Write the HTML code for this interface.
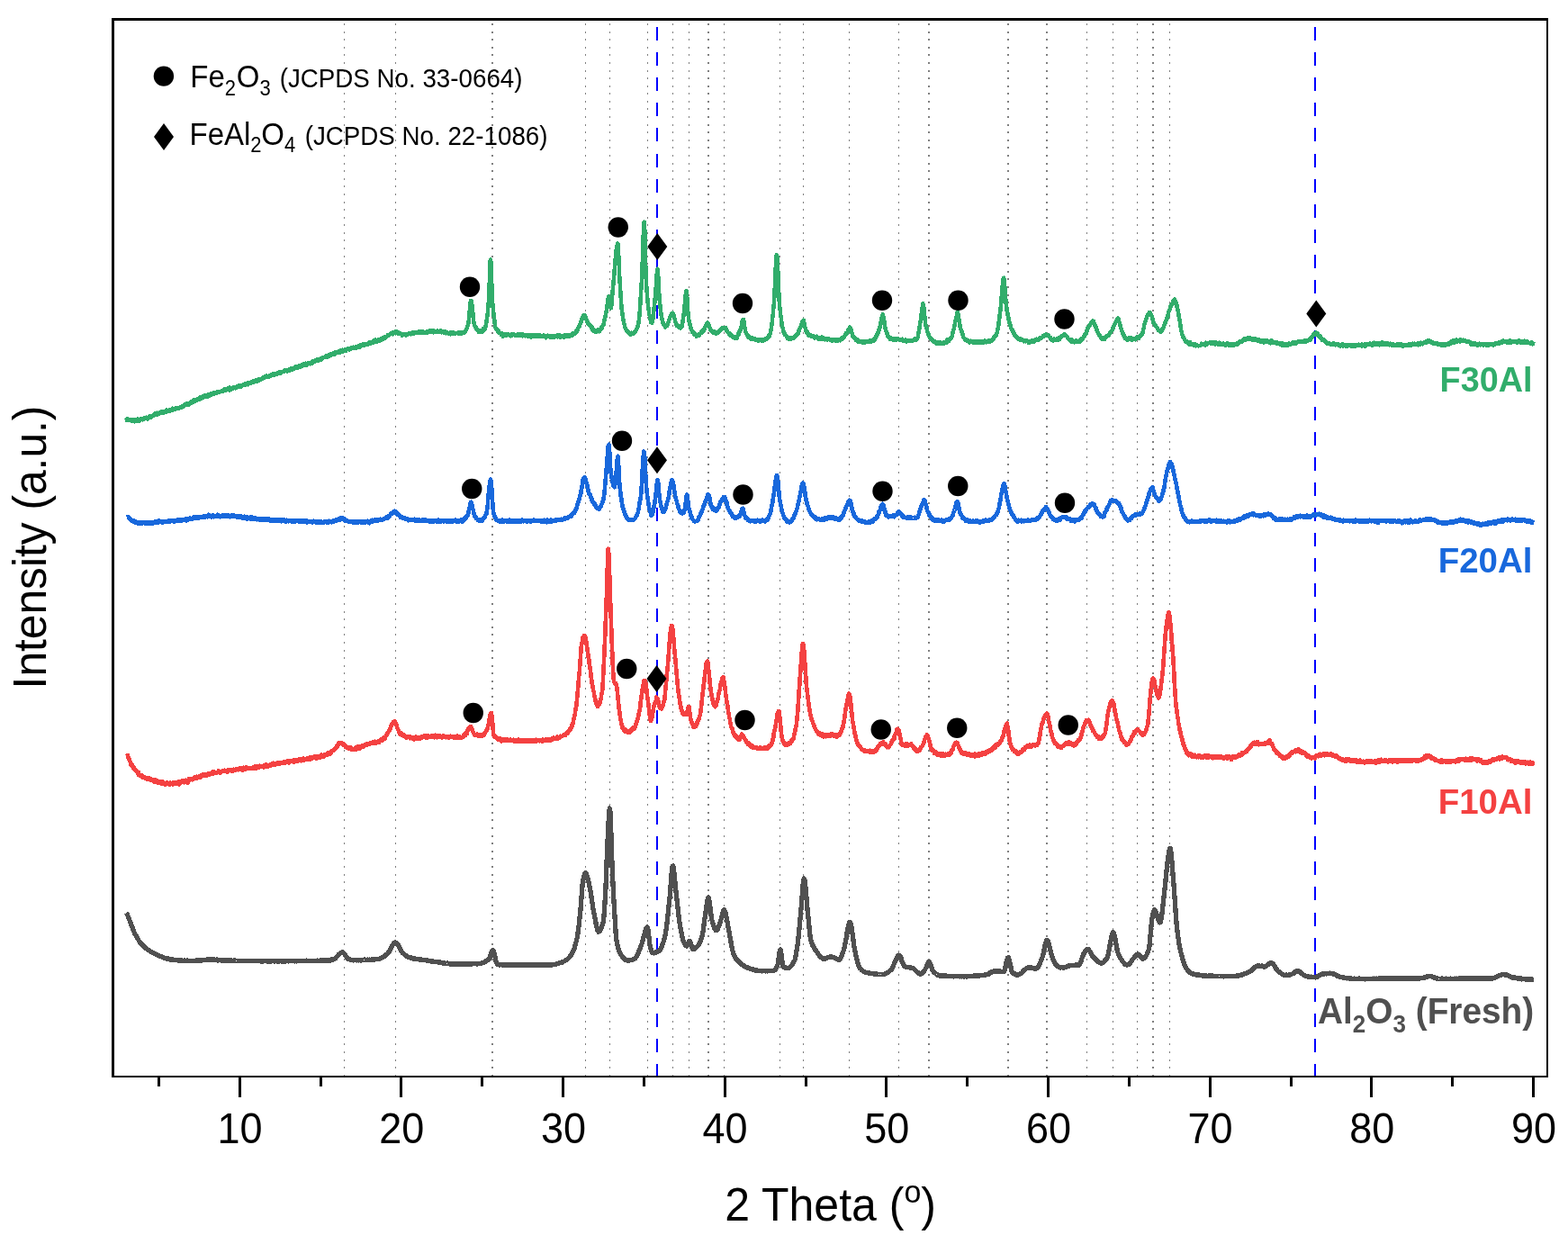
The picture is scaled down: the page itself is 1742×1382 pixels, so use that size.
<!DOCTYPE html>
<html lang="en"><head><meta charset="utf-8"><title>XRD patterns</title>
<style>html,body{margin:0;padding:0;background:#fff;}body{width:1742px;height:1382px;overflow:hidden;}svg{display:block;}text{font-family:"Liberation Sans",Arial,Helvetica,sans-serif;}</style>
</head><body>
<svg width="1742" height="1382" viewBox="0 0 1742 1382">
<rect x="0" y="0" width="1742" height="1382" fill="#ffffff"/>
<g stroke="#808080" fill="none" shape-rendering="crispEdges">
<line x1="382.5" y1="26.0" x2="382.5" y2="1195.0" stroke-width="1" stroke-dasharray="2 6.587"/>
<line x1="439.5" y1="26.0" x2="439.5" y2="1195.0" stroke-width="1" stroke-dasharray="2 6.587"/>
<line x1="547.0" y1="26.0" x2="547.0" y2="1195.0" stroke-width="2" stroke-dasharray="2 6.587"/>
<line x1="650.5" y1="26.0" x2="650.5" y2="1195.0" stroke-width="1" stroke-dasharray="2 6.587"/>
<line x1="677.5" y1="26.0" x2="677.5" y2="1195.0" stroke-width="1" stroke-dasharray="2 6.587"/>
<line x1="719.5" y1="26.0" x2="719.5" y2="1195.0" stroke-width="1" stroke-dasharray="2 6.587"/>
<line x1="747.5" y1="26.0" x2="747.5" y2="1195.0" stroke-width="1" stroke-dasharray="2 6.587"/>
<line x1="765.5" y1="26.0" x2="765.5" y2="1195.0" stroke-width="1" stroke-dasharray="2 6.587"/>
<line x1="787.0" y1="26.0" x2="787.0" y2="1195.0" stroke-width="2" stroke-dasharray="2 6.587"/>
<line x1="804.5" y1="26.0" x2="804.5" y2="1195.0" stroke-width="1" stroke-dasharray="2 6.587"/>
<line x1="866.5" y1="26.0" x2="866.5" y2="1195.0" stroke-width="1" stroke-dasharray="2 6.587"/>
<line x1="892.5" y1="26.0" x2="892.5" y2="1195.0" stroke-width="1" stroke-dasharray="2 6.587"/>
<line x1="943.5" y1="26.0" x2="943.5" y2="1195.0" stroke-width="1" stroke-dasharray="2 6.587"/>
<line x1="998.5" y1="26.0" x2="998.5" y2="1195.0" stroke-width="1" stroke-dasharray="2 6.587"/>
<line x1="1032.0" y1="26.0" x2="1032.0" y2="1195.0" stroke-width="2" stroke-dasharray="2 6.587"/>
<line x1="1120.0" y1="26.0" x2="1120.0" y2="1195.0" stroke-width="2" stroke-dasharray="2 6.587"/>
<line x1="1163.0" y1="26.0" x2="1163.0" y2="1195.0" stroke-width="2" stroke-dasharray="2 6.587"/>
<line x1="1207.5" y1="26.0" x2="1207.5" y2="1195.0" stroke-width="1" stroke-dasharray="2 6.587"/>
<line x1="1236.5" y1="26.0" x2="1236.5" y2="1195.0" stroke-width="1" stroke-dasharray="2 6.587"/>
<line x1="1263.5" y1="26.0" x2="1263.5" y2="1195.0" stroke-width="1" stroke-dasharray="2 6.587"/>
<line x1="1281.0" y1="26.0" x2="1281.0" y2="1195.0" stroke-width="2" stroke-dasharray="2 6.587"/>
<line x1="1299.5" y1="26.0" x2="1299.5" y2="1195.0" stroke-width="1" stroke-dasharray="2 6.587"/>
</g>
<g stroke="#0000ff" stroke-width="2" fill="none" shape-rendering="crispEdges" stroke-dasharray="15 13.1">
<line x1="730.0" y1="30.0" x2="730.0" y2="1195.0"/>
<line x1="1461.0" y1="30.0" x2="1461.0" y2="1195.0"/>
</g>
<polyline fill="none" stroke="#505050" stroke-width="5.3" stroke-linejoin="round" stroke-linecap="butt" shape-rendering="crispEdges" points="140.5,1014.0 140.9,1014.7 141.3,1015.7 141.7,1016.6 142.1,1017.9 142.5,1018.4 142.9,1020.0 143.3,1020.6 143.7,1021.8 144.1,1022.7 144.5,1024.0 144.9,1024.4 145.3,1025.7 145.7,1026.7 146.1,1028.0 146.5,1028.7 146.9,1029.9 147.3,1030.9 147.7,1032.1 148.1,1033.2 148.5,1033.9 148.9,1035.2 149.3,1036.1 149.7,1037.0 150.1,1037.8 150.5,1038.4 150.9,1039.3 151.3,1039.9 151.7,1040.7 152.1,1041.6 152.5,1042.1 152.9,1042.8 153.3,1043.4 153.7,1044.0 154.1,1044.7 154.5,1045.3 154.9,1045.7 155.3,1046.4 155.7,1047.1 156.1,1047.5 156.5,1047.8 156.9,1048.2 157.3,1048.7 157.7,1049.5 158.1,1049.7 158.5,1050.0 158.9,1050.6 159.3,1051.3 159.7,1051.4 160.1,1051.8 160.5,1052.1 160.9,1052.4 161.3,1052.6 161.7,1053.1 162.1,1053.4 162.5,1053.8 162.9,1054.2 163.3,1054.5 163.7,1054.7 164.1,1055.1 164.5,1055.1 164.9,1055.7 165.3,1055.8 165.7,1056.0 166.1,1056.3 166.5,1056.5 166.9,1056.9 167.3,1057.2 167.7,1057.6 168.1,1057.3 168.5,1057.5 168.9,1057.9 169.3,1058.2 169.7,1058.5 170.1,1058.7 170.5,1058.5 170.9,1059.0 171.3,1059.4 171.7,1059.5 172.1,1059.8 172.5,1059.8 172.9,1060.0 173.3,1060.3 173.7,1060.5 174.1,1060.6 174.5,1060.8 174.9,1060.9 175.3,1061.2 175.7,1061.3 176.1,1061.7 176.5,1061.8 176.9,1061.9 177.3,1062.0 177.7,1062.1 178.1,1062.4 178.5,1062.6 178.9,1062.7 179.3,1062.9 179.7,1063.0 180.1,1063.3 180.5,1063.3 180.9,1063.7 181.3,1063.7 181.7,1063.9 182.1,1063.8 182.5,1064.2 182.9,1064.4 183.3,1064.3 183.7,1064.5 184.1,1064.7 184.5,1064.6 184.9,1064.9 185.3,1065.1 185.7,1065.0 186.1,1065.3 186.5,1065.1 186.9,1065.4 187.3,1065.2 187.7,1065.7 188.1,1065.7 188.5,1065.7 188.9,1065.6 189.3,1066.0 189.7,1066.2 190.1,1065.7 190.5,1066.2 190.9,1066.3 191.3,1066.2 191.7,1066.0 192.1,1066.4 192.5,1066.3 192.9,1066.2 193.3,1066.2 193.7,1066.5 194.1,1066.6 194.5,1066.4 194.9,1066.6 195.3,1066.4 195.7,1066.8 196.1,1066.7 196.5,1066.7 196.9,1066.8 197.3,1066.9 197.7,1066.9 198.1,1066.9 198.5,1066.9 198.9,1066.9 199.3,1067.0 199.7,1067.0 200.1,1067.1 200.5,1067.0 200.9,1066.7 201.3,1067.2 201.7,1067.4 202.1,1067.2 202.5,1067.1 202.9,1067.2 203.3,1067.2 203.7,1067.2 204.1,1067.1 204.5,1067.2 204.9,1067.1 205.3,1067.3 205.7,1067.3 206.1,1067.4 206.5,1067.3 206.9,1067.5 207.3,1067.4 207.7,1067.7 208.1,1067.1 208.5,1067.3 208.9,1067.6 209.3,1067.8 209.7,1067.4 210.1,1067.5 210.5,1067.4 210.9,1067.7 211.3,1067.5 211.7,1067.6 212.1,1067.5 212.5,1067.3 212.9,1067.5 213.3,1067.6 213.7,1067.7 214.1,1067.5 214.5,1067.4 214.9,1067.5 215.3,1067.5 215.7,1067.4 216.1,1067.4 216.5,1067.5 216.9,1067.4 217.3,1067.6 217.7,1067.4 218.1,1067.3 218.5,1066.9 218.9,1067.2 219.3,1067.2 219.7,1067.2 220.1,1067.2 220.5,1066.9 220.9,1067.1 221.3,1066.8 221.7,1067.1 222.1,1066.6 222.5,1066.5 222.9,1066.5 223.3,1066.5 223.7,1066.4 224.1,1066.9 224.5,1066.5 224.9,1066.3 225.3,1066.6 225.7,1066.3 226.1,1066.2 226.5,1066.5 226.9,1066.4 227.3,1066.2 227.7,1066.4 228.1,1066.2 228.5,1066.4 228.9,1066.2 229.3,1066.3 229.7,1066.1 230.1,1065.9 230.5,1066.4 230.9,1065.9 231.3,1066.0 231.7,1065.9 232.1,1066.0 232.5,1066.0 232.9,1066.0 233.3,1066.1 233.7,1066.3 234.1,1066.0 234.5,1065.8 234.9,1065.9 235.3,1066.0 235.7,1065.8 236.1,1066.2 236.5,1066.0 236.9,1066.1 237.3,1066.2 237.7,1066.0 238.1,1066.1 238.5,1066.3 238.9,1066.4 239.3,1066.2 239.7,1066.6 240.1,1066.2 240.5,1066.3 240.9,1066.4 241.3,1066.0 241.7,1066.8 242.1,1066.6 242.5,1066.4 242.9,1066.9 243.3,1066.7 243.7,1066.7 244.1,1066.6 244.5,1066.7 244.9,1066.5 245.3,1066.9 245.7,1066.7 246.1,1066.8 246.5,1067.0 246.9,1066.9 247.3,1066.9 247.7,1066.9 248.1,1066.8 248.5,1067.1 248.9,1067.2 249.3,1067.1 249.7,1067.1 250.1,1066.9 250.5,1066.9 250.9,1066.8 251.3,1067.2 251.7,1067.0 252.1,1067.3 252.5,1066.9 252.9,1067.0 253.3,1067.1 253.7,1067.2 254.1,1067.1 254.5,1067.1 254.9,1067.1 255.3,1067.2 255.7,1067.0 256.1,1067.2 256.5,1067.1 256.9,1067.2 257.3,1067.3 257.7,1067.1 258.1,1067.2 258.5,1067.2 258.9,1067.3 259.3,1067.3 259.7,1067.1 260.1,1067.3 260.5,1067.6 260.9,1067.0 261.3,1067.2 261.7,1067.2 262.1,1067.3 262.5,1067.5 262.9,1067.3 263.3,1067.2 263.7,1067.4 264.1,1067.2 264.5,1067.5 264.9,1067.4 265.3,1067.6 265.7,1067.3 266.1,1067.8 266.5,1067.5 266.9,1067.5 267.3,1067.4 267.7,1067.3 268.1,1067.3 268.5,1067.4 268.9,1067.3 269.3,1067.5 269.7,1067.3 270.1,1067.5 270.5,1067.6 270.9,1067.4 271.3,1067.7 271.7,1067.4 272.1,1067.7 272.5,1067.6 272.9,1067.7 273.3,1067.4 273.7,1067.5 274.1,1067.7 274.5,1067.4 274.9,1067.2 275.3,1067.3 275.7,1067.2 276.1,1067.2 276.5,1067.5 276.9,1067.8 277.3,1067.5 277.7,1067.6 278.1,1067.6 278.5,1067.6 278.9,1067.6 279.3,1067.6 279.7,1067.7 280.1,1067.4 280.5,1067.8 280.9,1067.8 281.3,1067.6 281.7,1067.8 282.1,1067.5 282.5,1067.6 282.9,1067.7 283.3,1067.6 283.7,1067.6 284.1,1067.6 284.5,1067.6 284.9,1067.8 285.3,1067.4 285.7,1067.7 286.1,1067.6 286.5,1067.8 286.9,1067.8 287.3,1067.3 287.7,1067.8 288.1,1067.7 288.5,1067.7 288.9,1067.6 289.3,1067.8 289.7,1067.6 290.1,1068.0 290.5,1067.8 290.9,1068.0 291.3,1067.6 291.7,1067.5 292.1,1067.8 292.5,1067.9 292.9,1067.7 293.3,1067.5 293.7,1067.7 294.1,1067.8 294.5,1067.7 294.9,1067.7 295.3,1067.7 295.7,1067.6 296.1,1067.7 296.5,1067.5 296.9,1068.0 297.3,1067.7 297.7,1067.8 298.1,1067.6 298.5,1067.9 298.9,1067.5 299.3,1067.9 299.7,1067.7 300.1,1068.1 300.5,1067.6 300.9,1067.8 301.3,1067.8 301.7,1067.9 302.1,1067.7 302.5,1067.8 302.9,1067.4 303.3,1067.6 303.7,1067.8 304.1,1067.9 304.5,1067.7 304.9,1068.1 305.3,1068.0 305.7,1067.7 306.1,1067.4 306.5,1067.5 306.9,1067.6 307.3,1067.9 307.7,1067.8 308.1,1067.4 308.5,1067.7 308.9,1068.0 309.3,1067.7 309.7,1067.6 310.1,1068.0 310.5,1067.7 310.9,1067.7 311.3,1067.8 311.7,1067.7 312.1,1067.7 312.5,1067.9 312.9,1067.9 313.3,1067.9 313.7,1067.7 314.1,1067.9 314.5,1067.7 314.9,1067.8 315.3,1067.9 315.7,1067.8 316.1,1068.0 316.5,1067.8 316.9,1067.5 317.3,1067.5 317.7,1067.9 318.1,1067.7 318.5,1067.8 318.9,1067.6 319.3,1067.8 319.7,1067.6 320.1,1067.9 320.5,1067.6 320.9,1067.9 321.3,1067.8 321.7,1067.6 322.1,1067.8 322.5,1067.5 322.9,1067.6 323.3,1067.8 323.7,1067.6 324.1,1067.6 324.5,1067.6 324.9,1067.5 325.3,1067.8 325.7,1067.7 326.1,1067.6 326.5,1067.6 326.9,1067.7 327.3,1067.9 327.7,1067.8 328.1,1067.6 328.5,1067.7 328.9,1067.6 329.3,1067.6 329.7,1067.9 330.1,1067.5 330.5,1067.5 330.9,1067.3 331.3,1067.4 331.7,1067.7 332.1,1067.5 332.5,1067.7 332.9,1067.4 333.3,1067.5 333.7,1067.7 334.1,1067.8 334.5,1067.7 334.9,1067.7 335.3,1067.8 335.7,1067.7 336.1,1067.4 336.5,1067.5 336.9,1067.6 337.3,1067.5 337.7,1067.6 338.1,1067.3 338.5,1067.4 338.9,1067.6 339.3,1067.2 339.7,1067.3 340.1,1067.5 340.5,1067.2 340.9,1067.5 341.3,1067.3 341.7,1067.4 342.1,1067.4 342.5,1067.5 342.9,1067.4 343.3,1067.4 343.7,1067.3 344.1,1067.5 344.5,1067.7 344.9,1067.4 345.3,1067.4 345.7,1067.2 346.1,1067.5 346.5,1067.3 346.9,1067.2 347.3,1067.4 347.7,1067.4 348.1,1067.5 348.5,1067.6 348.9,1067.3 349.3,1067.3 349.7,1067.6 350.1,1067.5 350.5,1067.4 350.9,1067.5 351.3,1067.2 351.7,1067.4 352.1,1067.5 352.5,1067.5 352.9,1067.1 353.3,1067.2 353.7,1067.3 354.1,1067.2 354.5,1067.2 354.9,1067.3 355.3,1067.1 355.7,1066.9 356.1,1067.2 356.5,1067.1 356.9,1067.0 357.3,1066.9 357.7,1067.3 358.1,1066.8 358.5,1066.9 358.9,1067.1 359.3,1067.3 359.7,1067.3 360.1,1066.9 360.5,1067.0 360.9,1066.8 361.3,1067.2 361.7,1066.8 362.1,1067.0 362.5,1067.2 362.9,1067.0 363.3,1067.2 363.7,1066.8 364.1,1067.0 364.5,1067.0 364.9,1066.8 365.3,1067.0 365.7,1066.8 366.1,1066.4 366.5,1067.2 366.9,1066.6 367.3,1066.4 367.7,1066.1 368.1,1066.3 368.5,1066.1 368.9,1066.2 369.3,1066.0 369.7,1066.1 370.1,1065.8 370.5,1065.7 370.9,1065.6 371.3,1065.4 371.7,1065.2 372.1,1065.1 372.5,1064.8 372.9,1064.2 373.3,1063.7 373.7,1063.5 374.1,1063.2 374.5,1062.6 374.9,1062.4 375.3,1061.5 375.7,1061.2 376.1,1060.3 376.5,1060.2 376.9,1059.8 377.3,1059.5 377.7,1059.3 378.1,1058.8 378.5,1058.7 378.9,1058.4 379.3,1058.3 379.7,1058.0 380.1,1058.2 380.5,1057.9 380.9,1058.3 381.3,1058.4 381.7,1058.8 382.1,1059.1 382.5,1059.7 382.9,1060.3 383.3,1060.8 383.7,1061.1 384.1,1062.1 384.5,1062.5 384.9,1063.1 385.3,1063.6 385.7,1063.9 386.1,1064.2 386.5,1064.7 386.9,1065.4 387.3,1065.3 387.7,1065.7 388.1,1065.6 388.5,1065.9 388.9,1065.7 389.3,1066.3 389.7,1066.3 390.1,1066.5 390.5,1066.5 390.9,1066.7 391.3,1066.6 391.7,1066.8 392.1,1066.5 392.5,1066.6 392.9,1066.9 393.3,1066.7 393.7,1066.7 394.1,1066.7 394.5,1066.8 394.9,1066.7 395.3,1066.8 395.7,1066.6 396.1,1066.7 396.5,1066.9 396.9,1066.9 397.3,1066.6 397.7,1066.8 398.1,1066.5 398.5,1066.8 398.9,1066.4 399.3,1066.5 399.7,1066.6 400.1,1066.6 400.5,1066.9 400.9,1066.8 401.3,1066.9 401.7,1066.8 402.1,1066.6 402.5,1066.6 402.9,1066.7 403.3,1066.6 403.7,1066.5 404.1,1066.3 404.5,1066.5 404.9,1066.1 405.3,1066.4 405.7,1066.3 406.1,1066.6 406.5,1066.4 406.9,1066.4 407.3,1066.6 407.7,1066.2 408.1,1066.4 408.5,1066.1 408.9,1066.3 409.3,1066.4 409.7,1066.4 410.1,1066.1 410.5,1066.3 410.9,1066.3 411.3,1066.2 411.7,1066.2 412.1,1066.2 412.5,1066.2 412.9,1065.9 413.3,1065.9 413.7,1066.4 414.1,1066.3 414.5,1065.8 414.9,1066.0 415.3,1066.0 415.7,1066.0 416.1,1065.9 416.5,1065.7 416.9,1065.8 417.3,1065.7 417.7,1065.7 418.1,1065.6 418.5,1065.6 418.9,1065.8 419.3,1065.8 419.7,1065.4 420.1,1065.4 420.5,1065.3 420.9,1065.5 421.3,1065.3 421.7,1065.4 422.1,1065.0 422.5,1064.9 422.9,1064.5 423.3,1064.7 423.7,1064.3 424.1,1063.9 424.5,1063.8 424.9,1063.3 425.3,1063.4 425.7,1063.2 426.1,1063.0 426.5,1062.9 426.9,1062.3 427.3,1062.2 427.7,1061.8 428.1,1061.5 428.5,1060.9 428.9,1061.0 429.3,1060.5 429.7,1060.2 430.1,1059.7 430.5,1059.6 430.9,1059.1 431.3,1058.5 431.7,1057.9 432.1,1057.5 432.5,1056.8 432.9,1056.0 433.3,1055.6 433.7,1054.3 434.1,1053.5 434.5,1052.7 434.9,1052.1 435.3,1051.2 435.7,1050.2 436.1,1049.8 436.5,1049.3 436.9,1048.9 437.3,1048.0 437.7,1047.7 438.1,1047.4 438.5,1047.1 438.9,1047.1 439.3,1047.0 439.7,1047.1 440.1,1047.2 440.5,1047.8 440.9,1048.0 441.3,1048.7 441.7,1049.0 442.1,1049.7 442.5,1050.2 442.9,1050.9 443.3,1051.7 443.7,1052.6 444.1,1053.3 444.5,1054.4 444.9,1054.7 445.3,1055.5 445.7,1056.6 446.1,1057.1 446.5,1057.3 446.9,1058.2 447.3,1058.6 447.7,1058.6 448.1,1059.2 448.5,1059.6 448.9,1060.1 449.3,1060.5 449.7,1060.7 450.1,1061.1 450.5,1061.3 450.9,1061.4 451.3,1061.7 451.7,1062.2 452.1,1062.1 452.5,1062.7 452.9,1062.7 453.3,1063.0 453.7,1063.3 454.1,1063.6 454.5,1063.3 454.9,1063.6 455.3,1063.8 455.7,1063.9 456.1,1064.2 456.5,1063.8 456.9,1064.3 457.3,1064.4 457.7,1064.5 458.1,1064.7 458.5,1064.4 458.9,1064.9 459.3,1064.7 459.7,1065.0 460.1,1064.9 460.5,1065.1 460.9,1065.2 461.3,1064.9 461.7,1065.2 462.1,1065.3 462.5,1065.3 462.9,1065.3 463.3,1065.8 463.7,1065.6 464.1,1065.8 464.5,1065.6 464.9,1065.6 465.3,1065.8 465.7,1065.7 466.1,1066.2 466.5,1066.0 466.9,1066.1 467.3,1066.0 467.7,1066.0 468.1,1066.1 468.5,1066.2 468.9,1066.3 469.3,1066.2 469.7,1066.2 470.1,1066.2 470.5,1066.4 470.9,1066.5 471.3,1066.6 471.7,1066.6 472.1,1066.5 472.5,1066.7 472.9,1066.8 473.3,1066.8 473.7,1066.8 474.1,1066.8 474.5,1067.1 474.9,1066.9 475.3,1067.1 475.7,1067.2 476.1,1067.3 476.5,1067.5 476.9,1067.4 477.3,1067.4 477.7,1067.2 478.1,1067.6 478.5,1067.9 478.9,1067.5 479.3,1067.5 479.7,1067.7 480.1,1068.0 480.5,1068.0 480.9,1067.9 481.3,1068.0 481.7,1068.3 482.1,1068.3 482.5,1068.6 482.9,1068.5 483.3,1068.4 483.7,1068.6 484.1,1068.5 484.5,1068.5 484.9,1068.7 485.3,1068.8 485.7,1068.6 486.1,1068.8 486.5,1068.9 486.9,1069.1 487.3,1069.1 487.7,1069.2 488.1,1069.2 488.5,1069.5 488.9,1069.1 489.3,1069.7 489.7,1069.7 490.1,1069.6 490.5,1069.7 490.9,1069.8 491.3,1069.6 491.7,1069.8 492.1,1070.0 492.5,1070.0 492.9,1070.2 493.3,1070.1 493.7,1070.1 494.1,1070.1 494.5,1070.2 494.9,1070.2 495.3,1070.6 495.7,1070.4 496.1,1070.3 496.5,1070.5 496.9,1070.5 497.3,1070.1 497.7,1070.7 498.1,1070.4 498.5,1070.8 498.9,1070.6 499.3,1070.5 499.7,1070.9 500.1,1070.6 500.5,1070.8 500.9,1070.9 501.3,1071.0 501.7,1071.0 502.1,1070.9 502.5,1070.8 502.9,1071.3 503.3,1070.9 503.7,1071.3 504.1,1070.9 504.5,1071.2 504.9,1071.2 505.3,1070.8 505.7,1071.1 506.1,1071.1 506.5,1071.1 506.9,1071.0 507.3,1071.0 507.7,1070.9 508.1,1070.8 508.5,1071.1 508.9,1070.9 509.3,1071.2 509.7,1071.1 510.1,1070.9 510.5,1071.0 510.9,1070.9 511.3,1070.9 511.7,1071.1 512.1,1070.9 512.5,1071.2 512.9,1071.1 513.3,1070.8 513.7,1071.0 514.1,1070.9 514.5,1070.7 514.9,1071.1 515.3,1071.1 515.7,1071.1 516.1,1070.9 516.5,1071.1 516.9,1070.9 517.3,1071.1 517.7,1071.2 518.1,1071.0 518.5,1070.7 518.9,1070.9 519.3,1071.0 519.7,1071.1 520.1,1070.7 520.5,1070.9 520.9,1070.9 521.3,1071.0 521.7,1071.0 522.1,1070.7 522.5,1070.8 522.9,1071.0 523.3,1070.9 523.7,1070.9 524.1,1071.0 524.5,1070.9 524.9,1070.9 525.3,1070.8 525.7,1070.6 526.1,1070.6 526.5,1070.8 526.9,1070.8 527.3,1070.7 527.7,1070.8 528.1,1070.7 528.5,1070.8 528.9,1070.8 529.3,1070.6 529.7,1070.4 530.1,1071.0 530.5,1070.8 530.9,1070.3 531.3,1070.6 531.7,1070.7 532.1,1070.5 532.5,1070.6 532.9,1070.3 533.3,1070.4 533.7,1070.3 534.1,1070.2 534.5,1070.1 534.9,1070.0 535.3,1070.0 535.7,1069.6 536.1,1069.5 536.5,1069.5 536.9,1069.3 537.3,1069.2 537.7,1069.1 538.1,1069.0 538.5,1068.6 538.9,1068.0 539.3,1068.2 539.7,1068.0 540.1,1067.7 540.5,1067.5 540.9,1066.9 541.3,1067.1 541.7,1066.7 542.1,1066.3 542.5,1066.1 542.9,1065.7 543.3,1065.3 543.7,1064.4 544.1,1063.5 544.5,1062.2 544.9,1060.8 545.3,1059.6 545.7,1058.9 546.1,1058.0 546.5,1056.9 546.9,1056.4 547.3,1055.8 547.7,1055.8 548.1,1056.4 548.5,1057.5 548.9,1058.7 549.3,1060.3 549.7,1061.9 550.1,1063.9 550.5,1065.7 550.9,1067.2 551.3,1068.9 551.7,1069.7 552.1,1070.6 552.5,1071.1 552.9,1071.1 553.3,1071.4 553.7,1071.2 554.1,1071.6 554.5,1071.5 554.9,1071.9 555.3,1071.5 555.7,1071.6 556.1,1071.8 556.5,1071.5 556.9,1071.9 557.3,1071.9 557.7,1071.9 558.1,1071.7 558.5,1071.7 558.9,1072.1 559.3,1072.2 559.7,1072.2 560.1,1071.9 560.5,1071.8 560.9,1072.0 561.3,1071.7 561.7,1071.9 562.1,1072.1 562.5,1072.2 562.9,1072.0 563.3,1072.2 563.7,1072.1 564.1,1072.0 564.5,1072.0 564.9,1072.0 565.3,1072.0 565.7,1072.0 566.1,1071.9 566.5,1072.0 566.9,1072.0 567.3,1071.8 567.7,1072.0 568.1,1071.9 568.5,1071.7 568.9,1072.1 569.3,1072.2 569.7,1072.4 570.1,1072.2 570.5,1071.9 570.9,1072.2 571.3,1072.2 571.7,1071.7 572.1,1072.1 572.5,1072.1 572.9,1072.0 573.3,1072.0 573.7,1072.0 574.1,1072.2 574.5,1071.9 574.9,1072.0 575.3,1072.0 575.7,1072.0 576.1,1071.7 576.5,1072.2 576.9,1072.0 577.3,1072.1 577.7,1072.0 578.1,1072.0 578.5,1071.9 578.9,1072.0 579.3,1072.0 579.7,1072.2 580.1,1072.1 580.5,1072.0 580.9,1072.3 581.3,1071.8 581.7,1071.8 582.1,1072.1 582.5,1072.0 582.9,1071.7 583.3,1072.0 583.7,1071.9 584.1,1072.2 584.5,1071.9 584.9,1072.2 585.3,1072.1 585.7,1072.0 586.1,1072.0 586.5,1072.1 586.9,1071.7 587.3,1072.0 587.7,1071.9 588.1,1072.3 588.5,1071.9 588.9,1072.2 589.3,1071.6 589.7,1072.1 590.1,1072.0 590.5,1072.0 590.9,1072.0 591.3,1072.0 591.7,1072.1 592.1,1072.0 592.5,1071.7 592.9,1072.0 593.3,1072.3 593.7,1072.0 594.1,1072.0 594.5,1071.9 594.9,1072.0 595.3,1072.0 595.7,1072.0 596.1,1072.1 596.5,1071.9 596.9,1072.0 597.3,1072.1 597.7,1072.0 598.1,1071.8 598.5,1072.1 598.9,1071.9 599.3,1071.9 599.7,1071.9 600.1,1072.0 600.5,1071.9 600.9,1071.9 601.3,1072.1 601.7,1072.3 602.1,1071.9 602.5,1072.1 602.9,1071.9 603.3,1072.0 603.7,1072.2 604.1,1072.0 604.5,1071.9 604.9,1071.9 605.3,1071.9 605.7,1072.0 606.1,1072.1 606.5,1071.8 606.9,1071.8 607.3,1071.9 607.7,1071.7 608.1,1072.2 608.5,1072.0 608.9,1072.3 609.3,1071.8 609.7,1072.2 610.1,1071.9 610.5,1071.9 610.9,1071.8 611.3,1071.8 611.7,1071.7 612.1,1072.0 612.5,1071.7 612.9,1071.8 613.3,1071.8 613.7,1071.9 614.1,1071.7 614.5,1071.7 614.9,1071.7 615.3,1071.5 615.7,1071.5 616.1,1071.2 616.5,1071.2 616.9,1071.5 617.3,1071.1 617.7,1070.9 618.1,1071.1 618.5,1070.8 618.9,1070.6 619.3,1070.4 619.7,1070.6 620.1,1070.2 620.5,1070.2 620.9,1070.2 621.3,1070.0 621.7,1069.9 622.1,1069.7 622.5,1069.8 622.9,1069.8 623.3,1069.3 623.7,1069.3 624.1,1069.4 624.5,1069.1 624.9,1068.7 625.3,1068.6 625.7,1068.4 626.1,1068.2 626.5,1068.0 626.9,1067.9 627.3,1067.6 627.7,1067.5 628.1,1067.2 628.5,1066.8 628.9,1066.7 629.3,1066.3 629.7,1066.0 630.1,1065.8 630.5,1065.3 630.9,1064.8 631.3,1064.6 631.7,1064.1 632.1,1064.1 632.5,1063.3 632.9,1062.9 633.3,1062.4 633.7,1061.8 634.1,1061.4 634.5,1060.7 634.9,1060.0 635.3,1059.5 635.7,1059.0 636.1,1057.9 636.5,1057.4 636.9,1056.3 637.3,1055.5 637.7,1054.3 638.1,1053.5 638.5,1052.1 638.9,1050.5 639.3,1049.6 639.7,1047.8 640.1,1046.2 640.5,1044.5 640.9,1043.0 641.3,1041.3 641.7,1038.7 642.1,1035.9 642.5,1032.9 642.9,1030.0 643.3,1026.6 643.7,1022.6 644.1,1018.9 644.5,1014.9 644.9,1011.0 645.3,1006.8 645.7,1001.5 646.1,995.8 646.5,990.1 646.9,985.2 647.3,981.3 647.7,979.0 648.1,977.0 648.5,974.9 648.9,973.3 649.3,971.9 649.7,970.9 650.1,970.1 650.5,969.8 650.9,970.4 651.3,970.9 651.7,971.8 652.1,973.1 652.5,974.2 652.9,975.7 653.3,977.5 653.7,978.9 654.1,980.8 654.5,982.9 654.9,984.6 655.3,986.2 655.7,988.5 656.1,990.8 656.5,993.2 656.9,995.7 657.3,998.2 657.7,1001.0 658.1,1003.8 658.5,1006.3 658.9,1009.0 659.3,1011.3 659.7,1013.5 660.1,1015.2 660.5,1017.7 660.9,1019.9 661.3,1021.7 661.7,1023.7 662.1,1026.1 662.5,1027.9 662.9,1029.7 663.3,1031.6 663.7,1032.6 664.1,1034.0 664.5,1034.5 664.9,1035.2 665.3,1035.0 665.7,1034.7 666.1,1034.5 666.5,1034.1 666.9,1033.5 667.3,1032.8 667.7,1032.0 668.1,1030.9 668.5,1030.0 668.9,1028.5 669.3,1027.6 669.7,1026.2 670.1,1024.8 670.5,1021.9 670.9,1018.1 671.3,1013.2 671.7,1007.3 672.1,1000.7 672.5,993.9 672.9,986.8 673.3,979.0 673.7,968.6 674.1,957.5 674.5,946.5 674.9,937.1 675.3,929.1 675.7,921.0 676.1,913.1 676.5,906.2 676.9,900.9 677.3,897.9 677.7,898.7 678.1,904.0 678.5,914.0 678.9,926.6 679.3,939.9 679.7,952.4 680.1,962.4 680.5,971.2 680.9,979.6 681.3,987.4 681.7,995.8 682.1,1002.9 682.5,1009.9 682.9,1016.6 683.3,1023.6 683.7,1030.0 684.1,1036.1 684.5,1041.0 684.9,1044.3 685.3,1046.6 685.7,1048.8 686.1,1050.4 686.5,1052.3 686.9,1053.7 687.3,1055.1 687.7,1056.4 688.1,1057.6 688.5,1058.4 688.9,1059.2 689.3,1060.0 689.7,1060.3 690.1,1061.4 690.5,1061.5 690.9,1062.3 691.3,1062.6 691.7,1063.2 692.1,1063.6 692.5,1064.1 692.9,1064.3 693.3,1064.5 693.7,1065.3 694.1,1065.5 694.5,1065.8 694.9,1066.0 695.3,1066.7 695.7,1066.5 696.1,1066.8 696.5,1066.7 696.9,1067.2 697.3,1066.9 697.7,1066.6 698.1,1067.4 698.5,1066.8 698.9,1067.1 699.3,1067.0 699.7,1066.9 700.1,1066.7 700.5,1066.7 700.9,1066.7 701.3,1066.4 701.7,1066.3 702.1,1066.3 702.5,1066.1 702.9,1065.8 703.3,1066.0 703.7,1065.6 704.1,1065.4 704.5,1065.1 704.9,1064.9 705.3,1065.0 705.7,1064.6 706.1,1063.8 706.5,1063.5 706.9,1063.1 707.3,1062.6 707.7,1061.9 708.1,1060.9 708.5,1060.1 708.9,1058.9 709.3,1058.1 709.7,1056.9 710.1,1056.0 710.5,1055.1 710.9,1054.3 711.3,1053.1 711.7,1052.0 712.1,1050.9 712.5,1049.8 712.9,1049.0 713.3,1047.7 713.7,1046.4 714.1,1044.8 714.5,1043.4 714.9,1041.6 715.3,1040.3 715.7,1038.9 716.1,1037.3 716.5,1036.0 716.9,1034.4 717.3,1033.2 717.7,1032.1 718.1,1031.0 718.5,1030.8 718.9,1030.3 719.3,1030.0 719.7,1030.9 720.1,1033.4 720.5,1036.6 720.9,1040.2 721.3,1044.1 721.7,1047.6 722.1,1050.6 722.5,1052.7 722.9,1054.0 723.3,1054.7 723.7,1056.1 724.1,1056.9 724.5,1057.6 724.9,1058.5 725.3,1058.6 725.7,1058.3 726.1,1058.8 726.5,1058.9 726.9,1058.9 727.3,1058.5 727.7,1058.7 728.1,1057.9 728.5,1058.0 728.9,1058.1 729.3,1057.9 729.7,1057.9 730.1,1057.6 730.5,1057.2 730.9,1057.3 731.3,1056.9 731.7,1056.8 732.1,1056.2 732.5,1056.0 732.9,1055.6 733.3,1055.3 733.7,1054.6 734.1,1053.9 734.5,1053.0 734.9,1052.4 735.3,1051.6 735.7,1050.5 736.1,1048.8 736.5,1047.8 736.9,1047.0 737.3,1045.4 737.7,1044.0 738.1,1042.7 738.5,1041.0 738.9,1039.3 739.3,1037.4 739.7,1035.4 740.1,1032.2 740.5,1029.6 740.9,1026.1 741.3,1022.7 741.7,1019.4 742.1,1015.3 742.5,1011.8 742.9,1007.8 743.3,1003.9 743.7,1000.4 744.1,996.7 744.5,991.7 744.9,986.6 745.3,981.1 745.7,975.8 746.1,970.9 746.5,966.9 746.9,963.6 747.3,962.2 747.7,961.9 748.1,963.5 748.5,965.9 748.9,968.9 749.3,973.0 749.7,977.1 750.1,981.3 750.5,985.3 750.9,989.2 751.3,992.7 751.7,996.1 752.1,999.9 752.5,1004.0 752.9,1007.4 753.3,1011.1 753.7,1014.9 754.1,1018.6 754.5,1021.7 754.9,1024.5 755.3,1026.8 755.7,1029.4 756.1,1031.7 756.5,1033.9 756.9,1035.7 757.3,1038.0 757.7,1039.7 758.1,1041.5 758.5,1043.1 758.9,1044.7 759.3,1046.0 759.7,1046.9 760.1,1047.5 760.5,1048.1 760.9,1048.9 761.3,1049.5 761.7,1050.3 762.1,1050.5 762.5,1050.8 762.9,1051.0 763.3,1051.0 763.7,1050.5 764.1,1049.4 764.5,1048.2 764.9,1047.4 765.3,1046.3 765.7,1045.6 766.1,1045.7 766.5,1045.9 766.9,1046.4 767.3,1047.8 767.7,1049.0 768.1,1050.1 768.5,1051.3 768.9,1052.9 769.3,1053.9 769.7,1054.4 770.1,1054.3 770.5,1054.4 770.9,1054.4 771.3,1053.9 771.7,1054.0 772.1,1053.7 772.5,1053.6 772.9,1052.7 773.3,1052.7 773.7,1052.6 774.1,1051.8 774.5,1051.5 774.9,1051.2 775.3,1050.5 775.7,1050.3 776.1,1049.6 776.5,1048.7 776.9,1048.2 777.3,1047.2 777.7,1046.7 778.1,1045.3 778.5,1044.3 778.9,1043.3 779.3,1042.1 779.7,1041.2 780.1,1039.6 780.5,1037.9 780.9,1035.7 781.3,1032.8 781.7,1029.9 782.1,1026.8 782.5,1024.0 782.9,1021.0 783.3,1017.9 783.7,1015.2 784.1,1012.7 784.5,1009.8 784.9,1007.2 785.3,1004.2 785.7,1001.8 786.1,999.5 786.5,997.9 786.9,997.1 787.3,997.7 787.7,999.2 788.1,1001.3 788.5,1004.2 788.9,1007.3 789.3,1010.7 789.7,1014.1 790.1,1017.4 790.5,1020.4 790.9,1022.1 791.3,1023.3 791.7,1025.1 792.1,1026.1 792.5,1027.7 792.9,1028.8 793.3,1030.0 793.7,1031.5 794.1,1031.8 794.5,1032.6 794.9,1033.3 795.3,1033.6 795.7,1033.7 796.1,1033.5 796.5,1033.4 796.9,1032.9 797.3,1031.9 797.7,1030.9 798.1,1030.4 798.5,1028.8 798.9,1028.1 799.3,1026.9 799.7,1025.6 800.1,1024.9 800.5,1023.4 800.9,1022.0 801.3,1020.3 801.7,1019.0 802.1,1017.2 802.5,1015.8 802.9,1014.0 803.3,1013.0 803.7,1012.1 804.1,1011.2 804.5,1010.8 804.9,1011.2 805.3,1012.1 805.7,1013.1 806.1,1014.3 806.5,1015.8 806.9,1018.1 807.3,1020.3 807.7,1022.5 808.1,1024.7 808.5,1026.9 808.9,1029.1 809.3,1031.4 809.7,1033.3 810.1,1035.8 810.5,1037.5 810.9,1040.0 811.3,1042.0 811.7,1044.1 812.1,1047.0 812.5,1048.9 812.9,1051.2 813.3,1053.7 813.7,1055.6 814.1,1056.9 814.5,1058.6 814.9,1059.6 815.3,1060.7 815.7,1061.7 816.1,1062.1 816.5,1063.2 816.9,1063.5 817.3,1064.6 817.7,1064.7 818.1,1065.3 818.5,1066.0 818.9,1066.2 819.3,1067.1 819.7,1067.2 820.1,1067.8 820.5,1068.0 820.9,1068.6 821.3,1068.9 821.7,1069.2 822.1,1069.7 822.5,1069.8 822.9,1070.6 823.3,1070.7 823.7,1070.6 824.1,1071.7 824.5,1071.8 824.9,1072.2 825.3,1072.3 825.7,1072.3 826.1,1072.8 826.5,1073.0 826.9,1073.4 827.3,1073.6 827.7,1074.0 828.1,1073.9 828.5,1074.4 828.9,1074.5 829.3,1074.8 829.7,1074.6 830.1,1075.0 830.5,1075.4 830.9,1075.1 831.3,1075.6 831.7,1075.8 832.1,1075.7 832.5,1076.0 832.9,1076.1 833.3,1076.3 833.7,1076.2 834.1,1076.3 834.5,1076.6 834.9,1076.5 835.3,1076.7 835.7,1076.7 836.1,1076.6 836.5,1077.1 836.9,1077.4 837.3,1077.2 837.7,1077.4 838.1,1077.4 838.5,1077.5 838.9,1077.7 839.3,1077.9 839.7,1078.2 840.1,1078.1 840.5,1077.9 840.9,1077.9 841.3,1078.4 841.7,1078.3 842.1,1078.2 842.5,1078.2 842.9,1078.3 843.3,1078.7 843.7,1078.5 844.1,1078.4 844.5,1078.7 844.9,1078.7 845.3,1078.6 845.7,1078.8 846.1,1078.6 846.5,1078.9 846.9,1078.5 847.3,1078.6 847.7,1078.5 848.1,1078.7 848.5,1078.6 848.9,1078.7 849.3,1078.7 849.7,1078.8 850.1,1078.7 850.5,1078.8 850.9,1078.9 851.3,1078.7 851.7,1078.5 852.1,1078.8 852.5,1078.9 852.9,1078.7 853.3,1078.7 853.7,1078.5 854.1,1078.6 854.5,1078.6 854.9,1078.6 855.3,1078.4 855.7,1078.7 856.1,1078.5 856.5,1078.5 856.9,1078.4 857.3,1078.5 857.7,1078.4 858.1,1078.2 858.5,1078.3 858.9,1078.5 859.3,1078.4 859.7,1078.2 860.1,1078.2 860.5,1077.6 860.9,1077.7 861.3,1077.1 861.7,1076.3 862.1,1075.9 862.5,1075.3 862.9,1074.3 863.3,1073.8 863.7,1072.8 864.1,1071.1 864.5,1069.2 864.9,1066.4 865.3,1063.3 865.7,1060.4 866.1,1057.8 866.5,1055.8 866.9,1055.0 867.3,1055.6 867.7,1057.7 868.1,1060.7 868.5,1064.0 868.9,1067.7 869.3,1070.7 869.7,1073.2 870.1,1073.6 870.5,1073.9 870.9,1074.2 871.3,1074.6 871.7,1074.7 872.1,1074.9 872.5,1075.1 872.9,1075.2 873.3,1075.1 873.7,1075.3 874.1,1075.5 874.5,1075.5 874.9,1075.7 875.3,1075.4 875.7,1075.6 876.1,1075.5 876.5,1075.1 876.9,1074.9 877.3,1074.7 877.7,1074.4 878.1,1074.0 878.5,1073.8 878.9,1073.2 879.3,1072.8 879.7,1072.2 880.1,1071.4 880.5,1071.0 880.9,1070.3 881.3,1069.6 881.7,1068.8 882.1,1068.2 882.5,1067.4 882.9,1066.8 883.3,1065.4 883.7,1063.5 884.1,1061.7 884.5,1059.6 884.9,1057.0 885.3,1054.8 885.7,1052.1 886.1,1049.3 886.5,1046.0 886.9,1042.7 887.3,1039.1 887.7,1034.9 888.1,1030.7 888.5,1026.2 888.9,1021.9 889.3,1017.4 889.7,1012.9 890.1,1008.9 890.5,1004.1 890.9,998.6 891.3,993.5 891.7,987.9 892.1,983.0 892.5,979.3 892.9,976.7 893.3,976.1 893.7,976.6 894.1,978.7 894.5,981.9 894.9,985.8 895.3,989.9 895.7,994.7 896.1,999.4 896.5,1004.4 896.9,1008.9 897.3,1013.1 897.7,1016.9 898.1,1020.4 898.5,1024.8 898.9,1028.8 899.3,1032.8 899.7,1036.8 900.1,1040.0 900.5,1042.8 900.9,1044.4 901.3,1045.9 901.7,1047.1 902.1,1048.2 902.5,1049.4 902.9,1050.4 903.3,1050.9 903.7,1051.8 904.1,1052.4 904.5,1053.5 904.9,1053.9 905.3,1054.5 905.7,1055.1 906.1,1055.5 906.5,1056.2 906.9,1056.8 907.3,1057.4 907.7,1057.7 908.1,1058.3 908.5,1058.8 908.9,1059.6 909.3,1060.1 909.7,1060.5 910.1,1061.1 910.5,1061.5 910.9,1062.4 911.3,1062.5 911.7,1062.9 912.1,1063.4 912.5,1064.0 912.9,1064.1 913.3,1064.6 913.7,1064.6 914.1,1064.6 914.5,1065.1 914.9,1064.9 915.3,1064.8 915.7,1064.9 916.1,1065.0 916.5,1065.1 916.9,1064.5 917.3,1064.2 917.7,1064.5 918.1,1064.3 918.5,1064.0 918.9,1064.0 919.3,1063.9 919.7,1063.9 920.1,1063.5 920.5,1063.5 920.9,1063.2 921.3,1063.1 921.7,1063.1 922.1,1062.8 922.5,1062.8 922.9,1063.2 923.3,1062.8 923.7,1063.1 924.1,1063.2 924.5,1063.3 924.9,1063.2 925.3,1063.3 925.7,1063.6 926.1,1063.7 926.5,1064.0 926.9,1064.2 927.3,1064.3 927.7,1064.4 928.1,1064.8 928.5,1064.8 928.9,1065.0 929.3,1065.2 929.7,1065.5 930.1,1065.9 930.5,1065.9 930.9,1065.6 931.3,1065.7 931.7,1066.0 932.1,1066.1 932.5,1066.0 932.9,1066.2 933.3,1065.7 933.7,1065.3 934.1,1064.3 934.5,1063.4 934.9,1062.4 935.3,1061.5 935.7,1060.2 936.1,1059.1 936.5,1057.9 936.9,1056.9 937.3,1055.5 937.7,1054.2 938.1,1052.8 938.5,1051.1 938.9,1049.1 939.3,1046.7 939.7,1044.6 940.1,1042.3 940.5,1039.7 940.9,1037.2 941.3,1034.7 941.7,1032.4 942.1,1030.1 942.5,1028.7 942.9,1027.0 943.3,1025.8 943.7,1025.0 944.1,1024.4 944.5,1024.8 944.9,1025.4 945.3,1026.9 945.7,1028.6 946.1,1030.9 946.5,1033.3 946.9,1036.4 947.3,1038.9 947.7,1042.2 948.1,1045.3 948.5,1048.2 948.9,1051.1 949.3,1053.5 949.7,1056.1 950.1,1057.7 950.5,1059.7 950.9,1061.4 951.3,1063.1 951.7,1064.7 952.1,1066.5 952.5,1068.2 952.9,1069.6 953.3,1071.1 953.7,1072.1 954.1,1073.6 954.5,1074.2 954.9,1074.7 955.3,1075.6 955.7,1076.1 956.1,1076.3 956.5,1076.7 956.9,1077.3 957.3,1077.4 957.7,1078.0 958.1,1078.0 958.5,1078.5 958.9,1078.8 959.3,1079.3 959.7,1079.1 960.1,1079.6 960.5,1079.8 960.9,1080.0 961.3,1080.0 961.7,1080.1 962.1,1080.3 962.5,1080.5 962.9,1080.8 963.3,1080.7 963.7,1080.8 964.1,1080.9 964.5,1080.7 964.9,1081.1 965.3,1081.2 965.7,1081.3 966.1,1081.2 966.5,1081.1 966.9,1081.2 967.3,1081.5 967.7,1081.6 968.1,1081.7 968.5,1081.8 968.9,1081.8 969.3,1081.7 969.7,1081.8 970.1,1081.8 970.5,1082.0 970.9,1082.0 971.3,1082.0 971.7,1081.8 972.1,1082.2 972.5,1081.9 972.9,1082.3 973.3,1082.3 973.7,1082.0 974.1,1082.3 974.5,1082.1 974.9,1082.3 975.3,1082.4 975.7,1082.4 976.1,1082.2 976.5,1082.5 976.9,1082.5 977.3,1082.4 977.7,1082.3 978.1,1082.4 978.5,1082.5 978.9,1082.5 979.3,1082.8 979.7,1082.5 980.1,1082.5 980.5,1082.6 980.9,1082.3 981.3,1082.5 981.7,1082.6 982.1,1082.1 982.5,1082.2 982.9,1082.1 983.3,1081.6 983.7,1081.9 984.1,1081.4 984.5,1081.3 984.9,1081.2 985.3,1080.9 985.7,1080.8 986.1,1080.5 986.5,1080.3 986.9,1079.9 987.3,1079.9 987.7,1079.1 988.1,1079.1 988.5,1078.7 988.9,1078.3 989.3,1078.0 989.7,1077.7 990.1,1077.5 990.5,1076.8 990.9,1076.3 991.3,1075.6 991.7,1074.6 992.1,1074.0 992.5,1073.2 992.9,1071.7 993.3,1071.0 993.7,1069.8 994.1,1069.0 994.5,1068.0 994.9,1067.5 995.3,1066.4 995.7,1065.7 996.1,1064.9 996.5,1063.8 996.9,1062.8 997.3,1062.5 997.7,1061.9 998.1,1061.2 998.5,1061.0 998.9,1061.2 999.3,1061.4 999.7,1061.9 1000.1,1062.5 1000.5,1063.2 1000.9,1064.1 1001.3,1065.1 1001.7,1066.6 1002.1,1068.0 1002.5,1069.0 1002.9,1070.0 1003.3,1070.9 1003.7,1071.9 1004.1,1072.8 1004.5,1073.3 1004.9,1073.8 1005.3,1073.8 1005.7,1074.1 1006.1,1074.1 1006.5,1074.2 1006.9,1074.5 1007.3,1074.3 1007.7,1074.4 1008.1,1074.3 1008.5,1074.6 1008.9,1074.8 1009.3,1074.8 1009.7,1074.8 1010.1,1074.9 1010.5,1074.9 1010.9,1075.0 1011.3,1075.0 1011.7,1074.9 1012.1,1075.2 1012.5,1075.3 1012.9,1075.1 1013.3,1075.4 1013.7,1075.6 1014.1,1075.6 1014.5,1075.6 1014.9,1076.1 1015.3,1076.6 1015.7,1076.6 1016.1,1077.0 1016.5,1077.3 1016.9,1077.8 1017.3,1078.3 1017.7,1078.9 1018.1,1079.0 1018.5,1079.4 1018.9,1079.7 1019.3,1080.1 1019.7,1080.4 1020.1,1080.8 1020.5,1081.2 1020.9,1081.5 1021.3,1081.9 1021.7,1081.7 1022.1,1081.8 1022.5,1081.9 1022.9,1082.0 1023.3,1081.8 1023.7,1081.7 1024.1,1081.2 1024.5,1081.1 1024.9,1080.8 1025.3,1080.2 1025.7,1079.6 1026.1,1079.3 1026.5,1078.6 1026.9,1078.6 1027.3,1077.8 1027.7,1077.3 1028.1,1076.3 1028.5,1075.4 1028.9,1074.8 1029.3,1073.7 1029.7,1072.4 1030.1,1071.5 1030.5,1070.5 1030.9,1069.8 1031.3,1069.3 1031.7,1068.6 1032.1,1068.8 1032.5,1068.8 1032.9,1069.4 1033.3,1070.1 1033.7,1070.8 1034.1,1072.4 1034.5,1073.4 1034.9,1074.3 1035.3,1075.4 1035.7,1076.3 1036.1,1077.9 1036.5,1078.4 1036.9,1079.2 1037.3,1080.0 1037.7,1080.2 1038.1,1080.4 1038.5,1080.8 1038.9,1081.1 1039.3,1081.5 1039.7,1081.8 1040.1,1082.1 1040.5,1082.5 1040.9,1082.5 1041.3,1082.9 1041.7,1083.3 1042.1,1083.0 1042.5,1083.5 1042.9,1083.4 1043.3,1083.4 1043.7,1084.0 1044.1,1084.0 1044.5,1084.0 1044.9,1083.9 1045.3,1084.2 1045.7,1083.8 1046.1,1084.1 1046.5,1084.2 1046.9,1084.3 1047.3,1083.9 1047.7,1083.7 1048.1,1084.2 1048.5,1084.3 1048.9,1084.3 1049.3,1084.1 1049.7,1084.3 1050.1,1084.1 1050.5,1084.4 1050.9,1084.5 1051.3,1084.2 1051.7,1084.1 1052.1,1084.4 1052.5,1084.4 1052.9,1084.4 1053.3,1084.6 1053.7,1084.5 1054.1,1084.8 1054.5,1084.5 1054.9,1084.3 1055.3,1084.7 1055.7,1084.5 1056.1,1084.5 1056.5,1084.6 1056.9,1084.6 1057.3,1084.3 1057.7,1084.5 1058.1,1084.8 1058.5,1084.6 1058.9,1084.7 1059.3,1084.8 1059.7,1084.9 1060.1,1084.6 1060.5,1084.6 1060.9,1084.5 1061.3,1084.6 1061.7,1084.5 1062.1,1084.7 1062.5,1084.7 1062.9,1084.8 1063.3,1084.5 1063.7,1084.6 1064.1,1084.8 1064.5,1084.8 1064.9,1084.4 1065.3,1084.6 1065.7,1084.7 1066.1,1084.4 1066.5,1084.8 1066.9,1084.9 1067.3,1084.5 1067.7,1084.5 1068.1,1084.9 1068.5,1084.9 1068.9,1084.6 1069.3,1084.6 1069.7,1084.8 1070.1,1084.7 1070.5,1084.7 1070.9,1085.0 1071.3,1084.8 1071.7,1084.5 1072.1,1084.8 1072.5,1084.5 1072.9,1084.8 1073.3,1084.9 1073.7,1084.8 1074.1,1084.8 1074.5,1085.0 1074.9,1084.8 1075.3,1084.6 1075.7,1084.5 1076.1,1084.7 1076.5,1084.5 1076.9,1084.4 1077.3,1084.5 1077.7,1084.3 1078.1,1084.4 1078.5,1084.6 1078.9,1084.4 1079.3,1084.4 1079.7,1084.5 1080.1,1084.2 1080.5,1084.5 1080.9,1084.4 1081.3,1084.4 1081.7,1084.4 1082.1,1084.0 1082.5,1084.6 1082.9,1084.2 1083.3,1084.0 1083.7,1084.2 1084.1,1084.0 1084.5,1084.1 1084.9,1084.2 1085.3,1083.9 1085.7,1084.2 1086.1,1084.0 1086.5,1084.0 1086.9,1084.0 1087.3,1084.0 1087.7,1084.0 1088.1,1083.9 1088.5,1083.8 1088.9,1083.6 1089.3,1083.7 1089.7,1083.6 1090.1,1083.4 1090.5,1083.5 1090.9,1083.4 1091.3,1083.6 1091.7,1083.4 1092.1,1083.4 1092.5,1083.4 1092.9,1083.2 1093.3,1083.2 1093.7,1083.3 1094.1,1082.9 1094.5,1082.9 1094.9,1083.0 1095.3,1083.1 1095.7,1082.9 1096.1,1082.6 1096.5,1082.5 1096.9,1082.7 1097.3,1082.3 1097.7,1082.0 1098.1,1081.8 1098.5,1082.2 1098.9,1081.6 1099.3,1080.9 1099.7,1080.8 1100.1,1080.8 1100.5,1080.4 1100.9,1080.3 1101.3,1080.2 1101.7,1079.7 1102.1,1079.6 1102.5,1079.3 1102.9,1079.3 1103.3,1079.3 1103.7,1079.1 1104.1,1078.7 1104.5,1078.9 1104.9,1078.7 1105.3,1079.0 1105.7,1078.8 1106.1,1078.9 1106.5,1078.8 1106.9,1078.8 1107.3,1078.9 1107.7,1078.9 1108.1,1079.2 1108.5,1078.8 1108.9,1079.1 1109.3,1079.0 1109.7,1079.2 1110.1,1078.9 1110.5,1079.4 1110.9,1079.2 1111.3,1079.1 1111.7,1079.4 1112.1,1079.3 1112.5,1079.4 1112.9,1079.6 1113.3,1079.3 1113.7,1079.4 1114.1,1079.5 1114.5,1079.6 1114.9,1079.4 1115.3,1079.2 1115.7,1078.8 1116.1,1077.7 1116.5,1076.3 1116.9,1074.4 1117.3,1072.2 1117.7,1070.8 1118.1,1069.0 1118.5,1066.9 1118.9,1065.7 1119.3,1064.6 1119.7,1064.0 1120.1,1063.7 1120.5,1064.2 1120.9,1065.2 1121.3,1066.2 1121.7,1068.3 1122.1,1069.9 1122.5,1072.1 1122.9,1073.9 1123.3,1075.7 1123.7,1077.8 1124.1,1079.4 1124.5,1080.0 1124.9,1080.7 1125.3,1081.2 1125.7,1081.3 1126.1,1081.7 1126.5,1081.7 1126.9,1082.0 1127.3,1082.2 1127.7,1082.0 1128.1,1082.5 1128.5,1082.9 1128.9,1082.8 1129.3,1082.7 1129.7,1083.1 1130.1,1083.3 1130.5,1083.2 1130.9,1082.9 1131.3,1082.9 1131.7,1082.9 1132.1,1082.6 1132.5,1082.6 1132.9,1082.3 1133.3,1082.0 1133.7,1081.9 1134.1,1081.5 1134.5,1081.2 1134.9,1081.2 1135.3,1080.5 1135.7,1080.3 1136.1,1079.7 1136.5,1079.4 1136.9,1078.6 1137.3,1078.3 1137.7,1078.0 1138.1,1077.6 1138.5,1077.2 1138.9,1076.9 1139.3,1076.5 1139.7,1076.3 1140.1,1075.9 1140.5,1075.8 1140.9,1075.4 1141.3,1075.2 1141.7,1074.9 1142.1,1074.9 1142.5,1075.0 1142.9,1075.2 1143.3,1074.8 1143.7,1075.2 1144.1,1075.1 1144.5,1075.0 1144.9,1075.0 1145.3,1075.3 1145.7,1075.0 1146.1,1075.3 1146.5,1075.4 1146.9,1075.5 1147.3,1075.7 1147.7,1075.6 1148.1,1075.7 1148.5,1075.6 1148.9,1075.9 1149.3,1076.0 1149.7,1075.9 1150.1,1076.0 1150.5,1076.0 1150.9,1075.9 1151.3,1076.0 1151.7,1075.8 1152.1,1075.2 1152.5,1074.9 1152.9,1074.7 1153.3,1073.7 1153.7,1073.6 1154.1,1072.5 1154.5,1071.9 1154.9,1071.1 1155.3,1070.1 1155.7,1069.4 1156.1,1068.1 1156.5,1067.5 1156.9,1066.4 1157.3,1065.4 1157.7,1064.6 1158.1,1063.3 1158.5,1061.6 1158.9,1060.3 1159.3,1058.4 1159.7,1056.4 1160.1,1054.4 1160.5,1052.7 1160.9,1050.9 1161.3,1049.1 1161.7,1047.3 1162.1,1046.2 1162.5,1045.4 1162.9,1044.5 1163.3,1044.3 1163.7,1044.8 1164.1,1045.4 1164.5,1046.4 1164.9,1047.7 1165.3,1048.6 1165.7,1050.6 1166.1,1052.2 1166.5,1054.0 1166.9,1055.8 1167.3,1057.6 1167.7,1059.2 1168.1,1060.5 1168.5,1061.8 1168.9,1062.9 1169.3,1063.9 1169.7,1065.1 1170.1,1065.6 1170.5,1066.7 1170.9,1068.1 1171.3,1068.8 1171.7,1069.7 1172.1,1070.5 1172.5,1070.7 1172.9,1071.8 1173.3,1071.9 1173.7,1072.3 1174.1,1072.9 1174.5,1072.8 1174.9,1073.3 1175.3,1073.7 1175.7,1073.6 1176.1,1073.8 1176.5,1074.2 1176.9,1074.4 1177.3,1074.5 1177.7,1074.4 1178.1,1075.0 1178.5,1074.9 1178.9,1074.6 1179.3,1074.8 1179.7,1074.8 1180.1,1074.9 1180.5,1075.0 1180.9,1074.8 1181.3,1075.1 1181.7,1075.0 1182.1,1074.8 1182.5,1074.5 1182.9,1074.5 1183.3,1074.5 1183.7,1074.5 1184.1,1074.1 1184.5,1074.1 1184.9,1073.8 1185.3,1073.7 1185.7,1073.8 1186.1,1073.7 1186.5,1073.3 1186.9,1073.2 1187.3,1073.0 1187.7,1072.7 1188.1,1072.9 1188.5,1072.8 1188.9,1072.8 1189.3,1072.6 1189.7,1072.6 1190.1,1072.5 1190.5,1072.6 1190.9,1072.5 1191.3,1072.6 1191.7,1072.5 1192.1,1072.4 1192.5,1072.2 1192.9,1072.4 1193.3,1072.4 1193.7,1072.6 1194.1,1072.4 1194.5,1072.1 1194.9,1072.1 1195.3,1072.4 1195.7,1072.2 1196.1,1072.0 1196.5,1072.3 1196.9,1072.2 1197.3,1072.1 1197.7,1072.2 1198.1,1072.1 1198.5,1072.3 1198.9,1071.8 1199.3,1071.8 1199.7,1071.2 1200.1,1070.4 1200.5,1069.2 1200.9,1068.0 1201.3,1067.0 1201.7,1065.6 1202.1,1064.1 1202.5,1063.1 1202.9,1062.1 1203.3,1061.0 1203.7,1060.0 1204.1,1059.6 1204.5,1058.5 1204.9,1058.2 1205.3,1057.6 1205.7,1056.8 1206.1,1056.2 1206.5,1055.7 1206.9,1055.2 1207.3,1054.7 1207.7,1054.6 1208.1,1054.4 1208.5,1054.8 1208.9,1054.5 1209.3,1055.2 1209.7,1055.3 1210.1,1055.7 1210.5,1056.3 1210.9,1056.9 1211.3,1057.4 1211.7,1058.6 1212.1,1059.2 1212.5,1059.8 1212.9,1060.5 1213.3,1061.3 1213.7,1061.9 1214.1,1062.9 1214.5,1062.9 1214.9,1063.5 1215.3,1063.9 1215.7,1064.5 1216.1,1064.9 1216.5,1065.2 1216.9,1065.6 1217.3,1066.1 1217.7,1066.3 1218.1,1066.9 1218.5,1067.0 1218.9,1067.6 1219.3,1067.8 1219.7,1068.4 1220.1,1068.3 1220.5,1068.7 1220.9,1068.9 1221.3,1069.4 1221.7,1069.3 1222.1,1069.8 1222.5,1069.9 1222.9,1070.0 1223.3,1069.9 1223.7,1070.1 1224.1,1070.2 1224.5,1069.8 1224.9,1069.8 1225.3,1069.5 1225.7,1069.1 1226.1,1068.8 1226.5,1068.6 1226.9,1068.1 1227.3,1067.3 1227.7,1067.2 1228.1,1066.6 1228.5,1066.2 1228.9,1065.4 1229.3,1065.2 1229.7,1064.1 1230.1,1063.7 1230.5,1062.5 1230.9,1061.4 1231.3,1059.5 1231.7,1058.0 1232.1,1055.8 1232.5,1053.8 1232.9,1051.3 1233.3,1048.7 1233.7,1046.5 1234.1,1044.4 1234.5,1042.6 1234.9,1040.9 1235.3,1038.9 1235.7,1037.6 1236.1,1036.8 1236.5,1035.9 1236.9,1036.0 1237.3,1036.6 1237.7,1037.5 1238.1,1038.9 1238.5,1040.4 1238.9,1042.6 1239.3,1044.8 1239.7,1046.9 1240.1,1049.4 1240.5,1052.0 1240.9,1053.9 1241.3,1055.9 1241.7,1057.4 1242.1,1058.9 1242.5,1060.0 1242.9,1060.7 1243.3,1061.4 1243.7,1062.1 1244.1,1063.0 1244.5,1063.9 1244.9,1064.6 1245.3,1065.2 1245.7,1065.9 1246.1,1066.3 1246.5,1066.9 1246.9,1067.6 1247.3,1068.1 1247.7,1068.7 1248.1,1069.1 1248.5,1069.8 1248.9,1069.9 1249.3,1070.6 1249.7,1071.1 1250.1,1070.9 1250.5,1071.3 1250.9,1071.5 1251.3,1071.6 1251.7,1071.9 1252.1,1072.0 1252.5,1071.9 1252.9,1071.9 1253.3,1071.8 1253.7,1071.6 1254.1,1071.1 1254.5,1071.3 1254.9,1070.5 1255.3,1070.1 1255.7,1069.4 1256.1,1069.0 1256.5,1068.3 1256.9,1068.1 1257.3,1067.0 1257.7,1066.6 1258.1,1066.2 1258.5,1065.3 1258.9,1065.1 1259.3,1064.7 1259.7,1064.1 1260.1,1063.7 1260.5,1063.2 1260.9,1062.7 1261.3,1062.4 1261.7,1061.7 1262.1,1061.4 1262.5,1060.9 1262.9,1060.5 1263.3,1060.1 1263.7,1060.2 1264.1,1059.9 1264.5,1060.2 1264.9,1060.2 1265.3,1060.4 1265.7,1060.6 1266.1,1061.1 1266.5,1061.8 1266.9,1062.2 1267.3,1062.7 1267.7,1063.3 1268.1,1063.8 1268.5,1064.1 1268.9,1065.0 1269.3,1065.3 1269.7,1065.0 1270.1,1064.8 1270.5,1064.8 1270.9,1064.8 1271.3,1064.4 1271.7,1064.1 1272.1,1063.4 1272.5,1063.3 1272.9,1062.8 1273.3,1061.8 1273.7,1061.2 1274.1,1060.4 1274.5,1059.2 1274.9,1058.5 1275.3,1057.5 1275.7,1056.3 1276.1,1055.3 1276.5,1054.0 1276.9,1051.4 1277.3,1047.8 1277.7,1043.4 1278.1,1038.7 1278.5,1034.0 1278.9,1029.3 1279.3,1025.4 1279.7,1022.0 1280.1,1019.4 1280.5,1017.2 1280.9,1015.5 1281.3,1013.6 1281.7,1012.4 1282.1,1011.5 1282.5,1010.8 1282.9,1011.3 1283.3,1011.8 1283.7,1012.4 1284.1,1013.4 1284.5,1014.3 1284.9,1015.5 1285.3,1017.1 1285.7,1018.3 1286.1,1019.6 1286.5,1020.9 1286.9,1022.2 1287.3,1023.1 1287.7,1023.9 1288.1,1024.5 1288.5,1024.9 1288.9,1024.9 1289.3,1024.3 1289.7,1022.8 1290.1,1020.8 1290.5,1018.6 1290.9,1015.4 1291.3,1012.4 1291.7,1008.4 1292.1,1005.0 1292.5,1001.1 1292.9,997.7 1293.3,993.7 1293.7,990.7 1294.1,986.9 1294.5,983.3 1294.9,979.1 1295.3,975.1 1295.7,970.9 1296.1,966.7 1296.5,962.7 1296.9,959.6 1297.3,956.4 1297.7,953.6 1298.1,951.0 1298.5,948.2 1298.9,945.9 1299.3,944.0 1299.7,942.8 1300.1,942.5 1300.5,943.6 1300.9,946.1 1301.3,949.4 1301.7,953.7 1302.1,958.7 1302.5,964.0 1302.9,969.2 1303.3,974.6 1303.7,979.4 1304.1,984.1 1304.5,989.6 1304.9,995.1 1305.3,1001.0 1305.7,1007.4 1306.1,1012.9 1306.5,1018.6 1306.9,1023.9 1307.3,1028.2 1307.7,1031.6 1308.1,1035.1 1308.5,1038.1 1308.9,1041.1 1309.3,1044.1 1309.7,1046.8 1310.1,1049.1 1310.5,1051.3 1310.9,1053.3 1311.3,1055.2 1311.7,1057.1 1312.1,1058.9 1312.5,1060.4 1312.9,1062.0 1313.3,1063.6 1313.7,1065.1 1314.1,1066.3 1314.5,1067.7 1314.9,1068.9 1315.3,1070.1 1315.7,1071.6 1316.1,1072.4 1316.5,1073.1 1316.9,1074.0 1317.3,1074.7 1317.7,1075.3 1318.1,1075.7 1318.5,1076.6 1318.9,1076.8 1319.3,1077.6 1319.7,1078.0 1320.1,1078.3 1320.5,1078.8 1320.9,1079.0 1321.3,1079.7 1321.7,1080.2 1322.1,1080.3 1322.5,1080.8 1322.9,1080.6 1323.3,1081.2 1323.7,1081.3 1324.1,1081.8 1324.5,1081.9 1324.9,1082.0 1325.3,1082.0 1325.7,1082.1 1326.1,1082.4 1326.5,1082.2 1326.9,1082.6 1327.3,1082.6 1327.7,1082.8 1328.1,1082.6 1328.5,1082.9 1328.9,1083.0 1329.3,1083.0 1329.7,1083.2 1330.1,1083.0 1330.5,1083.1 1330.9,1083.4 1331.3,1083.6 1331.7,1083.1 1332.1,1083.5 1332.5,1083.2 1332.9,1083.5 1333.3,1083.4 1333.7,1083.6 1334.1,1083.6 1334.5,1083.7 1334.9,1083.8 1335.3,1083.7 1335.7,1083.9 1336.1,1083.7 1336.5,1083.9 1336.9,1084.0 1337.3,1083.9 1337.7,1083.9 1338.1,1083.6 1338.5,1083.8 1338.9,1083.9 1339.3,1084.0 1339.7,1083.8 1340.1,1083.8 1340.5,1084.0 1340.9,1084.1 1341.3,1084.2 1341.7,1084.3 1342.1,1084.1 1342.5,1084.0 1342.9,1084.2 1343.3,1084.0 1343.7,1084.1 1344.1,1084.4 1344.5,1084.4 1344.9,1084.1 1345.3,1084.3 1345.7,1084.1 1346.1,1084.1 1346.5,1083.9 1346.9,1084.3 1347.3,1084.3 1347.7,1084.4 1348.1,1084.4 1348.5,1084.2 1348.9,1084.4 1349.3,1084.5 1349.7,1084.6 1350.1,1084.4 1350.5,1084.3 1350.9,1084.4 1351.3,1084.3 1351.7,1084.2 1352.1,1084.6 1352.5,1084.4 1352.9,1084.4 1353.3,1084.6 1353.7,1084.5 1354.1,1084.2 1354.5,1084.5 1354.9,1084.3 1355.3,1084.2 1355.7,1084.4 1356.1,1084.3 1356.5,1084.3 1356.9,1084.6 1357.3,1084.4 1357.7,1084.4 1358.1,1084.4 1358.5,1084.4 1358.9,1084.5 1359.3,1084.4 1359.7,1084.9 1360.1,1084.3 1360.5,1084.5 1360.9,1084.4 1361.3,1084.4 1361.7,1084.4 1362.1,1084.5 1362.5,1084.6 1362.9,1084.7 1363.3,1084.6 1363.7,1084.4 1364.1,1084.8 1364.5,1084.7 1364.9,1084.7 1365.3,1084.4 1365.7,1084.6 1366.1,1084.6 1366.5,1084.6 1366.9,1084.6 1367.3,1084.6 1367.7,1084.5 1368.1,1084.7 1368.5,1084.7 1368.9,1084.6 1369.3,1084.5 1369.7,1084.6 1370.1,1084.7 1370.5,1084.5 1370.9,1084.6 1371.3,1084.4 1371.7,1084.5 1372.1,1084.2 1372.5,1084.2 1372.9,1084.6 1373.3,1084.3 1373.7,1084.4 1374.1,1083.8 1374.5,1084.1 1374.9,1084.0 1375.3,1083.9 1375.7,1083.9 1376.1,1083.7 1376.5,1083.9 1376.9,1083.7 1377.3,1083.3 1377.7,1083.5 1378.1,1083.3 1378.5,1083.4 1378.9,1083.2 1379.3,1082.8 1379.7,1082.7 1380.1,1082.9 1380.5,1082.4 1380.9,1082.5 1381.3,1082.2 1381.7,1082.2 1382.1,1082.1 1382.5,1081.9 1382.9,1081.6 1383.3,1081.6 1383.7,1081.6 1384.1,1081.3 1384.5,1081.2 1384.9,1081.3 1385.3,1081.1 1385.7,1080.9 1386.1,1080.6 1386.5,1080.4 1386.9,1080.2 1387.3,1080.0 1387.7,1079.9 1388.1,1079.5 1388.5,1079.6 1388.9,1079.2 1389.3,1079.1 1389.7,1078.8 1390.1,1078.5 1390.5,1077.8 1390.9,1077.5 1391.3,1077.1 1391.7,1076.5 1392.1,1076.3 1392.5,1075.9 1392.9,1075.8 1393.3,1074.9 1393.7,1075.0 1394.1,1074.5 1394.5,1074.2 1394.9,1073.9 1395.3,1073.8 1395.7,1073.5 1396.1,1073.7 1396.5,1073.2 1396.9,1073.0 1397.3,1072.9 1397.7,1073.0 1398.1,1073.3 1398.5,1073.1 1398.9,1073.3 1399.3,1072.9 1399.7,1073.1 1400.1,1073.2 1400.5,1073.2 1400.9,1073.4 1401.3,1073.5 1401.7,1073.4 1402.1,1073.1 1402.5,1073.4 1402.9,1073.4 1403.3,1073.7 1403.7,1074.0 1404.1,1073.8 1404.5,1074.0 1404.9,1073.8 1405.3,1073.9 1405.7,1073.7 1406.1,1073.6 1406.5,1073.1 1406.9,1072.9 1407.3,1072.9 1407.7,1072.5 1408.1,1071.8 1408.5,1071.8 1408.9,1071.4 1409.3,1070.9 1409.7,1070.6 1410.1,1070.2 1410.5,1070.0 1410.9,1069.8 1411.3,1069.6 1411.7,1069.5 1412.1,1069.4 1412.5,1069.7 1412.9,1069.7 1413.3,1070.1 1413.7,1070.4 1414.1,1070.6 1414.5,1071.2 1414.9,1071.8 1415.3,1072.5 1415.7,1072.8 1416.1,1073.5 1416.5,1074.1 1416.9,1074.5 1417.3,1075.3 1417.7,1076.1 1418.1,1076.7 1418.5,1077.0 1418.9,1077.7 1419.3,1078.1 1419.7,1078.5 1420.1,1079.0 1420.5,1079.0 1420.9,1079.5 1421.3,1079.6 1421.7,1080.3 1422.1,1080.2 1422.5,1080.8 1422.9,1081.1 1423.3,1081.5 1423.7,1082.0 1424.1,1082.0 1424.5,1082.2 1424.9,1082.3 1425.3,1082.8 1425.7,1083.1 1426.1,1083.3 1426.5,1083.1 1426.9,1083.2 1427.3,1083.6 1427.7,1083.6 1428.1,1083.2 1428.5,1083.4 1428.9,1083.1 1429.3,1083.4 1429.7,1083.4 1430.1,1083.4 1430.5,1083.4 1430.9,1083.3 1431.3,1083.2 1431.7,1082.9 1432.1,1083.1 1432.5,1083.1 1432.9,1082.7 1433.3,1082.6 1433.7,1082.9 1434.1,1082.8 1434.5,1082.4 1434.9,1082.2 1435.3,1082.1 1435.7,1081.9 1436.1,1081.8 1436.5,1081.7 1436.9,1081.0 1437.3,1080.8 1437.7,1081.1 1438.1,1080.4 1438.5,1080.4 1438.9,1079.7 1439.3,1079.8 1439.7,1079.3 1440.1,1079.1 1440.5,1078.9 1440.9,1079.0 1441.3,1078.7 1441.7,1078.6 1442.1,1078.9 1442.5,1079.0 1442.9,1079.0 1443.3,1079.1 1443.7,1079.4 1444.1,1079.8 1444.5,1079.8 1444.9,1080.1 1445.3,1080.8 1445.7,1081.1 1446.1,1081.1 1446.5,1081.8 1446.9,1082.1 1447.3,1082.4 1447.7,1082.5 1448.1,1082.8 1448.5,1083.2 1448.9,1083.5 1449.3,1083.9 1449.7,1083.6 1450.1,1084.1 1450.5,1084.1 1450.9,1084.3 1451.3,1084.6 1451.7,1084.3 1452.1,1084.5 1452.5,1084.3 1452.9,1084.6 1453.3,1085.0 1453.7,1085.2 1454.1,1085.0 1454.5,1085.0 1454.9,1085.2 1455.3,1085.2 1455.7,1085.6 1456.1,1085.2 1456.5,1085.1 1456.9,1085.3 1457.3,1085.3 1457.7,1085.6 1458.1,1085.6 1458.5,1085.4 1458.9,1085.7 1459.3,1085.7 1459.7,1085.8 1460.1,1085.6 1460.5,1085.7 1460.9,1085.7 1461.3,1085.9 1461.7,1085.5 1462.1,1085.4 1462.5,1085.4 1462.9,1085.2 1463.3,1085.2 1463.7,1084.8 1464.1,1084.7 1464.5,1084.4 1464.9,1084.0 1465.3,1083.9 1465.7,1083.7 1466.1,1083.3 1466.5,1083.6 1466.9,1083.0 1467.3,1082.9 1467.7,1082.8 1468.1,1082.7 1468.5,1082.0 1468.9,1082.0 1469.3,1081.8 1469.7,1081.9 1470.1,1081.9 1470.5,1081.6 1470.9,1082.0 1471.3,1081.9 1471.7,1081.6 1472.1,1081.8 1472.5,1081.7 1472.9,1081.7 1473.3,1081.3 1473.7,1081.9 1474.1,1081.8 1474.5,1081.3 1474.9,1081.3 1475.3,1081.2 1475.7,1081.4 1476.1,1081.3 1476.5,1081.4 1476.9,1081.2 1477.3,1081.1 1477.7,1081.1 1478.1,1081.2 1478.5,1081.3 1478.9,1081.3 1479.3,1081.5 1479.7,1081.5 1480.1,1081.7 1480.5,1081.7 1480.9,1082.0 1481.3,1082.2 1481.7,1082.0 1482.1,1082.1 1482.5,1082.5 1482.9,1082.7 1483.3,1082.9 1483.7,1083.0 1484.1,1083.1 1484.5,1083.4 1484.9,1083.9 1485.3,1083.8 1485.7,1084.2 1486.1,1084.2 1486.5,1084.3 1486.9,1084.5 1487.3,1084.5 1487.7,1084.9 1488.1,1085.3 1488.5,1085.3 1488.9,1085.2 1489.3,1085.5 1489.7,1085.6 1490.1,1085.7 1490.5,1085.6 1490.9,1085.8 1491.3,1085.9 1491.7,1086.1 1492.1,1085.8 1492.5,1086.0 1492.9,1085.8 1493.3,1086.0 1493.7,1086.3 1494.1,1086.6 1494.5,1086.3 1494.9,1086.4 1495.3,1086.3 1495.7,1086.3 1496.1,1086.5 1496.5,1086.8 1496.9,1086.4 1497.3,1086.7 1497.7,1086.7 1498.1,1086.7 1498.5,1087.0 1498.9,1086.9 1499.3,1086.9 1499.7,1087.0 1500.1,1086.9 1500.5,1086.9 1500.9,1087.1 1501.3,1087.1 1501.7,1087.4 1502.1,1087.3 1502.5,1087.2 1502.9,1087.3 1503.3,1087.5 1503.7,1087.5 1504.1,1087.7 1504.5,1087.3 1504.9,1087.7 1505.3,1087.4 1505.7,1087.5 1506.1,1087.4 1506.5,1087.3 1506.9,1087.8 1507.3,1087.8 1507.7,1087.5 1508.1,1087.6 1508.5,1087.5 1508.9,1087.7 1509.3,1087.2 1509.7,1087.7 1510.1,1087.2 1510.5,1087.7 1510.9,1087.8 1511.3,1087.3 1511.7,1087.4 1512.1,1087.5 1512.5,1087.6 1512.9,1087.2 1513.3,1087.5 1513.7,1087.6 1514.1,1087.6 1514.5,1087.6 1514.9,1087.4 1515.3,1087.4 1515.7,1087.4 1516.1,1087.8 1516.5,1087.3 1516.9,1087.5 1517.3,1087.4 1517.7,1087.4 1518.1,1087.5 1518.5,1087.3 1518.9,1087.4 1519.3,1087.4 1519.7,1087.5 1520.1,1087.4 1520.5,1087.4 1520.9,1087.4 1521.3,1087.7 1521.7,1087.7 1522.1,1087.2 1522.5,1087.3 1522.9,1087.2 1523.3,1087.3 1523.7,1087.4 1524.1,1087.3 1524.5,1087.4 1524.9,1087.3 1525.3,1087.3 1525.7,1087.1 1526.1,1087.4 1526.5,1087.2 1526.9,1087.3 1527.3,1087.4 1527.7,1087.1 1528.1,1087.5 1528.5,1087.3 1528.9,1087.3 1529.3,1087.1 1529.7,1087.1 1530.1,1087.3 1530.5,1087.2 1530.9,1087.2 1531.3,1087.2 1531.7,1087.1 1532.1,1087.2 1532.5,1087.3 1532.9,1087.1 1533.3,1087.1 1533.7,1087.2 1534.1,1087.1 1534.5,1087.2 1534.9,1087.2 1535.3,1086.9 1535.7,1087.4 1536.1,1087.2 1536.5,1087.2 1536.9,1087.0 1537.3,1087.1 1537.7,1087.1 1538.1,1087.0 1538.5,1087.1 1538.9,1086.9 1539.3,1087.5 1539.7,1087.2 1540.1,1087.2 1540.5,1087.2 1540.9,1087.0 1541.3,1087.1 1541.7,1086.7 1542.1,1086.9 1542.5,1087.2 1542.9,1087.1 1543.3,1086.8 1543.7,1086.9 1544.1,1087.2 1544.5,1086.8 1544.9,1087.1 1545.3,1086.8 1545.7,1087.2 1546.1,1087.1 1546.5,1087.2 1546.9,1087.0 1547.3,1087.1 1547.7,1087.1 1548.1,1086.8 1548.5,1087.0 1548.9,1086.9 1549.3,1086.8 1549.7,1086.9 1550.1,1087.2 1550.5,1087.1 1550.9,1087.0 1551.3,1086.7 1551.7,1087.1 1552.1,1087.2 1552.5,1087.1 1552.9,1087.0 1553.3,1086.8 1553.7,1087.0 1554.1,1086.9 1554.5,1086.9 1554.9,1087.0 1555.3,1086.9 1555.7,1087.0 1556.1,1087.1 1556.5,1086.8 1556.9,1087.0 1557.3,1087.1 1557.7,1087.0 1558.1,1086.7 1558.5,1086.9 1558.9,1087.3 1559.3,1087.1 1559.7,1086.8 1560.1,1086.9 1560.5,1086.9 1560.9,1087.0 1561.3,1087.0 1561.7,1087.1 1562.1,1087.0 1562.5,1086.9 1562.9,1087.1 1563.3,1086.9 1563.7,1087.1 1564.1,1087.3 1564.5,1087.0 1564.9,1086.7 1565.3,1087.1 1565.7,1087.1 1566.1,1086.8 1566.5,1087.1 1566.9,1087.0 1567.3,1086.8 1567.7,1087.0 1568.1,1087.0 1568.5,1086.7 1568.9,1087.0 1569.3,1086.8 1569.7,1087.1 1570.1,1086.8 1570.5,1087.1 1570.9,1087.0 1571.3,1086.8 1571.7,1087.1 1572.1,1087.2 1572.5,1086.8 1572.9,1086.9 1573.3,1086.8 1573.7,1086.9 1574.1,1087.2 1574.5,1087.0 1574.9,1087.2 1575.3,1087.0 1575.7,1087.2 1576.1,1086.9 1576.5,1086.9 1576.9,1086.7 1577.3,1087.1 1577.7,1086.9 1578.1,1086.8 1578.5,1086.7 1578.9,1086.9 1579.3,1086.8 1579.7,1086.5 1580.1,1086.7 1580.5,1086.4 1580.9,1086.3 1581.3,1086.4 1581.7,1086.0 1582.1,1085.9 1582.5,1085.7 1582.9,1086.0 1583.3,1085.8 1583.7,1085.5 1584.1,1085.2 1584.5,1085.0 1584.9,1085.1 1585.3,1084.9 1585.7,1084.6 1586.1,1084.9 1586.5,1084.6 1586.9,1084.7 1587.3,1084.5 1587.7,1084.5 1588.1,1084.3 1588.5,1084.4 1588.9,1084.4 1589.3,1084.6 1589.7,1084.7 1590.1,1084.7 1590.5,1084.7 1590.9,1085.1 1591.3,1085.0 1591.7,1085.2 1592.1,1085.4 1592.5,1085.3 1592.9,1085.5 1593.3,1085.9 1593.7,1086.2 1594.1,1086.2 1594.5,1086.1 1594.9,1086.6 1595.3,1086.3 1595.7,1086.6 1596.1,1087.0 1596.5,1086.9 1596.9,1087.3 1597.3,1086.9 1597.7,1087.2 1598.1,1087.4 1598.5,1087.5 1598.9,1087.5 1599.3,1087.5 1599.7,1087.4 1600.1,1087.6 1600.5,1087.4 1600.9,1087.3 1601.3,1087.5 1601.7,1087.1 1602.1,1087.6 1602.5,1087.6 1602.9,1087.5 1603.3,1087.4 1603.7,1087.2 1604.1,1087.2 1604.5,1087.6 1604.9,1087.5 1605.3,1087.5 1605.7,1087.4 1606.1,1087.5 1606.5,1087.2 1606.9,1087.5 1607.3,1087.5 1607.7,1087.6 1608.1,1087.4 1608.5,1087.3 1608.9,1087.5 1609.3,1087.2 1609.7,1087.5 1610.1,1087.4 1610.5,1087.3 1610.9,1087.4 1611.3,1087.6 1611.7,1087.2 1612.1,1087.6 1612.5,1087.3 1612.9,1087.5 1613.3,1087.3 1613.7,1087.4 1614.1,1087.6 1614.5,1087.3 1614.9,1087.2 1615.3,1087.3 1615.7,1087.4 1616.1,1087.2 1616.5,1087.1 1616.9,1087.2 1617.3,1087.3 1617.7,1087.2 1618.1,1087.3 1618.5,1087.1 1618.9,1087.4 1619.3,1087.2 1619.7,1087.2 1620.1,1087.2 1620.5,1087.2 1620.9,1087.1 1621.3,1087.1 1621.7,1087.2 1622.1,1087.1 1622.5,1087.1 1622.9,1086.9 1623.3,1087.1 1623.7,1086.9 1624.1,1086.9 1624.5,1087.0 1624.9,1087.3 1625.3,1087.2 1625.7,1087.1 1626.1,1087.1 1626.5,1087.2 1626.9,1086.7 1627.3,1086.8 1627.7,1087.0 1628.1,1086.9 1628.5,1086.8 1628.9,1086.9 1629.3,1087.1 1629.7,1087.1 1630.1,1087.0 1630.5,1087.0 1630.9,1087.1 1631.3,1086.6 1631.7,1087.1 1632.1,1086.7 1632.5,1087.0 1632.9,1087.1 1633.3,1087.1 1633.7,1086.9 1634.1,1087.1 1634.5,1087.1 1634.9,1087.1 1635.3,1086.8 1635.7,1086.9 1636.1,1087.0 1636.5,1087.0 1636.9,1087.1 1637.3,1087.1 1637.7,1087.0 1638.1,1087.1 1638.5,1087.0 1638.9,1086.9 1639.3,1087.1 1639.7,1086.9 1640.1,1087.2 1640.5,1087.2 1640.9,1086.9 1641.3,1087.0 1641.7,1086.8 1642.1,1087.0 1642.5,1087.2 1642.9,1087.0 1643.3,1087.1 1643.7,1087.2 1644.1,1087.0 1644.5,1087.2 1644.9,1087.0 1645.3,1087.0 1645.7,1086.8 1646.1,1086.9 1646.5,1086.9 1646.9,1087.1 1647.3,1086.8 1647.7,1087.0 1648.1,1086.8 1648.5,1086.9 1648.9,1086.9 1649.3,1087.2 1649.7,1086.9 1650.1,1087.0 1650.5,1087.1 1650.9,1086.9 1651.3,1087.1 1651.7,1087.0 1652.1,1086.9 1652.5,1086.9 1652.9,1087.1 1653.3,1086.9 1653.7,1087.1 1654.1,1087.0 1654.5,1086.9 1654.9,1087.0 1655.3,1087.3 1655.7,1087.0 1656.1,1086.9 1656.5,1087.0 1656.9,1086.9 1657.3,1086.8 1657.7,1087.0 1658.1,1086.8 1658.5,1087.0 1658.9,1086.9 1659.3,1086.8 1659.7,1086.6 1660.1,1086.3 1660.5,1086.3 1660.9,1086.0 1661.3,1086.1 1661.7,1085.6 1662.1,1085.8 1662.5,1085.4 1662.9,1085.1 1663.3,1084.9 1663.7,1084.9 1664.1,1084.7 1664.5,1084.6 1664.9,1084.2 1665.3,1084.0 1665.7,1083.9 1666.1,1083.5 1666.5,1083.5 1666.9,1083.2 1667.3,1083.4 1667.7,1083.1 1668.1,1082.9 1668.5,1082.7 1668.9,1082.9 1669.3,1082.5 1669.7,1082.6 1670.1,1082.6 1670.5,1082.4 1670.9,1082.7 1671.3,1082.6 1671.7,1082.8 1672.1,1082.6 1672.5,1083.1 1672.9,1082.9 1673.3,1083.0 1673.7,1082.9 1674.1,1083.2 1674.5,1083.1 1674.9,1083.5 1675.3,1083.6 1675.7,1084.0 1676.1,1084.0 1676.5,1084.2 1676.9,1084.3 1677.3,1084.5 1677.7,1084.7 1678.1,1085.2 1678.5,1085.0 1678.9,1085.1 1679.3,1085.4 1679.7,1085.8 1680.1,1085.5 1680.5,1086.1 1680.9,1085.9 1681.3,1086.0 1681.7,1086.0 1682.1,1086.3 1682.5,1086.2 1682.9,1086.4 1683.3,1086.4 1683.7,1086.1 1684.1,1086.5 1684.5,1086.7 1684.9,1086.5 1685.3,1086.5 1685.7,1086.8 1686.1,1087.1 1686.5,1087.1 1686.9,1087.2 1687.3,1086.9 1687.7,1087.1 1688.1,1087.0 1688.5,1087.3 1688.9,1087.2 1689.3,1087.0 1689.7,1087.4 1690.1,1087.0 1690.5,1087.8 1690.9,1087.9 1691.3,1087.4 1691.7,1087.5 1692.1,1087.6 1692.5,1087.7 1692.9,1087.7 1693.3,1087.4 1693.7,1087.6 1694.1,1087.9 1694.5,1087.9 1694.9,1087.7 1695.3,1087.7 1695.7,1088.0 1696.1,1087.9 1696.5,1088.1 1696.9,1088.2 1697.3,1088.1 1697.7,1088.1 1698.1,1088.1 1698.5,1088.2 1698.9,1088.0 1699.3,1087.9 1699.7,1088.2 1700.1,1088.2 1700.5,1088.2 1700.9,1088.2 1701.3,1087.9 1701.7,1088.7 1702.1,1088.6 1702.5,1088.2 1702.9,1088.4 1703.3,1088.3 1703.7,1088.3"/>
<polyline fill="none" stroke="#f44141" stroke-width="4.6" stroke-linejoin="round" stroke-linecap="butt" shape-rendering="crispEdges" points="141.2,837.2 141.7,838.7 142.1,838.7 142.5,842.2 142.9,841.2 143.3,842.9 143.7,844.8 144.1,844.7 144.5,845.7 144.9,846.6 145.3,848.3 145.7,850.1 146.1,849.4 146.5,849.4 146.9,851.1 147.3,851.0 147.7,851.9 148.1,853.2 148.5,852.6 148.9,853.6 149.3,853.5 149.7,854.5 150.1,855.2 150.5,854.9 150.9,855.8 151.3,856.4 151.7,856.6 152.1,856.7 152.5,857.0 152.9,858.3 153.3,858.7 153.7,860.6 154.1,858.2 154.5,860.2 154.9,860.7 155.3,861.7 155.7,861.5 156.1,861.0 156.5,861.8 156.9,862.4 157.3,862.2 157.7,863.1 158.1,861.6 158.5,864.1 158.9,864.1 159.3,863.2 159.7,864.0 160.1,863.8 160.5,863.4 160.9,864.1 161.3,864.9 161.7,864.2 162.1,864.3 162.5,864.6 162.9,865.1 163.3,865.7 163.7,864.7 164.1,865.5 164.5,865.5 164.9,864.3 165.3,865.3 165.7,865.6 166.1,865.8 166.5,866.1 166.9,864.8 167.3,866.2 167.7,865.9 168.1,865.5 168.5,866.9 168.9,867.1 169.3,866.4 169.7,867.4 170.1,866.8 170.5,867.2 170.9,866.6 171.3,868.4 171.7,865.9 172.1,867.6 172.5,868.2 172.9,866.7 173.3,867.9 173.7,868.1 174.1,868.8 174.5,869.2 174.9,868.3 175.3,867.8 175.7,869.6 176.1,869.6 176.5,868.6 176.9,869.3 177.3,869.4 177.7,869.6 178.1,869.4 178.5,870.3 178.9,868.4 179.3,870.2 179.7,869.9 180.1,869.6 180.5,870.5 180.9,868.4 181.3,870.6 181.7,870.2 182.1,869.3 182.5,870.3 182.9,869.8 183.3,871.7 183.7,871.2 184.1,870.4 184.5,869.7 184.9,869.8 185.3,870.0 185.7,869.9 186.1,869.7 186.5,869.9 186.9,870.1 187.3,870.0 187.7,869.9 188.1,869.8 188.5,872.0 188.9,869.5 189.3,869.8 189.7,870.7 190.1,870.3 190.5,870.7 190.9,871.0 191.3,871.3 191.7,871.0 192.1,869.9 192.5,871.2 192.9,869.4 193.3,870.4 193.7,870.2 194.1,869.8 194.5,870.8 194.9,870.2 195.3,870.9 195.7,869.3 196.1,870.7 196.5,870.4 196.9,870.1 197.3,869.1 197.7,869.7 198.1,868.8 198.5,868.4 198.9,871.6 199.3,870.1 199.7,870.5 200.1,869.0 200.5,869.6 200.9,869.5 201.3,869.4 201.7,868.9 202.1,868.6 202.5,867.4 202.9,868.9 203.3,868.7 203.7,869.0 204.1,868.1 204.5,869.2 204.9,867.8 205.3,867.2 205.7,868.4 206.1,867.4 206.5,866.8 206.9,867.6 207.3,867.9 207.7,867.4 208.1,867.5 208.5,869.6 208.9,867.4 209.3,867.7 209.7,865.4 210.1,866.8 210.5,866.9 210.9,866.0 211.3,865.6 211.7,866.2 212.1,865.7 212.5,865.4 212.9,866.3 213.3,866.3 213.7,865.5 214.1,864.9 214.5,865.4 214.9,865.4 215.3,865.1 215.7,863.7 216.1,864.3 216.5,864.6 216.9,864.6 217.3,864.7 217.7,864.4 218.1,863.1 218.5,863.3 218.9,862.8 219.3,864.6 219.7,863.5 220.1,863.6 220.5,863.8 220.9,862.8 221.3,862.2 221.7,862.5 222.1,862.6 222.5,863.5 222.9,863.0 223.3,861.6 223.7,862.6 224.1,862.6 224.5,861.3 224.9,861.8 225.3,860.6 225.7,861.9 226.1,861.3 226.5,860.6 226.9,860.9 227.3,861.4 227.7,860.8 228.1,861.2 228.5,861.2 228.9,860.3 229.3,860.5 229.7,861.9 230.1,860.5 230.5,859.8 230.9,860.3 231.3,859.3 231.7,860.8 232.1,860.2 232.5,860.5 232.9,860.3 233.3,859.9 233.7,860.2 234.1,859.6 234.5,859.0 234.9,858.7 235.3,858.9 235.7,857.6 236.1,860.2 236.5,857.9 236.9,858.8 237.3,858.0 237.7,857.5 238.1,858.6 238.5,858.4 238.9,858.4 239.3,858.8 239.7,858.0 240.1,858.5 240.5,858.5 240.9,857.9 241.3,857.9 241.7,858.3 242.1,858.0 242.5,858.0 242.9,856.3 243.3,857.8 243.7,857.9 244.1,857.5 244.5,857.7 244.9,858.7 245.3,857.5 245.7,857.8 246.1,856.8 246.5,856.7 246.9,856.9 247.3,856.5 247.7,857.0 248.1,856.4 248.5,856.8 248.9,856.0 249.3,855.8 249.7,856.3 250.1,856.0 250.5,856.2 250.9,856.2 251.3,856.3 251.7,857.1 252.1,857.3 252.5,856.8 252.9,856.1 253.3,857.2 253.7,855.3 254.1,854.9 254.5,856.3 254.9,856.0 255.3,855.9 255.7,856.0 256.1,854.9 256.5,855.1 256.9,856.5 257.3,856.4 257.7,855.2 258.1,856.8 258.5,854.9 258.9,855.1 259.3,855.6 259.7,854.7 260.1,855.0 260.5,855.2 260.9,855.0 261.3,855.7 261.7,855.5 262.1,854.4 262.5,854.6 262.9,855.1 263.3,854.9 263.7,854.4 264.1,855.1 264.5,855.2 264.9,854.3 265.3,855.1 265.7,853.6 266.1,853.5 266.5,854.8 266.9,853.9 267.3,853.7 267.7,854.2 268.1,853.8 268.5,854.4 268.9,853.3 269.3,853.9 269.7,856.0 270.1,854.1 270.5,852.8 270.9,854.3 271.3,854.2 271.7,854.7 272.1,853.9 272.5,853.3 272.9,854.5 273.3,854.1 273.7,852.5 274.1,854.0 274.5,853.3 274.9,854.1 275.3,853.1 275.7,853.8 276.1,853.4 276.5,853.6 276.9,853.2 277.3,852.9 277.7,853.1 278.1,853.4 278.5,853.2 278.9,853.9 279.3,853.1 279.7,853.2 280.1,854.1 280.5,852.8 280.9,853.0 281.3,852.2 281.7,852.6 282.1,853.5 282.5,852.6 282.9,853.3 283.3,851.7 283.7,851.4 284.1,852.4 284.5,851.3 284.9,853.8 285.3,852.8 285.7,851.2 286.1,851.9 286.5,851.5 286.9,852.1 287.3,851.8 287.7,852.3 288.1,852.6 288.5,851.5 288.9,850.8 289.3,851.8 289.7,851.3 290.1,852.1 290.5,851.2 290.9,851.7 291.3,851.4 291.7,851.0 292.1,850.8 292.5,851.4 292.9,852.5 293.3,851.4 293.7,850.7 294.1,851.1 294.5,850.7 294.9,849.8 295.3,850.7 295.7,851.4 296.1,850.2 296.5,849.6 296.9,850.5 297.3,851.3 297.7,850.7 298.1,850.6 298.5,851.4 298.9,850.9 299.3,850.2 299.7,849.6 300.1,849.7 300.5,849.5 300.9,850.0 301.3,848.9 301.7,850.3 302.1,849.4 302.5,849.0 302.9,849.7 303.3,847.8 303.7,848.5 304.1,848.5 304.5,849.4 304.9,848.5 305.3,849.6 305.7,848.4 306.1,848.9 306.5,848.1 306.9,849.2 307.3,848.2 307.7,848.6 308.1,847.9 308.5,847.5 308.9,848.0 309.3,848.7 309.7,847.3 310.1,847.0 310.5,847.6 310.9,848.3 311.3,847.0 311.7,847.3 312.1,847.7 312.5,847.3 312.9,847.6 313.3,848.1 313.7,847.3 314.1,847.2 314.5,847.7 314.9,847.1 315.3,846.5 315.7,846.4 316.1,846.3 316.5,848.1 316.9,846.8 317.3,847.1 317.7,847.2 318.1,846.1 318.5,847.0 318.9,846.2 319.3,845.2 319.7,846.3 320.1,845.7 320.5,846.1 320.9,846.5 321.3,847.6 321.7,845.8 322.1,846.0 322.5,846.3 322.9,846.1 323.3,845.8 323.7,845.2 324.1,845.2 324.5,845.7 324.9,845.0 325.3,845.2 325.7,844.8 326.1,846.2 326.5,844.6 326.9,846.6 327.3,845.0 327.7,844.7 328.1,844.5 328.5,845.7 328.9,845.8 329.3,844.6 329.7,845.2 330.1,844.9 330.5,844.8 330.9,844.9 331.3,845.3 331.7,843.5 332.1,843.3 332.5,844.7 332.9,844.5 333.3,844.9 333.7,843.3 334.1,843.7 334.5,845.2 334.9,843.4 335.3,844.4 335.7,843.6 336.1,843.8 336.5,843.1 336.9,844.6 337.3,842.6 337.7,843.0 338.1,843.1 338.5,844.3 338.9,843.7 339.3,843.9 339.7,843.4 340.1,843.5 340.5,843.5 340.9,844.1 341.3,843.3 341.7,842.1 342.1,843.7 342.5,843.0 342.9,842.2 343.3,842.7 343.7,842.1 344.1,843.9 344.5,842.4 344.9,841.3 345.3,842.6 345.7,841.9 346.1,843.1 346.5,842.3 346.9,841.1 347.3,841.8 347.7,841.4 348.1,841.5 348.5,841.5 348.9,840.6 349.3,841.9 349.7,841.1 350.1,841.1 350.5,842.0 350.9,842.6 351.3,841.0 351.7,842.4 352.1,839.9 352.5,841.5 352.9,840.7 353.3,840.9 353.7,840.3 354.1,840.4 354.5,840.5 354.9,840.4 355.3,840.8 355.7,841.9 356.1,839.9 356.5,840.1 356.9,839.0 357.3,838.5 357.7,840.8 358.1,839.0 358.5,839.2 358.9,839.6 359.3,840.0 359.7,839.6 360.1,840.4 360.5,839.0 360.9,837.9 361.3,838.9 361.7,838.8 362.1,838.1 362.5,838.2 362.9,837.9 363.3,839.2 363.7,837.6 364.1,837.0 364.5,837.9 364.9,836.4 365.3,837.7 365.7,837.5 366.1,836.5 366.5,836.4 366.9,836.1 367.3,837.2 367.7,836.1 368.1,834.8 368.5,834.4 368.9,834.8 369.3,834.4 369.7,833.6 370.1,833.9 370.5,833.2 370.9,833.6 371.3,832.8 371.7,832.0 372.1,831.8 372.5,830.8 372.9,831.4 373.3,830.6 373.7,829.6 374.1,829.3 374.5,828.3 374.9,829.6 375.3,827.2 375.7,827.2 376.1,826.6 376.5,825.4 376.9,825.5 377.3,825.0 377.7,825.2 378.1,825.2 378.5,825.5 378.9,825.7 379.3,825.2 379.7,825.4 380.1,825.7 380.5,826.0 380.9,825.8 381.3,827.7 381.7,827.7 382.1,828.1 382.5,827.5 382.9,828.0 383.3,827.7 383.7,829.4 384.1,830.0 384.5,830.2 384.9,829.9 385.3,829.5 385.7,830.3 386.1,830.5 386.5,831.1 386.9,831.3 387.3,830.8 387.7,831.0 388.1,831.6 388.5,831.6 388.9,831.3 389.3,830.2 389.7,831.2 390.1,832.3 390.5,831.9 390.9,832.5 391.3,831.7 391.7,832.0 392.1,832.5 392.5,832.4 392.9,832.2 393.3,832.6 393.7,832.8 394.1,832.8 394.5,830.8 394.9,831.5 395.3,831.5 395.7,831.4 396.1,830.5 396.5,832.2 396.9,830.6 397.3,831.2 397.7,829.5 398.1,830.5 398.5,830.5 398.9,830.0 399.3,830.8 399.7,831.7 400.1,829.5 400.5,829.3 400.9,830.8 401.3,829.9 401.7,829.2 402.1,828.4 402.5,829.5 402.9,829.0 403.3,829.6 403.7,827.9 404.1,828.2 404.5,827.9 404.9,827.8 405.3,828.5 405.7,828.2 406.1,827.1 406.5,827.3 406.9,827.1 407.3,827.6 407.7,826.8 408.1,826.1 408.5,826.5 408.9,826.6 409.3,827.1 409.7,827.2 410.1,827.1 410.5,826.4 410.9,825.8 411.3,826.4 411.7,825.8 412.1,825.5 412.5,825.9 412.9,825.9 413.3,826.1 413.7,825.0 414.1,824.4 414.5,825.7 414.9,824.7 415.3,825.8 415.7,824.4 416.1,824.6 416.5,823.8 416.9,826.1 417.3,824.4 417.7,824.6 418.1,824.2 418.5,824.3 418.9,824.8 419.3,824.3 419.7,824.1 420.1,824.7 420.5,823.0 420.9,824.4 421.3,824.6 421.7,822.6 422.1,823.5 422.5,822.4 422.9,821.7 423.3,822.3 423.7,823.0 424.1,822.9 424.5,822.0 424.9,821.5 425.3,821.6 425.7,821.1 426.1,820.8 426.5,819.3 426.9,820.2 427.3,819.8 427.7,820.7 428.1,819.2 428.5,818.1 428.9,817.6 429.3,817.1 429.7,815.8 430.1,814.3 430.5,814.5 430.9,814.2 431.3,813.8 431.7,812.6 432.1,811.8 432.5,811.4 432.9,810.7 433.3,810.1 433.7,808.7 434.1,808.2 434.5,806.4 434.9,806.6 435.3,805.2 435.7,803.6 436.1,803.6 436.5,803.2 436.9,802.0 437.3,802.7 437.7,801.8 438.1,802.3 438.5,801.5 438.9,802.8 439.3,803.6 439.7,803.7 440.1,804.8 440.5,805.6 440.9,807.3 441.3,808.2 441.7,809.6 442.1,810.4 442.5,810.6 442.9,811.5 443.3,812.8 443.7,813.9 444.1,815.4 444.5,815.0 444.9,814.4 445.3,813.9 445.7,815.8 446.1,815.8 446.5,815.4 446.9,817.0 447.3,816.7 447.7,816.7 448.1,816.0 448.5,818.0 448.9,817.6 449.3,817.6 449.7,817.3 450.1,817.8 450.5,818.9 450.9,818.5 451.3,819.6 451.7,819.1 452.1,818.7 452.5,819.2 452.9,818.8 453.3,817.9 453.7,818.5 454.1,819.2 454.5,818.5 454.9,818.8 455.3,818.5 455.7,820.4 456.1,818.6 456.5,818.8 456.9,819.0 457.3,820.2 457.7,820.3 458.1,819.4 458.5,820.1 458.9,819.2 459.3,819.8 459.7,821.5 460.1,820.5 460.5,819.9 460.9,819.1 461.3,819.8 461.7,819.2 462.1,818.6 462.5,820.4 462.9,820.4 463.3,820.1 463.7,820.6 464.1,818.9 464.5,820.7 464.9,819.1 465.3,820.0 465.7,820.0 466.1,820.3 466.5,820.8 466.9,819.7 467.3,819.1 467.7,818.6 468.1,819.3 468.5,818.5 468.9,818.1 469.3,818.8 469.7,819.2 470.1,818.5 470.5,817.9 470.9,818.6 471.3,817.7 471.7,817.4 472.1,819.2 472.5,818.4 472.9,819.4 473.3,817.2 473.7,818.7 474.1,817.9 474.5,819.7 474.9,817.9 475.3,817.7 475.7,818.3 476.1,818.1 476.5,817.7 476.9,818.6 477.3,818.4 477.7,818.6 478.1,818.3 478.5,817.6 478.9,817.6 479.3,818.4 479.7,817.5 480.1,819.1 480.5,818.1 480.9,817.6 481.3,818.7 481.7,818.1 482.1,818.8 482.5,818.2 482.9,819.2 483.3,817.9 483.7,816.8 484.1,817.2 484.5,817.2 484.9,818.5 485.3,819.3 485.7,818.1 486.1,817.4 486.5,818.7 486.9,818.5 487.3,818.0 487.7,818.5 488.1,818.3 488.5,817.6 488.9,818.7 489.3,818.0 489.7,817.8 490.1,818.2 490.5,819.4 490.9,819.6 491.3,819.3 491.7,818.1 492.1,817.8 492.5,818.7 492.9,818.4 493.3,818.6 493.7,817.8 494.1,818.0 494.5,817.9 494.9,819.0 495.3,819.2 495.7,818.2 496.1,819.0 496.5,819.0 496.9,818.2 497.3,818.7 497.7,819.2 498.1,818.1 498.5,819.5 498.9,818.6 499.3,818.8 499.7,818.6 500.1,817.8 500.5,819.0 500.9,818.8 501.3,818.5 501.7,818.7 502.1,819.1 502.5,818.8 502.9,818.5 503.3,818.9 503.7,819.4 504.1,819.0 504.5,818.5 504.9,819.5 505.3,818.8 505.7,819.4 506.1,819.0 506.5,818.5 506.9,818.3 507.3,818.5 507.7,819.0 508.1,817.7 508.5,819.4 508.9,819.9 509.3,819.0 509.7,818.5 510.1,818.2 510.5,819.4 510.9,819.5 511.3,819.3 511.7,819.7 512.1,818.8 512.5,819.1 512.9,819.4 513.3,819.0 513.7,819.2 514.1,818.9 514.5,818.1 514.9,817.3 515.3,817.1 515.7,817.8 516.1,815.9 516.5,816.2 516.9,815.1 517.3,816.7 517.7,814.4 518.1,814.7 518.5,813.1 518.9,815.0 519.3,811.5 519.7,811.8 520.1,810.1 520.5,810.7 520.9,808.8 521.3,808.8 521.7,807.7 522.1,808.1 522.5,808.3 522.9,809.4 523.3,807.3 523.7,809.6 524.1,810.0 524.5,810.5 524.9,811.6 525.3,813.0 525.7,813.6 526.1,814.4 526.5,814.7 526.9,815.5 527.3,816.4 527.7,815.7 528.1,816.0 528.5,816.5 528.9,816.7 529.3,816.8 529.7,816.5 530.1,815.4 530.5,817.2 530.9,817.4 531.3,817.6 531.7,817.1 532.1,817.4 532.5,816.7 532.9,816.2 533.3,816.9 533.7,816.8 534.1,817.6 534.5,817.5 534.9,816.7 535.3,816.7 535.7,816.9 536.1,816.8 536.5,817.4 536.9,815.9 537.3,816.7 537.7,814.6 538.1,814.6 538.5,815.5 538.9,814.2 539.3,813.4 539.7,813.1 540.1,811.9 540.5,811.4 540.9,810.8 541.3,810.1 541.7,809.2 542.1,807.1 542.5,805.9 542.9,803.1 543.3,801.7 543.7,799.0 544.1,797.2 544.5,795.3 544.9,793.1 545.3,792.2 545.7,791.9 546.1,793.0 546.5,796.0 546.9,799.5 547.3,804.0 547.7,809.5 548.1,813.6 548.5,817.0 548.9,818.3 549.3,819.1 549.7,817.3 550.1,818.3 550.5,818.8 550.9,819.6 551.3,819.8 551.7,819.7 552.1,820.4 552.5,819.8 552.9,820.1 553.3,820.7 553.7,820.0 554.1,821.8 554.5,820.5 554.9,820.4 555.3,821.4 555.7,820.1 556.1,821.1 556.5,821.4 556.9,822.4 557.3,823.5 557.7,821.8 558.1,821.0 558.5,822.0 558.9,822.3 559.3,821.4 559.7,822.2 560.1,823.0 560.5,822.3 560.9,821.6 561.3,821.7 561.7,821.1 562.1,821.9 562.5,821.8 562.9,823.1 563.3,821.3 563.7,821.3 564.1,822.4 564.5,822.7 564.9,822.0 565.3,822.5 565.7,822.8 566.1,822.9 566.5,822.7 566.9,822.8 567.3,821.5 567.7,823.0 568.1,822.6 568.5,822.0 568.9,822.3 569.3,822.4 569.7,822.3 570.1,822.5 570.5,822.4 570.9,821.8 571.3,824.0 571.7,822.9 572.1,824.1 572.5,822.6 572.9,823.7 573.3,822.7 573.7,823.8 574.1,823.4 574.5,823.3 574.9,822.7 575.3,823.0 575.7,823.7 576.1,821.6 576.5,822.5 576.9,822.1 577.3,822.3 577.7,823.3 578.1,823.4 578.5,822.8 578.9,823.6 579.3,822.5 579.7,822.6 580.1,823.0 580.5,823.2 580.9,822.9 581.3,822.3 581.7,823.3 582.1,824.0 582.5,822.8 582.9,823.0 583.3,822.3 583.7,823.0 584.1,822.4 584.5,823.1 584.9,824.0 585.3,823.3 585.7,822.5 586.1,823.5 586.5,821.9 586.9,823.7 587.3,823.2 587.7,822.3 588.1,822.8 588.5,822.4 588.9,824.2 589.3,823.3 589.7,822.3 590.1,822.5 590.5,823.0 590.9,822.6 591.3,823.1 591.7,823.2 592.1,822.0 592.5,823.3 592.9,823.9 593.3,823.1 593.7,823.2 594.1,822.5 594.5,822.5 594.9,823.0 595.3,822.3 595.7,821.8 596.1,823.3 596.5,822.4 596.9,822.9 597.3,822.8 597.7,823.0 598.1,823.1 598.5,823.0 598.9,822.5 599.3,823.2 599.7,822.4 600.1,822.8 600.5,822.2 600.9,822.6 601.3,822.0 601.7,823.4 602.1,822.7 602.5,822.0 602.9,821.4 603.3,822.0 603.7,823.2 604.1,822.0 604.5,823.0 604.9,822.2 605.3,822.1 605.7,821.6 606.1,822.4 606.5,822.9 606.9,822.7 607.3,822.5 607.7,821.5 608.1,822.2 608.5,821.4 608.9,821.5 609.3,822.3 609.7,821.3 610.1,822.3 610.5,821.7 610.9,822.8 611.3,821.8 611.7,822.1 612.1,822.4 612.5,822.0 612.9,822.0 613.3,820.5 613.7,822.0 614.1,820.4 614.5,820.9 614.9,819.7 615.3,820.9 615.7,820.6 616.1,820.7 616.5,820.2 616.9,820.5 617.3,820.1 617.7,820.3 618.1,820.8 618.5,818.8 618.9,820.0 619.3,819.8 619.7,818.8 620.1,819.3 620.5,820.3 620.9,819.5 621.3,818.8 621.7,819.4 622.1,819.0 622.5,817.8 622.9,818.2 623.3,818.2 623.7,818.1 624.1,818.1 624.5,817.7 624.9,817.5 625.3,817.0 625.7,816.9 626.1,816.6 626.5,817.0 626.9,816.4 627.3,815.8 627.7,816.4 628.1,817.2 628.5,815.3 628.9,815.8 629.3,814.4 629.7,814.5 630.1,814.6 630.5,814.3 630.9,814.5 631.3,812.5 631.7,812.4 632.1,812.7 632.5,812.2 632.9,810.3 633.3,810.3 633.7,810.3 634.1,809.8 634.5,807.9 634.9,808.0 635.3,805.6 635.7,806.7 636.1,806.0 636.5,802.9 636.9,801.9 637.3,799.5 637.7,798.2 638.1,796.8 638.5,794.7 638.9,792.3 639.3,788.8 639.7,786.7 640.1,785.8 640.5,781.8 640.9,777.9 641.3,774.4 641.7,769.5 642.1,765.4 642.5,760.0 642.9,755.2 643.3,749.9 643.7,747.2 644.1,741.8 644.5,736.2 644.9,730.6 645.3,724.5 645.7,719.1 646.1,716.5 646.5,714.5 646.9,712.5 647.3,710.3 647.7,708.1 648.1,708.3 648.5,707.1 648.9,706.2 649.3,705.9 649.7,706.3 650.1,707.0 650.5,707.9 650.9,710.7 651.3,712.8 651.7,715.8 652.1,718.1 652.5,721.4 652.9,723.3 653.3,727.1 653.7,730.7 654.1,731.8 654.5,735.0 654.9,738.0 655.3,740.7 655.7,743.7 656.1,745.7 656.5,749.3 656.9,753.8 657.3,755.9 657.7,758.7 658.1,762.3 658.5,762.4 658.9,766.1 659.3,767.9 659.7,768.4 660.1,771.2 660.5,773.9 660.9,775.2 661.3,777.0 661.7,779.5 662.1,780.5 662.5,781.9 662.9,782.7 663.3,783.5 663.7,783.9 664.1,785.1 664.5,783.7 664.9,782.6 665.3,782.6 665.7,781.8 666.1,782.7 666.5,778.6 666.9,778.6 667.3,776.9 667.7,776.1 668.1,772.8 668.5,770.7 668.9,769.6 669.3,766.1 669.7,760.0 670.1,752.9 670.5,744.3 670.9,736.5 671.3,727.6 671.7,718.6 672.1,710.4 672.5,698.9 672.9,688.0 673.3,678.0 673.7,667.5 674.1,655.9 674.5,641.6 674.9,627.8 675.3,615.9 675.7,609.7 676.1,612.6 676.5,618.7 676.9,630.1 677.3,642.2 677.7,655.3 678.1,667.3 678.5,676.1 678.9,689.5 679.3,700.4 679.7,711.9 680.1,720.9 680.5,731.1 680.9,740.9 681.3,748.6 681.7,754.4 682.1,757.3 682.5,758.2 682.9,759.1 683.3,758.7 683.7,759.3 684.1,759.8 684.5,759.6 684.9,761.8 685.3,763.3 685.7,767.2 686.1,771.1 686.5,775.1 686.9,778.6 687.3,782.6 687.7,786.9 688.1,789.3 688.5,792.8 688.9,794.9 689.3,798.6 689.7,800.5 690.1,802.7 690.5,805.2 690.9,806.1 691.3,806.8 691.7,809.0 692.1,809.2 692.5,809.1 692.9,809.9 693.3,811.2 693.7,810.6 694.1,809.9 694.5,813.2 694.9,811.2 695.3,812.1 695.7,811.3 696.1,811.5 696.5,813.3 696.9,812.4 697.3,813.6 697.7,813.1 698.1,813.1 698.5,813.5 698.9,813.4 699.3,813.7 699.7,811.8 700.1,812.0 700.5,812.6 700.9,812.4 701.3,811.2 701.7,810.5 702.1,810.9 702.5,808.6 702.9,809.0 703.3,810.3 703.7,808.3 704.1,809.9 704.5,808.3 704.9,807.9 705.3,808.8 705.7,807.1 706.1,805.5 706.5,804.5 706.9,803.4 707.3,801.4 707.7,801.7 708.1,800.2 708.5,798.4 708.9,797.8 709.3,795.3 709.7,792.9 710.1,791.6 710.5,790.0 710.9,787.3 711.3,785.0 711.7,780.1 712.1,777.2 712.5,774.3 712.9,771.2 713.3,768.8 713.7,765.5 714.1,763.7 714.5,763.0 714.9,759.8 715.3,757.9 715.7,756.0 716.1,756.2 716.5,757.2 716.9,756.7 717.3,758.3 717.7,761.3 718.1,763.9 718.5,767.1 718.9,772.2 719.3,774.7 719.7,776.6 720.1,780.3 720.5,784.0 720.9,786.8 721.3,791.2 721.7,793.6 722.1,797.7 722.5,799.6 722.9,801.2 723.3,800.8 723.7,799.5 724.1,798.6 724.5,796.7 724.9,794.5 725.3,790.7 725.7,788.8 726.1,786.6 726.5,784.4 726.9,782.7 727.3,781.8 727.7,781.4 728.1,780.4 728.5,779.0 728.9,777.6 729.3,774.5 729.7,775.7 730.1,776.3 730.5,775.8 730.9,778.2 731.3,778.5 731.7,780.8 732.1,782.2 732.5,784.4 732.9,784.9 733.3,786.7 733.7,786.9 734.1,786.7 734.5,786.1 734.9,787.3 735.3,785.3 735.7,785.6 736.1,784.2 736.5,783.5 736.9,782.0 737.3,780.7 737.7,778.6 738.1,778.9 738.5,775.0 738.9,771.4 739.3,765.4 739.7,762.0 740.1,757.4 740.5,753.5 740.9,748.6 741.3,745.3 741.7,740.8 742.1,736.6 742.5,731.7 742.9,725.2 743.3,720.0 743.7,714.6 744.1,710.7 744.5,705.6 744.9,701.5 745.3,697.8 745.7,696.5 746.1,695.1 746.5,695.2 746.9,696.3 747.3,698.2 747.7,703.4 748.1,706.9 748.5,711.8 748.9,716.1 749.3,722.3 749.7,725.7 750.1,730.1 750.5,734.1 750.9,738.6 751.3,744.5 751.7,748.6 752.1,753.0 752.5,758.1 752.9,762.2 753.3,766.2 753.7,768.9 754.1,772.0 754.5,773.4 754.9,776.4 755.3,779.8 755.7,782.2 756.1,782.7 756.5,786.0 756.9,787.6 757.3,789.9 757.7,789.8 758.1,791.7 758.5,792.7 758.9,791.6 759.3,792.3 759.7,793.5 760.1,793.0 760.5,793.8 760.9,793.5 761.3,792.7 761.7,793.7 762.1,793.9 762.5,793.3 762.9,793.9 763.3,791.2 763.7,790.2 764.1,788.2 764.5,786.4 764.9,785.1 765.3,785.0 765.7,787.2 766.1,790.4 766.5,793.2 766.9,796.5 767.3,798.8 767.7,800.1 768.1,801.6 768.5,803.1 768.9,802.7 769.3,804.7 769.7,804.3 770.1,807.4 770.5,805.9 770.9,806.6 771.3,807.5 771.7,807.1 772.1,807.3 772.5,807.3 772.9,805.8 773.3,806.7 773.7,804.5 774.1,804.0 774.5,803.9 774.9,801.0 775.3,801.1 775.7,800.3 776.1,799.9 776.5,797.8 776.9,797.5 777.3,795.1 777.7,795.0 778.1,792.9 778.5,789.4 778.9,786.4 779.3,782.9 779.7,779.0 780.1,775.0 780.5,772.5 780.9,768.4 781.3,765.2 781.7,760.9 782.1,758.5 782.5,755.7 782.9,751.5 783.3,747.6 783.7,744.6 784.1,742.2 784.5,739.0 784.9,735.7 785.3,735.2 785.7,735.1 786.1,734.4 786.5,737.0 786.9,740.1 787.3,744.7 787.7,748.4 788.1,752.1 788.5,755.3 788.9,760.9 789.3,763.8 789.7,767.2 790.1,770.9 790.5,771.6 790.9,774.4 791.3,776.0 791.7,778.3 792.1,779.2 792.5,780.8 792.9,783.2 793.3,783.8 793.7,784.4 794.1,784.8 794.5,785.3 794.9,784.7 795.3,784.5 795.7,783.1 796.1,780.7 796.5,779.2 796.9,778.1 797.3,777.9 797.7,775.6 798.1,772.7 798.5,770.7 798.9,769.3 799.3,767.7 799.7,766.7 800.1,763.5 800.5,760.8 800.9,759.3 801.3,756.9 801.7,756.9 802.1,754.4 802.5,753.6 802.9,753.0 803.3,751.9 803.7,754.2 804.1,755.9 804.5,757.5 804.9,760.6 805.3,763.0 805.7,766.3 806.1,770.1 806.5,772.5 806.9,776.0 807.3,778.5 807.7,780.9 808.1,782.9 808.5,785.3 808.9,788.2 809.3,791.5 809.7,793.4 810.1,796.4 810.5,798.0 810.9,799.2 811.3,803.0 811.7,804.2 812.1,806.6 812.5,807.8 812.9,809.1 813.3,810.1 813.7,809.2 814.1,812.6 814.5,813.3 814.9,814.6 815.3,815.6 815.7,816.1 816.1,817.1 816.5,816.5 816.9,818.0 817.3,818.9 817.7,819.3 818.1,818.8 818.5,818.5 818.9,819.7 819.3,820.4 819.7,820.8 820.1,821.9 820.5,821.9 820.9,820.8 821.3,821.6 821.7,820.8 822.1,820.9 822.5,819.1 822.9,819.3 823.3,817.2 823.7,816.5 824.1,815.7 824.5,816.8 824.9,816.5 825.3,817.1 825.7,817.8 826.1,817.4 826.5,819.7 826.9,819.9 827.3,820.4 827.7,821.1 828.1,821.8 828.5,822.4 828.9,824.0 829.3,824.2 829.7,824.6 830.1,824.7 830.5,825.5 830.9,827.0 831.3,826.4 831.7,825.2 832.1,825.3 832.5,827.5 832.9,826.5 833.3,827.8 833.7,828.3 834.1,828.7 834.5,829.7 834.9,828.5 835.3,829.1 835.7,828.9 836.1,828.7 836.5,829.2 836.9,830.8 837.3,830.9 837.7,829.7 838.1,830.8 838.5,830.4 838.9,831.1 839.3,830.1 839.7,830.9 840.1,830.9 840.5,830.3 840.9,830.5 841.3,830.6 841.7,830.9 842.1,832.0 842.5,832.0 842.9,832.0 843.3,831.4 843.7,831.7 844.1,830.5 844.5,831.1 844.9,831.8 845.3,831.4 845.7,830.8 846.1,831.5 846.5,831.3 846.9,831.3 847.3,830.9 847.7,831.7 848.1,831.2 848.5,830.8 848.9,831.3 849.3,831.6 849.7,832.1 850.1,832.0 850.5,830.2 850.9,831.8 851.3,831.4 851.7,831.2 852.1,831.6 852.5,831.6 852.9,830.7 853.3,829.9 853.7,829.3 854.1,829.5 854.5,829.2 854.9,828.1 855.3,829.2 855.7,828.6 856.1,827.6 856.5,827.8 856.9,826.6 857.3,825.2 857.7,825.3 858.1,825.0 858.5,822.1 858.9,819.7 859.3,819.1 859.7,815.2 860.1,813.3 860.5,811.9 860.9,809.3 861.3,808.6 861.7,805.5 862.1,803.6 862.5,801.4 862.9,798.3 863.3,796.2 863.7,792.6 864.1,793.3 864.5,790.8 864.9,789.9 865.3,790.0 865.7,792.3 866.1,794.7 866.5,799.1 866.9,802.8 867.3,806.8 867.7,811.6 868.1,815.3 868.5,818.9 868.9,820.4 869.3,821.3 869.7,823.0 870.1,823.5 870.5,824.8 870.9,825.5 871.3,826.7 871.7,826.5 872.1,827.3 872.5,827.5 872.9,826.8 873.3,827.5 873.7,827.3 874.1,827.8 874.5,826.4 874.9,826.0 875.3,825.7 875.7,826.6 876.1,825.9 876.5,825.4 876.9,825.8 877.3,825.9 877.7,826.2 878.1,825.4 878.5,823.8 878.9,824.7 879.3,822.9 879.7,823.2 880.1,822.9 880.5,820.9 880.9,821.1 881.3,820.1 881.7,820.2 882.1,817.1 882.5,816.4 882.9,814.1 883.3,812.4 883.7,809.7 884.1,808.8 884.5,806.6 884.9,804.2 885.3,799.6 885.7,795.7 886.1,792.1 886.5,787.4 886.9,781.2 887.3,774.3 887.7,767.8 888.1,763.2 888.5,757.3 888.9,750.8 889.3,745.6 889.7,739.6 890.1,734.8 890.5,728.1 890.9,723.2 891.3,717.9 891.7,716.0 892.1,715.0 892.5,716.3 892.9,719.3 893.3,723.2 893.7,727.8 894.1,735.1 894.5,740.1 894.9,746.5 895.3,751.9 895.7,758.8 896.1,763.2 896.5,766.3 896.9,769.4 897.3,773.3 897.7,776.2 898.1,778.7 898.5,782.5 898.9,785.5 899.3,787.8 899.7,790.5 900.1,792.3 900.5,795.1 900.9,796.5 901.3,797.3 901.7,799.6 902.1,800.5 902.5,801.2 902.9,802.4 903.3,803.8 903.7,803.9 904.1,805.7 904.5,806.8 904.9,807.1 905.3,808.4 905.7,809.1 906.1,809.5 906.5,811.0 906.9,811.8 907.3,812.4 907.7,813.4 908.1,813.0 908.5,813.2 908.9,813.9 909.3,815.1 909.7,815.6 910.1,814.7 910.5,815.6 910.9,815.6 911.3,816.4 911.7,814.8 912.1,816.3 912.5,815.6 912.9,815.0 913.3,817.4 913.7,816.7 914.1,818.2 914.5,818.0 914.9,818.3 915.3,818.0 915.7,817.2 916.1,817.7 916.5,816.4 916.9,816.6 917.3,817.5 917.7,818.3 918.1,817.2 918.5,816.3 918.9,816.8 919.3,817.1 919.7,817.3 920.1,816.7 920.5,817.6 920.9,817.1 921.3,816.6 921.7,816.1 922.1,817.8 922.5,816.0 922.9,816.1 923.3,815.7 923.7,816.5 924.1,815.4 924.5,816.9 924.9,815.7 925.3,817.2 925.7,816.0 926.1,816.2 926.5,816.7 926.9,817.4 927.3,817.3 927.7,816.9 928.1,817.6 928.5,818.1 928.9,816.7 929.3,818.7 929.7,818.0 930.1,816.3 930.5,818.0 930.9,817.6 931.3,817.2 931.7,816.8 932.1,816.3 932.5,816.5 932.9,815.5 933.3,815.0 933.7,813.7 934.1,813.8 934.5,812.0 934.9,811.5 935.3,810.1 935.7,809.0 936.1,808.6 936.5,807.4 936.9,805.2 937.3,803.2 937.7,800.4 938.1,798.3 938.5,795.3 938.9,792.7 939.3,789.6 939.7,786.9 940.1,785.3 940.5,782.5 940.9,780.6 941.3,778.4 941.7,776.5 942.1,773.7 942.5,772.1 942.9,771.5 943.3,770.6 943.7,771.5 944.1,772.9 944.5,775.3 944.9,778.2 945.3,782.4 945.7,786.6 946.1,790.5 946.5,794.1 946.9,798.0 947.3,801.9 947.7,803.4 948.1,805.3 948.5,809.0 948.9,809.9 949.3,813.3 949.7,814.8 950.1,815.6 950.5,818.2 950.9,819.9 951.3,821.4 951.7,822.8 952.1,824.5 952.5,825.2 952.9,826.6 953.3,826.4 953.7,827.2 954.1,828.3 954.5,828.5 954.9,828.9 955.3,830.0 955.7,829.7 956.1,830.2 956.5,831.1 956.9,832.1 957.3,832.7 957.7,832.0 958.1,832.6 958.5,833.4 958.9,833.6 959.3,833.1 959.7,834.3 960.1,833.7 960.5,833.9 960.9,833.6 961.3,834.8 961.7,834.8 962.1,834.1 962.5,835.1 962.9,835.0 963.3,834.9 963.7,834.5 964.1,835.1 964.5,834.2 964.9,834.4 965.3,834.6 965.7,835.1 966.1,835.6 966.5,833.7 966.9,834.8 967.3,834.5 967.7,835.2 968.1,834.1 968.5,836.1 968.9,834.7 969.3,835.9 969.7,834.3 970.1,835.3 970.5,836.0 970.9,835.8 971.3,834.4 971.7,834.3 972.1,833.8 972.5,834.6 972.9,833.0 973.3,834.5 973.7,833.2 974.1,833.0 974.5,831.1 974.9,830.6 975.3,830.1 975.7,828.7 976.1,828.2 976.5,828.7 976.9,827.9 977.3,827.6 977.7,826.5 978.1,827.1 978.5,827.1 978.9,826.1 979.3,825.2 979.7,825.8 980.1,825.6 980.5,825.2 980.9,824.5 981.3,824.1 981.7,826.7 982.1,826.2 982.5,826.1 982.9,826.4 983.3,825.9 983.7,828.5 984.1,828.3 984.5,829.0 984.9,829.2 985.3,829.6 985.7,830.2 986.1,829.2 986.5,829.6 986.9,830.2 987.3,830.3 987.7,829.5 988.1,829.1 988.5,827.8 988.9,827.3 989.3,827.3 989.7,826.5 990.1,825.6 990.5,824.9 990.9,823.2 991.3,822.4 991.7,823.0 992.1,821.9 992.5,820.6 992.9,820.4 993.3,821.4 993.7,817.9 994.1,817.5 994.5,816.2 994.9,815.0 995.3,814.0 995.7,814.1 996.1,812.0 996.5,810.3 996.9,811.7 997.3,809.7 997.7,810.5 998.1,810.8 998.5,811.5 998.9,814.2 999.3,814.4 999.7,817.1 1000.1,819.3 1000.5,820.2 1000.9,822.5 1001.3,825.3 1001.7,827.4 1002.1,827.5 1002.5,826.0 1002.9,828.2 1003.3,826.5 1003.7,826.9 1004.1,827.5 1004.5,827.6 1004.9,827.4 1005.3,827.3 1005.7,829.0 1006.1,826.6 1006.5,827.7 1006.9,828.2 1007.3,827.9 1007.7,826.5 1008.1,828.4 1008.5,828.3 1008.9,827.0 1009.3,827.1 1009.7,828.3 1010.1,827.6 1010.5,826.9 1010.9,827.8 1011.3,827.0 1011.7,826.9 1012.1,826.3 1012.5,828.1 1012.9,827.6 1013.3,827.8 1013.7,828.5 1014.1,829.7 1014.5,829.6 1014.9,830.6 1015.3,830.5 1015.7,831.7 1016.1,832.5 1016.5,832.0 1016.9,832.4 1017.3,831.8 1017.7,832.9 1018.1,834.7 1018.5,834.4 1018.9,833.1 1019.3,833.7 1019.7,834.1 1020.1,834.5 1020.5,834.4 1020.9,834.1 1021.3,834.0 1021.7,833.3 1022.1,832.4 1022.5,832.3 1022.9,829.8 1023.3,830.1 1023.7,829.9 1024.1,829.6 1024.5,828.8 1024.9,828.5 1025.3,827.8 1025.7,826.3 1026.1,825.3 1026.5,824.5 1026.9,822.7 1027.3,821.6 1027.7,820.9 1028.1,819.1 1028.5,819.0 1028.9,818.2 1029.3,818.4 1029.7,816.3 1030.1,816.6 1030.5,818.1 1030.9,817.7 1031.3,819.3 1031.7,820.1 1032.1,822.9 1032.5,823.0 1032.9,825.2 1033.3,826.8 1033.7,829.7 1034.1,830.4 1034.5,830.4 1034.9,833.3 1035.3,831.8 1035.7,833.3 1036.1,834.2 1036.5,833.7 1036.9,834.0 1037.3,834.0 1037.7,834.2 1038.1,837.1 1038.5,836.5 1038.9,837.0 1039.3,835.4 1039.7,836.4 1040.1,836.2 1040.5,837.8 1040.9,838.6 1041.3,837.3 1041.7,837.5 1042.1,839.0 1042.5,837.5 1042.9,838.8 1043.3,838.2 1043.7,839.1 1044.1,838.3 1044.5,837.7 1044.9,838.8 1045.3,837.8 1045.7,839.0 1046.1,839.9 1046.5,839.5 1046.9,837.8 1047.3,837.7 1047.7,837.0 1048.1,838.0 1048.5,837.6 1048.9,837.9 1049.3,839.7 1049.7,838.7 1050.1,838.5 1050.5,837.9 1050.9,838.4 1051.3,838.6 1051.7,838.3 1052.1,838.7 1052.5,838.6 1052.9,837.5 1053.3,837.2 1053.7,838.6 1054.1,836.8 1054.5,837.9 1054.9,837.7 1055.3,838.4 1055.7,836.6 1056.1,835.7 1056.5,837.0 1056.9,834.8 1057.3,833.1 1057.7,832.8 1058.1,832.7 1058.5,832.5 1058.9,831.1 1059.3,829.7 1059.7,828.4 1060.1,828.0 1060.5,827.6 1060.9,826.0 1061.3,826.0 1061.7,826.5 1062.1,825.0 1062.5,824.8 1062.9,824.9 1063.3,825.5 1063.7,825.5 1064.1,827.2 1064.5,827.7 1064.9,828.8 1065.3,829.1 1065.7,830.9 1066.1,832.4 1066.5,832.3 1066.9,833.2 1067.3,834.2 1067.7,834.6 1068.1,835.4 1068.5,836.8 1068.9,836.5 1069.3,836.3 1069.7,836.4 1070.1,836.2 1070.5,837.5 1070.9,836.5 1071.3,837.2 1071.7,837.4 1072.1,836.5 1072.5,837.5 1072.9,838.0 1073.3,836.5 1073.7,837.2 1074.1,838.1 1074.5,838.0 1074.9,838.5 1075.3,839.1 1075.7,838.5 1076.1,838.7 1076.5,838.8 1076.9,837.4 1077.3,838.5 1077.7,838.7 1078.1,839.5 1078.5,838.6 1078.9,839.3 1079.3,839.4 1079.7,838.3 1080.1,838.0 1080.5,839.9 1080.9,838.7 1081.3,839.8 1081.7,839.3 1082.1,839.7 1082.5,838.0 1082.9,840.6 1083.3,837.5 1083.7,838.3 1084.1,839.3 1084.5,839.8 1084.9,839.5 1085.3,839.6 1085.7,838.3 1086.1,839.1 1086.5,839.7 1086.9,837.7 1087.3,838.0 1087.7,838.7 1088.1,839.4 1088.5,838.8 1088.9,837.6 1089.3,837.8 1089.7,837.8 1090.1,837.0 1090.5,839.1 1090.9,837.4 1091.3,837.2 1091.7,836.3 1092.1,837.4 1092.5,837.1 1092.9,837.8 1093.3,837.4 1093.7,836.6 1094.1,836.9 1094.5,837.6 1094.9,835.8 1095.3,835.9 1095.7,836.5 1096.1,835.5 1096.5,836.0 1096.9,834.8 1097.3,835.8 1097.7,835.5 1098.1,834.5 1098.5,833.8 1098.9,834.6 1099.3,834.2 1099.7,833.0 1100.1,834.3 1100.5,832.9 1100.9,834.0 1101.3,833.6 1101.7,832.7 1102.1,832.7 1102.5,831.1 1102.9,831.7 1103.3,831.7 1103.7,830.3 1104.1,829.8 1104.5,831.4 1104.9,830.4 1105.3,830.7 1105.7,830.1 1106.1,827.4 1106.5,828.2 1106.9,828.5 1107.3,828.3 1107.7,828.0 1108.1,827.1 1108.5,827.2 1108.9,826.2 1109.3,827.3 1109.7,825.5 1110.1,825.3 1110.5,825.7 1110.9,824.4 1111.3,824.3 1111.7,823.1 1112.1,823.1 1112.5,822.8 1112.9,820.9 1113.3,819.9 1113.7,819.0 1114.1,818.9 1114.5,817.3 1114.9,815.9 1115.3,814.7 1115.7,812.0 1116.1,810.2 1116.5,809.1 1116.9,808.0 1117.3,807.4 1117.7,805.8 1118.1,805.4 1118.5,804.2 1118.9,803.6 1119.3,806.7 1119.7,807.6 1120.1,810.1 1120.5,813.6 1120.9,818.4 1121.3,820.1 1121.7,823.2 1122.1,825.4 1122.5,827.1 1122.9,827.0 1123.3,829.8 1123.7,829.7 1124.1,829.9 1124.5,831.8 1124.9,831.5 1125.3,833.3 1125.7,832.8 1126.1,833.4 1126.5,834.2 1126.9,834.8 1127.3,834.5 1127.7,834.9 1128.1,835.8 1128.5,834.8 1128.9,834.4 1129.3,836.4 1129.7,836.7 1130.1,837.5 1130.5,836.8 1130.9,837.7 1131.3,837.9 1131.7,837.0 1132.1,836.5 1132.5,836.2 1132.9,836.5 1133.3,835.5 1133.7,836.3 1134.1,836.3 1134.5,835.1 1134.9,835.8 1135.3,834.3 1135.7,834.5 1136.1,834.2 1136.5,832.4 1136.9,833.0 1137.3,833.4 1137.7,833.1 1138.1,832.7 1138.5,831.1 1138.9,831.2 1139.3,829.8 1139.7,830.8 1140.1,830.1 1140.5,830.3 1140.9,828.7 1141.3,830.1 1141.7,829.1 1142.1,828.0 1142.5,829.2 1142.9,830.0 1143.3,828.8 1143.7,828.7 1144.1,827.5 1144.5,828.3 1144.9,829.0 1145.3,828.5 1145.7,828.2 1146.1,827.9 1146.5,829.5 1146.9,827.9 1147.3,827.2 1147.7,828.3 1148.1,828.0 1148.5,827.9 1148.9,827.6 1149.3,827.5 1149.7,827.3 1150.1,828.6 1150.5,827.3 1150.9,827.3 1151.3,827.9 1151.7,828.1 1152.1,827.8 1152.5,827.3 1152.9,826.8 1153.3,826.3 1153.7,824.6 1154.1,823.0 1154.5,821.7 1154.9,818.8 1155.3,817.0 1155.7,813.7 1156.1,811.5 1156.5,809.5 1156.9,807.7 1157.3,805.1 1157.7,803.9 1158.1,804.4 1158.5,802.2 1158.9,800.4 1159.3,798.5 1159.7,798.0 1160.1,797.8 1160.5,797.0 1160.9,794.5 1161.3,794.4 1161.7,794.0 1162.1,793.5 1162.5,792.8 1162.9,792.5 1163.3,792.9 1163.7,793.0 1164.1,794.8 1164.5,796.8 1164.9,798.1 1165.3,801.4 1165.7,803.6 1166.1,805.0 1166.5,807.3 1166.9,809.9 1167.3,811.8 1167.7,813.3 1168.1,814.5 1168.5,815.7 1168.9,818.5 1169.3,819.6 1169.7,820.0 1170.1,821.3 1170.5,822.5 1170.9,823.8 1171.3,824.3 1171.7,825.7 1172.1,824.5 1172.5,825.8 1172.9,826.2 1173.3,826.1 1173.7,827.3 1174.1,827.6 1174.5,827.8 1174.9,828.1 1175.3,829.4 1175.7,828.8 1176.1,829.9 1176.5,829.2 1176.9,830.0 1177.3,829.1 1177.7,828.9 1178.1,830.2 1178.5,829.8 1178.9,831.1 1179.3,830.0 1179.7,829.7 1180.1,829.4 1180.5,828.7 1180.9,829.1 1181.3,828.2 1181.7,828.5 1182.1,827.5 1182.5,828.3 1182.9,827.3 1183.3,826.8 1183.7,827.0 1184.1,826.1 1184.5,825.0 1184.9,825.8 1185.3,826.2 1185.7,825.0 1186.1,825.8 1186.5,825.7 1186.9,825.4 1187.3,824.0 1187.7,826.7 1188.1,826.0 1188.5,825.3 1188.9,825.0 1189.3,825.1 1189.7,825.0 1190.1,826.1 1190.5,827.3 1190.9,826.1 1191.3,827.0 1191.7,827.8 1192.1,828.1 1192.5,827.7 1192.9,827.0 1193.3,828.6 1193.7,827.6 1194.1,827.4 1194.5,827.5 1194.9,826.2 1195.3,825.6 1195.7,825.2 1196.1,826.4 1196.5,825.3 1196.9,823.8 1197.3,823.4 1197.7,823.6 1198.1,822.2 1198.5,822.3 1198.9,822.0 1199.3,821.4 1199.7,821.2 1200.1,821.0 1200.5,819.1 1200.9,818.0 1201.3,817.5 1201.7,815.2 1202.1,813.5 1202.5,812.3 1202.9,810.3 1203.3,808.8 1203.7,808.4 1204.1,806.6 1204.5,805.8 1204.9,805.1 1205.3,804.7 1205.7,802.3 1206.1,803.2 1206.5,802.2 1206.9,800.4 1207.3,801.1 1207.7,799.9 1208.1,800.8 1208.5,800.0 1208.9,800.5 1209.3,799.8 1209.7,801.1 1210.1,801.5 1210.5,802.9 1210.9,803.0 1211.3,804.5 1211.7,806.7 1212.1,806.1 1212.5,807.8 1212.9,807.9 1213.3,809.6 1213.7,809.3 1214.1,811.7 1214.5,811.4 1214.9,811.8 1215.3,812.4 1215.7,813.1 1216.1,814.4 1216.5,814.7 1216.9,815.7 1217.3,816.1 1217.7,816.0 1218.1,816.7 1218.5,818.1 1218.9,818.9 1219.3,819.1 1219.7,819.5 1220.1,818.7 1220.5,818.3 1220.9,820.7 1221.3,820.1 1221.7,819.8 1222.1,820.4 1222.5,821.0 1222.9,820.3 1223.3,819.8 1223.7,820.0 1224.1,820.4 1224.5,820.1 1224.9,817.8 1225.3,819.1 1225.7,818.2 1226.1,818.3 1226.5,815.6 1226.9,816.1 1227.3,815.1 1227.7,814.5 1228.1,812.3 1228.5,810.4 1228.9,807.1 1229.3,804.8 1229.7,802.9 1230.1,797.7 1230.5,794.3 1230.9,794.2 1231.3,790.0 1231.7,788.3 1232.1,787.5 1232.5,784.9 1232.9,783.9 1233.3,781.8 1233.7,781.9 1234.1,780.1 1234.5,779.3 1234.9,778.8 1235.3,779.4 1235.7,778.5 1236.1,779.1 1236.5,780.4 1236.9,782.1 1237.3,781.2 1237.7,785.0 1238.1,787.0 1238.5,789.1 1238.9,791.0 1239.3,792.3 1239.7,795.3 1240.1,797.3 1240.5,799.3 1240.9,800.8 1241.3,802.3 1241.7,802.6 1242.1,805.7 1242.5,807.6 1242.9,809.3 1243.3,811.2 1243.7,812.5 1244.1,813.1 1244.5,815.2 1244.9,815.8 1245.3,818.2 1245.7,818.4 1246.1,820.7 1246.5,820.0 1246.9,821.8 1247.3,822.4 1247.7,822.4 1248.1,822.8 1248.5,823.3 1248.9,824.8 1249.3,824.2 1249.7,824.2 1250.1,824.6 1250.5,826.1 1250.9,825.5 1251.3,827.4 1251.7,827.6 1252.1,826.6 1252.5,826.1 1252.9,827.1 1253.3,825.7 1253.7,826.5 1254.1,825.8 1254.5,825.0 1254.9,823.9 1255.3,823.9 1255.7,822.9 1256.1,822.4 1256.5,821.3 1256.9,821.6 1257.3,818.8 1257.7,818.1 1258.1,818.6 1258.5,817.5 1258.9,815.8 1259.3,816.4 1259.7,815.5 1260.1,813.2 1260.5,815.5 1260.9,813.7 1261.3,813.1 1261.7,812.5 1262.1,811.4 1262.5,811.4 1262.9,812.2 1263.3,810.9 1263.7,811.3 1264.1,810.0 1264.5,811.6 1264.9,811.4 1265.3,812.0 1265.7,812.2 1266.1,812.6 1266.5,813.0 1266.9,814.4 1267.3,815.0 1267.7,814.5 1268.1,815.4 1268.5,815.0 1268.9,815.3 1269.3,815.8 1269.7,816.9 1270.1,814.5 1270.5,815.6 1270.9,816.1 1271.3,815.7 1271.7,814.7 1272.1,813.4 1272.5,813.4 1272.9,812.6 1273.3,811.7 1273.7,810.0 1274.1,808.2 1274.5,807.3 1274.9,806.2 1275.3,803.8 1275.7,800.8 1276.1,795.9 1276.5,792.9 1276.9,786.9 1277.3,780.2 1277.7,776.6 1278.1,772.5 1278.5,765.9 1278.9,765.3 1279.3,761.2 1279.7,758.7 1280.1,755.0 1280.5,754.4 1280.9,753.7 1281.3,754.4 1281.7,754.1 1282.1,755.5 1282.5,756.6 1282.9,760.5 1283.3,761.6 1283.7,763.0 1284.1,765.2 1284.5,766.6 1284.9,768.9 1285.3,771.1 1285.7,771.3 1286.1,772.5 1286.5,773.6 1286.9,774.3 1287.3,775.6 1287.7,774.1 1288.1,772.5 1288.5,771.4 1288.9,768.9 1289.3,766.1 1289.7,763.1 1290.1,760.0 1290.5,755.4 1290.9,754.1 1291.3,750.5 1291.7,746.9 1292.1,742.3 1292.5,736.5 1292.9,731.0 1293.3,724.1 1293.7,719.6 1294.1,713.9 1294.5,708.3 1294.9,703.6 1295.3,700.5 1295.7,695.5 1296.1,692.9 1296.5,691.5 1296.9,686.7 1297.3,683.9 1297.7,682.4 1298.1,680.9 1298.5,680.5 1298.9,682.8 1299.3,683.5 1299.7,687.6 1300.1,690.9 1300.5,695.1 1300.9,699.9 1301.3,704.4 1301.7,710.7 1302.1,714.6 1302.5,720.8 1302.9,724.4 1303.3,730.6 1303.7,737.2 1304.1,743.6 1304.5,751.0 1304.9,760.8 1305.3,766.6 1305.7,772.3 1306.1,779.0 1306.5,782.7 1306.9,786.6 1307.3,789.1 1307.7,792.3 1308.1,796.2 1308.5,797.6 1308.9,799.6 1309.3,803.7 1309.7,805.7 1310.1,807.7 1310.5,809.5 1310.9,812.3 1311.3,812.8 1311.7,815.0 1312.1,817.3 1312.5,818.5 1312.9,820.4 1313.3,821.1 1313.7,822.8 1314.1,825.2 1314.5,825.6 1314.9,827.9 1315.3,829.0 1315.7,828.6 1316.1,829.7 1316.5,831.5 1316.9,832.4 1317.3,833.4 1317.7,834.6 1318.1,834.3 1318.5,836.8 1318.9,836.2 1319.3,836.3 1319.7,836.7 1320.1,838.5 1320.5,839.3 1320.9,838.4 1321.3,838.5 1321.7,838.2 1322.1,837.7 1322.5,838.5 1322.9,837.4 1323.3,838.6 1323.7,840.3 1324.1,838.5 1324.5,840.7 1324.9,839.1 1325.3,838.5 1325.7,839.8 1326.1,839.7 1326.5,840.4 1326.9,840.1 1327.3,838.8 1327.7,839.8 1328.1,840.3 1328.5,839.9 1328.9,841.2 1329.3,841.3 1329.7,839.9 1330.1,840.3 1330.5,839.9 1330.9,841.1 1331.3,841.2 1331.7,839.2 1332.1,839.8 1332.5,841.1 1332.9,839.6 1333.3,840.7 1333.7,840.8 1334.1,840.2 1334.5,841.8 1334.9,841.3 1335.3,840.5 1335.7,841.3 1336.1,840.4 1336.5,841.1 1336.9,841.3 1337.3,840.7 1337.7,839.6 1338.1,839.5 1338.5,841.1 1338.9,841.0 1339.3,841.2 1339.7,840.7 1340.1,839.6 1340.5,839.9 1340.9,840.8 1341.3,841.8 1341.7,840.5 1342.1,842.2 1342.5,839.4 1342.9,839.7 1343.3,840.4 1343.7,841.3 1344.1,840.2 1344.5,840.2 1344.9,839.9 1345.3,841.0 1345.7,841.4 1346.1,841.8 1346.5,840.3 1346.9,841.0 1347.3,840.5 1347.7,842.2 1348.1,840.6 1348.5,841.7 1348.9,841.4 1349.3,839.9 1349.7,841.5 1350.1,841.8 1350.5,840.3 1350.9,841.7 1351.3,841.0 1351.7,841.8 1352.1,841.6 1352.5,840.7 1352.9,841.5 1353.3,841.2 1353.7,841.5 1354.1,840.8 1354.5,842.1 1354.9,841.4 1355.3,841.5 1355.7,840.4 1356.1,841.5 1356.5,841.3 1356.9,840.5 1357.3,841.6 1357.7,841.5 1358.1,842.0 1358.5,841.8 1358.9,842.4 1359.3,841.0 1359.7,842.7 1360.1,842.6 1360.5,842.1 1360.9,841.8 1361.3,840.9 1361.7,841.5 1362.1,840.4 1362.5,841.2 1362.9,841.5 1363.3,841.9 1363.7,842.6 1364.1,840.1 1364.5,840.2 1364.9,841.1 1365.3,841.2 1365.7,840.6 1366.1,841.5 1366.5,841.5 1366.9,842.0 1367.3,841.1 1367.7,841.6 1368.1,844.1 1368.5,841.3 1368.9,842.4 1369.3,842.0 1369.7,840.2 1370.1,840.9 1370.5,840.6 1370.9,841.9 1371.3,841.1 1371.7,841.0 1372.1,841.0 1372.5,842.0 1372.9,840.7 1373.3,840.4 1373.7,841.1 1374.1,840.2 1374.5,840.4 1374.9,840.6 1375.3,840.5 1375.7,840.1 1376.1,838.7 1376.5,837.9 1376.9,839.2 1377.3,840.1 1377.7,838.5 1378.1,838.5 1378.5,838.7 1378.9,838.0 1379.3,838.9 1379.7,838.3 1380.1,836.1 1380.5,837.3 1380.9,837.2 1381.3,836.5 1381.7,836.9 1382.1,835.8 1382.5,836.1 1382.9,835.5 1383.3,835.1 1383.7,835.9 1384.1,835.0 1384.5,834.6 1384.9,834.4 1385.3,834.6 1385.7,832.7 1386.1,833.3 1386.5,833.3 1386.9,831.8 1387.3,831.6 1387.7,831.7 1388.1,830.2 1388.5,830.2 1388.9,828.9 1389.3,829.8 1389.7,829.2 1390.1,827.7 1390.5,827.2 1390.9,827.4 1391.3,826.6 1391.7,825.9 1392.1,825.9 1392.5,826.2 1392.9,825.5 1393.3,824.9 1393.7,824.8 1394.1,826.3 1394.5,825.1 1394.9,825.6 1395.3,825.3 1395.7,825.6 1396.1,825.4 1396.5,826.6 1396.9,824.2 1397.3,826.6 1397.7,825.4 1398.1,826.4 1398.5,826.2 1398.9,827.3 1399.3,826.6 1399.7,826.5 1400.1,826.3 1400.5,826.2 1400.9,826.1 1401.3,826.6 1401.7,826.1 1402.1,826.5 1402.5,826.4 1402.9,826.4 1403.3,826.5 1403.7,826.8 1404.1,826.4 1404.5,827.0 1404.9,826.9 1405.3,825.5 1405.7,826.2 1406.1,825.5 1406.5,825.2 1406.9,825.7 1407.3,825.2 1407.7,824.9 1408.1,825.1 1408.5,825.3 1408.9,825.4 1409.3,823.9 1409.7,824.7 1410.1,823.7 1410.5,822.5 1410.9,823.6 1411.3,824.9 1411.7,826.0 1412.1,826.3 1412.5,826.9 1412.9,827.5 1413.3,826.3 1413.7,828.1 1414.1,828.6 1414.5,829.8 1414.9,831.3 1415.3,832.0 1415.7,833.0 1416.1,832.5 1416.5,832.7 1416.9,833.9 1417.3,834.1 1417.7,835.5 1418.1,834.3 1418.5,836.6 1418.9,836.8 1419.3,836.8 1419.7,836.1 1420.1,836.7 1420.5,836.6 1420.9,838.7 1421.3,838.9 1421.7,838.3 1422.1,840.1 1422.5,839.9 1422.9,840.1 1423.3,840.3 1423.7,841.3 1424.1,840.6 1424.5,840.8 1424.9,842.2 1425.3,840.6 1425.7,841.5 1426.1,841.9 1426.5,843.1 1426.9,842.5 1427.3,841.5 1427.7,842.9 1428.1,841.1 1428.5,841.6 1428.9,840.7 1429.3,841.8 1429.7,841.2 1430.1,839.8 1430.5,840.0 1430.9,840.0 1431.3,840.6 1431.7,840.2 1432.1,839.1 1432.5,839.6 1432.9,837.7 1433.3,837.3 1433.7,837.2 1434.1,836.6 1434.5,836.4 1434.9,836.1 1435.3,836.6 1435.7,835.0 1436.1,835.3 1436.5,835.3 1436.9,835.5 1437.3,835.1 1437.7,834.7 1438.1,834.5 1438.5,833.9 1438.9,833.7 1439.3,833.6 1439.7,835.3 1440.1,833.0 1440.5,833.9 1440.9,833.6 1441.3,834.0 1441.7,835.1 1442.1,833.5 1442.5,832.1 1442.9,833.3 1443.3,834.3 1443.7,833.8 1444.1,834.4 1444.5,834.0 1444.9,835.6 1445.3,834.0 1445.7,834.8 1446.1,836.5 1446.5,835.4 1446.9,835.1 1447.3,836.5 1447.7,835.0 1448.1,836.5 1448.5,835.7 1448.9,836.5 1449.3,836.9 1449.7,836.6 1450.1,836.6 1450.5,837.4 1450.9,839.3 1451.3,837.7 1451.7,839.0 1452.1,839.3 1452.5,840.5 1452.9,838.9 1453.3,839.8 1453.7,840.0 1454.1,839.3 1454.5,840.3 1454.9,841.6 1455.3,841.8 1455.7,841.6 1456.1,840.9 1456.5,842.2 1456.9,842.5 1457.3,841.7 1457.7,842.3 1458.1,841.7 1458.5,842.0 1458.9,841.4 1459.3,841.0 1459.7,841.1 1460.1,841.7 1460.5,840.7 1460.9,842.4 1461.3,840.9 1461.7,840.2 1462.1,840.2 1462.5,840.1 1462.9,839.3 1463.3,840.0 1463.7,839.7 1464.1,839.1 1464.5,840.2 1464.9,839.0 1465.3,839.1 1465.7,838.5 1466.1,839.2 1466.5,837.8 1466.9,838.1 1467.3,838.8 1467.7,838.6 1468.1,839.3 1468.5,837.9 1468.9,838.0 1469.3,838.0 1469.7,837.9 1470.1,837.9 1470.5,837.5 1470.9,838.7 1471.3,837.7 1471.7,839.3 1472.1,838.3 1472.5,837.5 1472.9,838.0 1473.3,838.1 1473.7,838.1 1474.1,837.6 1474.5,839.1 1474.9,838.2 1475.3,838.4 1475.7,837.7 1476.1,838.0 1476.5,838.8 1476.9,839.0 1477.3,838.5 1477.7,839.0 1478.1,838.9 1478.5,837.4 1478.9,838.6 1479.3,838.2 1479.7,839.3 1480.1,839.3 1480.5,837.9 1480.9,839.5 1481.3,838.9 1481.7,839.5 1482.1,840.2 1482.5,840.3 1482.9,840.1 1483.3,841.1 1483.7,840.3 1484.1,840.3 1484.5,839.1 1484.9,839.5 1485.3,840.3 1485.7,841.2 1486.1,841.4 1486.5,840.9 1486.9,841.3 1487.3,841.9 1487.7,842.0 1488.1,843.0 1488.5,843.3 1488.9,842.5 1489.3,843.0 1489.7,843.6 1490.1,842.9 1490.5,844.3 1490.9,844.7 1491.3,843.8 1491.7,843.3 1492.1,844.6 1492.5,843.8 1492.9,843.9 1493.3,844.4 1493.7,845.1 1494.1,844.4 1494.5,846.0 1494.9,843.6 1495.3,843.7 1495.7,844.0 1496.1,844.4 1496.5,845.2 1496.9,844.3 1497.3,845.1 1497.7,844.4 1498.1,843.2 1498.5,845.0 1498.9,844.6 1499.3,845.0 1499.7,845.2 1500.1,845.4 1500.5,844.8 1500.9,844.7 1501.3,844.9 1501.7,844.9 1502.1,845.5 1502.5,845.2 1502.9,845.1 1503.3,844.2 1503.7,844.5 1504.1,846.0 1504.5,845.2 1504.9,845.6 1505.3,846.1 1505.7,844.6 1506.1,845.6 1506.5,844.3 1506.9,845.7 1507.3,846.2 1507.7,847.1 1508.1,845.6 1508.5,845.1 1508.9,846.1 1509.3,845.9 1509.7,846.8 1510.1,845.9 1510.5,846.3 1510.9,844.6 1511.3,845.8 1511.7,846.7 1512.1,846.3 1512.5,846.3 1512.9,846.1 1513.3,847.1 1513.7,846.0 1514.1,846.6 1514.5,845.8 1514.9,846.9 1515.3,846.5 1515.7,846.1 1516.1,847.3 1516.5,846.8 1516.9,846.4 1517.3,846.6 1517.7,846.3 1518.1,845.8 1518.5,846.4 1518.9,847.1 1519.3,845.7 1519.7,846.0 1520.1,846.6 1520.5,845.5 1520.9,845.9 1521.3,846.1 1521.7,846.8 1522.1,845.8 1522.5,845.6 1522.9,846.0 1523.3,846.9 1523.7,845.7 1524.1,845.6 1524.5,846.3 1524.9,846.1 1525.3,846.6 1525.7,846.1 1526.1,846.3 1526.5,846.8 1526.9,845.5 1527.3,846.8 1527.7,845.5 1528.1,846.1 1528.5,847.6 1528.9,846.7 1529.3,845.5 1529.7,845.9 1530.1,845.8 1530.5,846.4 1530.9,846.8 1531.3,846.0 1531.7,844.3 1532.1,846.1 1532.5,846.4 1532.9,845.5 1533.3,846.2 1533.7,845.4 1534.1,846.2 1534.5,843.8 1534.9,844.7 1535.3,845.0 1535.7,845.5 1536.1,845.7 1536.5,845.9 1536.9,846.0 1537.3,844.8 1537.7,844.7 1538.1,845.5 1538.5,845.4 1538.9,845.7 1539.3,844.5 1539.7,845.0 1540.1,844.7 1540.5,845.9 1540.9,845.5 1541.3,845.7 1541.7,845.7 1542.1,846.3 1542.5,844.6 1542.9,844.4 1543.3,845.4 1543.7,845.3 1544.1,845.1 1544.5,844.1 1544.9,844.7 1545.3,845.8 1545.7,844.6 1546.1,846.1 1546.5,845.3 1546.9,846.4 1547.3,845.0 1547.7,845.6 1548.1,844.9 1548.5,844.0 1548.9,845.5 1549.3,845.0 1549.7,844.6 1550.1,845.3 1550.5,846.0 1550.9,845.0 1551.3,845.2 1551.7,845.2 1552.1,845.0 1552.5,847.0 1552.9,844.4 1553.3,846.3 1553.7,845.0 1554.1,845.0 1554.5,844.2 1554.9,844.9 1555.3,845.8 1555.7,845.4 1556.1,845.2 1556.5,844.7 1556.9,844.7 1557.3,845.0 1557.7,845.2 1558.1,845.3 1558.5,845.6 1558.9,844.4 1559.3,844.4 1559.7,845.3 1560.1,844.7 1560.5,845.4 1560.9,844.8 1561.3,844.6 1561.7,845.6 1562.1,844.4 1562.5,845.8 1562.9,843.8 1563.3,845.0 1563.7,845.5 1564.1,844.9 1564.5,845.9 1564.9,845.2 1565.3,844.8 1565.7,844.7 1566.1,845.6 1566.5,845.7 1566.9,844.1 1567.3,844.8 1567.7,844.1 1568.1,844.9 1568.5,844.8 1568.9,845.6 1569.3,845.4 1569.7,844.1 1570.1,844.4 1570.5,844.4 1570.9,844.5 1571.3,844.1 1571.7,844.4 1572.1,845.0 1572.5,845.4 1572.9,844.5 1573.3,845.3 1573.7,846.1 1574.1,844.2 1574.5,844.5 1574.9,844.3 1575.3,845.1 1575.7,845.9 1576.1,844.4 1576.5,845.3 1576.9,845.0 1577.3,844.8 1577.7,844.3 1578.1,845.0 1578.5,844.3 1578.9,843.9 1579.3,843.5 1579.7,843.7 1580.1,843.4 1580.5,843.5 1580.9,842.6 1581.3,842.9 1581.7,841.7 1582.1,842.5 1582.5,842.2 1582.9,841.7 1583.3,839.8 1583.7,842.3 1584.1,839.7 1584.5,839.7 1584.9,840.3 1585.3,839.2 1585.7,840.1 1586.1,840.5 1586.5,839.8 1586.9,839.1 1587.3,839.7 1587.7,840.6 1588.1,839.7 1588.5,840.5 1588.9,839.9 1589.3,840.7 1589.7,842.3 1590.1,841.0 1590.5,841.7 1590.9,841.4 1591.3,841.6 1591.7,843.1 1592.1,842.4 1592.5,843.3 1592.9,842.5 1593.3,842.8 1593.7,843.7 1594.1,843.9 1594.5,844.5 1594.9,844.5 1595.3,843.6 1595.7,845.0 1596.1,845.0 1596.5,845.0 1596.9,844.8 1597.3,845.2 1597.7,845.4 1598.1,845.1 1598.5,845.3 1598.9,845.0 1599.3,845.3 1599.7,845.0 1600.1,845.6 1600.5,846.4 1600.9,845.1 1601.3,843.9 1601.7,844.7 1602.1,846.4 1602.5,845.1 1602.9,846.5 1603.3,846.4 1603.7,846.2 1604.1,845.1 1604.5,845.1 1604.9,845.2 1605.3,845.4 1605.7,845.9 1606.1,846.6 1606.5,846.4 1606.9,846.7 1607.3,845.2 1607.7,846.8 1608.1,846.2 1608.5,846.0 1608.9,845.7 1609.3,845.7 1609.7,846.9 1610.1,846.3 1610.5,846.4 1610.9,845.6 1611.3,846.8 1611.7,846.3 1612.1,844.8 1612.5,846.0 1612.9,846.0 1613.3,845.8 1613.7,845.7 1614.1,845.6 1614.5,845.9 1614.9,845.0 1615.3,845.7 1615.7,845.9 1616.1,846.2 1616.5,845.1 1616.9,845.1 1617.3,845.5 1617.7,846.1 1618.1,845.3 1618.5,845.8 1618.9,844.0 1619.3,844.0 1619.7,845.3 1620.1,843.3 1620.5,844.7 1620.9,845.3 1621.3,844.0 1621.7,843.9 1622.1,844.2 1622.5,843.8 1622.9,843.3 1623.3,843.5 1623.7,844.1 1624.1,844.2 1624.5,844.0 1624.9,843.0 1625.3,844.1 1625.7,844.0 1626.1,843.4 1626.5,843.6 1626.9,843.1 1627.3,844.4 1627.7,844.1 1628.1,843.4 1628.5,843.7 1628.9,842.8 1629.3,843.4 1629.7,844.9 1630.1,844.0 1630.5,844.4 1630.9,844.1 1631.3,843.1 1631.7,844.5 1632.1,843.9 1632.5,844.4 1632.9,844.5 1633.3,843.6 1633.7,842.3 1634.1,844.3 1634.5,844.6 1634.9,844.4 1635.3,844.3 1635.7,843.1 1636.1,842.8 1636.5,843.8 1636.9,844.1 1637.3,843.6 1637.7,843.9 1638.1,844.1 1638.5,843.2 1638.9,844.0 1639.3,843.5 1639.7,843.9 1640.1,843.9 1640.5,843.9 1640.9,845.5 1641.3,843.4 1641.7,844.2 1642.1,844.7 1642.5,843.3 1642.9,845.1 1643.3,845.3 1643.7,845.3 1644.1,845.7 1644.5,844.8 1644.9,845.8 1645.3,844.3 1645.7,846.2 1646.1,845.7 1646.5,846.3 1646.9,847.4 1647.3,846.3 1647.7,848.0 1648.1,847.6 1648.5,846.2 1648.9,848.0 1649.3,846.8 1649.7,846.4 1650.1,847.2 1650.5,847.2 1650.9,846.4 1651.3,847.2 1651.7,846.4 1652.1,847.2 1652.5,847.4 1652.9,846.9 1653.3,846.5 1653.7,846.0 1654.1,846.3 1654.5,845.4 1654.9,847.1 1655.3,846.3 1655.7,846.5 1656.1,845.1 1656.5,845.6 1656.9,844.7 1657.3,844.9 1657.7,844.8 1658.1,844.2 1658.5,843.5 1658.9,845.0 1659.3,844.5 1659.7,844.1 1660.1,844.4 1660.5,844.0 1660.9,843.2 1661.3,843.7 1661.7,843.9 1662.1,843.7 1662.5,843.0 1662.9,843.3 1663.3,842.2 1663.7,843.1 1664.1,841.9 1664.5,842.5 1664.9,841.7 1665.3,841.1 1665.7,841.7 1666.1,843.4 1666.5,841.7 1666.9,841.4 1667.3,841.4 1667.7,842.0 1668.1,841.0 1668.5,841.5 1668.9,842.5 1669.3,840.5 1669.7,841.3 1670.1,841.9 1670.5,842.0 1670.9,841.0 1671.3,841.8 1671.7,841.0 1672.1,841.5 1672.5,841.3 1672.9,841.1 1673.3,842.2 1673.7,842.5 1674.1,841.4 1674.5,843.1 1674.9,842.2 1675.3,844.2 1675.7,844.2 1676.1,844.0 1676.5,843.9 1676.9,843.2 1677.3,844.3 1677.7,844.1 1678.1,843.4 1678.5,845.5 1678.9,845.3 1679.3,844.6 1679.7,845.4 1680.1,844.4 1680.5,845.1 1680.9,845.2 1681.3,845.0 1681.7,845.8 1682.1,845.7 1682.5,845.5 1682.9,846.1 1683.3,847.8 1683.7,847.0 1684.1,845.4 1684.5,845.7 1684.9,846.5 1685.3,846.5 1685.7,845.9 1686.1,847.0 1686.5,846.1 1686.9,845.8 1687.3,846.5 1687.7,846.5 1688.1,846.8 1688.5,847.0 1688.9,846.5 1689.3,846.3 1689.7,847.6 1690.1,847.5 1690.5,846.3 1690.9,847.2 1691.3,846.9 1691.7,847.4 1692.1,846.5 1692.5,848.0 1692.9,847.1 1693.3,846.7 1693.7,847.1 1694.1,848.1 1694.5,847.2 1694.9,846.2 1695.3,848.5 1695.7,847.7 1696.1,847.3 1696.5,847.0 1696.9,847.4 1697.3,847.4 1697.7,846.9 1698.1,848.1 1698.5,848.7 1698.9,848.4 1699.3,846.8 1699.7,847.6 1700.1,846.7 1700.5,847.1 1700.9,847.4 1701.3,847.0 1701.7,848.7 1702.1,847.6 1702.5,847.9 1702.9,847.5 1703.3,848.6 1703.7,847.8"/>
<polyline fill="none" stroke="#1868dc" stroke-width="4.6" stroke-linejoin="round" stroke-linecap="butt" shape-rendering="crispEdges" points="141.2,574.7 141.7,574.4 142.1,574.6 142.5,574.0 142.9,575.2 143.3,575.5 143.7,576.0 144.1,576.1 144.5,576.7 144.9,576.8 145.3,576.7 145.7,578.1 146.1,578.4 146.5,579.1 146.9,578.5 147.3,578.4 147.7,578.5 148.1,578.2 148.5,579.7 148.9,578.8 149.3,578.9 149.7,579.6 150.1,580.6 150.5,580.1 150.9,579.6 151.3,579.9 151.7,580.7 152.1,580.4 152.5,580.2 152.9,580.6 153.3,581.2 153.7,582.0 154.1,580.4 154.5,580.8 154.9,580.7 155.3,579.9 155.7,580.8 156.1,580.7 156.5,581.8 156.9,581.2 157.3,580.4 157.7,581.6 158.1,581.0 158.5,580.3 158.9,580.9 159.3,580.9 159.7,580.7 160.1,581.2 160.5,580.0 160.9,581.0 161.3,581.6 161.7,581.5 162.1,581.6 162.5,581.6 162.9,581.8 163.3,580.4 163.7,581.4 164.1,580.0 164.5,580.6 164.9,579.9 165.3,581.4 165.7,581.5 166.1,580.7 166.5,581.6 166.9,580.3 167.3,580.7 167.7,580.7 168.1,580.0 168.5,580.8 168.9,581.5 169.3,579.9 169.7,580.9 170.1,580.3 170.5,581.3 170.9,580.6 171.3,580.7 171.7,580.6 172.1,580.4 172.5,579.5 172.9,580.9 173.3,579.4 173.7,580.2 174.1,580.4 174.5,579.6 174.9,580.1 175.3,580.6 175.7,579.9 176.1,579.5 176.5,578.4 176.9,579.4 177.3,579.5 177.7,579.5 178.1,579.3 178.5,580.0 178.9,579.4 179.3,579.6 179.7,580.0 180.1,579.2 180.5,579.5 180.9,580.7 181.3,580.0 181.7,578.9 182.1,579.5 182.5,579.8 182.9,580.1 183.3,579.5 183.7,579.1 184.1,579.0 184.5,579.7 184.9,579.5 185.3,579.0 185.7,579.1 186.1,579.0 186.5,579.6 186.9,578.8 187.3,579.4 187.7,579.5 188.1,579.3 188.5,578.6 188.9,579.7 189.3,578.6 189.7,579.2 190.1,578.5 190.5,578.0 190.9,579.0 191.3,579.0 191.7,578.7 192.1,578.9 192.5,578.4 192.9,578.3 193.3,578.6 193.7,579.6 194.1,579.0 194.5,578.3 194.9,578.8 195.3,578.2 195.7,578.2 196.1,578.8 196.5,578.1 196.9,577.4 197.3,577.8 197.7,578.3 198.1,578.3 198.5,578.8 198.9,577.7 199.3,578.5 199.7,578.3 200.1,577.9 200.5,578.4 200.9,578.2 201.3,577.4 201.7,578.4 202.1,577.1 202.5,577.7 202.9,577.7 203.3,577.8 203.7,577.2 204.1,577.5 204.5,577.4 204.9,577.9 205.3,576.9 205.7,577.3 206.1,577.1 206.5,576.5 206.9,578.5 207.3,577.0 207.7,576.2 208.1,577.6 208.5,576.3 208.9,577.0 209.3,577.2 209.7,576.3 210.1,576.4 210.5,576.2 210.9,576.4 211.3,575.5 211.7,575.7 212.1,576.2 212.5,576.7 212.9,576.4 213.3,577.0 213.7,576.3 214.1,575.7 214.5,575.8 214.9,574.7 215.3,575.2 215.7,575.1 216.1,575.7 216.5,575.9 216.9,575.2 217.3,575.1 217.7,574.5 218.1,575.2 218.5,575.4 218.9,575.4 219.3,574.7 219.7,576.1 220.1,575.6 220.5,574.9 220.9,574.6 221.3,574.6 221.7,574.8 222.1,574.7 222.5,574.9 222.9,574.9 223.3,575.2 223.7,575.0 224.1,574.3 224.5,574.5 224.9,574.0 225.3,573.8 225.7,575.0 226.1,573.7 226.5,574.9 226.9,573.7 227.3,573.9 227.7,574.3 228.1,573.7 228.5,573.8 228.9,573.4 229.3,573.2 229.7,573.3 230.1,573.0 230.5,574.2 230.9,573.2 231.3,574.1 231.7,571.8 232.1,573.1 232.5,573.4 232.9,572.9 233.3,573.6 233.7,573.4 234.1,572.9 234.5,573.2 234.9,574.5 235.3,573.1 235.7,573.2 236.1,572.8 236.5,573.1 236.9,572.3 237.3,572.9 237.7,574.3 238.1,573.6 238.5,573.3 238.9,573.6 239.3,574.0 239.7,573.3 240.1,574.1 240.5,573.6 240.9,573.1 241.3,573.9 241.7,571.8 242.1,572.7 242.5,573.1 242.9,572.5 243.3,572.9 243.7,572.7 244.1,572.7 244.5,574.4 244.9,573.3 245.3,573.0 245.7,573.7 246.1,572.9 246.5,573.5 246.9,573.2 247.3,573.8 247.7,572.3 248.1,573.4 248.5,573.1 248.9,572.4 249.3,573.6 249.7,572.5 250.1,573.8 250.5,573.3 250.9,573.4 251.3,573.0 251.7,573.5 252.1,572.0 252.5,573.0 252.9,572.7 253.3,573.1 253.7,573.0 254.1,573.3 254.5,572.6 254.9,574.0 255.3,574.2 255.7,572.9 256.1,573.0 256.5,573.2 256.9,573.7 257.3,574.1 257.7,572.5 258.1,572.8 258.5,572.6 258.9,572.6 259.3,572.4 259.7,573.4 260.1,572.7 260.5,574.1 260.9,573.9 261.3,572.9 261.7,573.0 262.1,573.2 262.5,574.3 262.9,573.2 263.3,573.0 263.7,573.8 264.1,574.0 264.5,573.6 264.9,574.8 265.3,574.2 265.7,574.3 266.1,573.7 266.5,574.2 266.9,574.2 267.3,573.2 267.7,574.6 268.1,573.6 268.5,574.6 268.9,573.9 269.3,575.8 269.7,574.9 270.1,575.3 270.5,575.4 270.9,574.3 271.3,573.8 271.7,574.9 272.1,575.6 272.5,575.2 272.9,575.7 273.3,575.8 273.7,574.6 274.1,575.5 274.5,576.5 274.9,575.2 275.3,574.5 275.7,575.4 276.1,575.4 276.5,575.9 276.9,575.2 277.3,575.8 277.7,574.6 278.1,576.2 278.5,576.7 278.9,576.5 279.3,575.1 279.7,576.1 280.1,574.4 280.5,576.2 280.9,576.0 281.3,575.6 281.7,576.3 282.1,576.2 282.5,576.7 282.9,576.3 283.3,576.4 283.7,575.3 284.1,575.7 284.5,576.1 284.9,576.6 285.3,576.4 285.7,577.2 286.1,576.0 286.5,576.4 286.9,576.7 287.3,576.5 287.7,576.9 288.1,576.4 288.5,577.4 288.9,576.6 289.3,577.3 289.7,576.8 290.1,577.6 290.5,576.1 290.9,577.1 291.3,576.7 291.7,577.1 292.1,577.6 292.5,576.4 292.9,576.3 293.3,576.5 293.7,577.2 294.1,576.1 294.5,577.2 294.9,576.5 295.3,576.6 295.7,577.0 296.1,577.4 296.5,576.9 296.9,577.0 297.3,577.3 297.7,577.2 298.1,576.0 298.5,577.2 298.9,577.5 299.3,578.0 299.7,578.5 300.1,577.8 300.5,577.6 300.9,577.1 301.3,577.6 301.7,578.0 302.1,578.3 302.5,577.2 302.9,577.8 303.3,578.1 303.7,578.7 304.1,577.9 304.5,577.5 304.9,577.4 305.3,577.6 305.7,577.5 306.1,578.3 306.5,578.4 306.9,578.3 307.3,578.5 307.7,577.7 308.1,578.2 308.5,577.8 308.9,578.0 309.3,578.7 309.7,578.0 310.1,577.1 310.5,578.0 310.9,577.7 311.3,577.3 311.7,577.7 312.1,578.7 312.5,579.1 312.9,578.0 313.3,578.7 313.7,578.9 314.1,577.7 314.5,578.3 314.9,578.3 315.3,578.4 315.7,577.5 316.1,578.2 316.5,578.9 316.9,579.1 317.3,579.4 317.7,578.3 318.1,579.4 318.5,578.8 318.9,577.8 319.3,578.9 319.7,578.3 320.1,578.8 320.5,578.5 320.9,579.2 321.3,578.7 321.7,578.5 322.1,579.1 322.5,578.8 322.9,578.4 323.3,579.3 323.7,578.5 324.1,578.4 324.5,578.4 324.9,578.0 325.3,578.5 325.7,579.7 326.1,578.3 326.5,578.8 326.9,578.3 327.3,578.5 327.7,579.7 328.1,579.3 328.5,578.6 328.9,578.9 329.3,578.5 329.7,578.5 330.1,578.5 330.5,578.5 330.9,579.2 331.3,579.3 331.7,579.3 332.1,579.0 332.5,578.4 332.9,579.1 333.3,578.6 333.7,579.6 334.1,579.4 334.5,579.6 334.9,579.0 335.3,578.3 335.7,579.7 336.1,579.9 336.5,578.5 336.9,579.3 337.3,579.9 337.7,578.7 338.1,580.2 338.5,579.2 338.9,578.8 339.3,580.1 339.7,579.5 340.1,579.1 340.5,579.9 340.9,578.4 341.3,580.4 341.7,579.1 342.1,579.6 342.5,579.3 342.9,579.8 343.3,580.0 343.7,579.1 344.1,580.0 344.5,579.4 344.9,579.3 345.3,579.5 345.7,579.1 346.1,579.2 346.5,580.2 346.9,579.6 347.3,580.3 347.7,579.9 348.1,579.2 348.5,578.8 348.9,579.4 349.3,579.9 349.7,579.8 350.1,579.4 350.5,580.3 350.9,578.9 351.3,579.2 351.7,579.9 352.1,581.0 352.5,580.1 352.9,579.3 353.3,580.2 353.7,580.2 354.1,580.4 354.5,579.7 354.9,579.5 355.3,580.0 355.7,580.1 356.1,580.8 356.5,581.0 356.9,579.6 357.3,579.7 357.7,579.9 358.1,579.8 358.5,580.2 358.9,580.2 359.3,580.1 359.7,580.7 360.1,579.9 360.5,579.4 360.9,579.2 361.3,579.5 361.7,579.5 362.1,579.0 362.5,580.3 362.9,580.1 363.3,579.8 363.7,579.5 364.1,579.1 364.5,579.4 364.9,580.8 365.3,578.7 365.7,579.9 366.1,580.1 366.5,579.7 366.9,579.4 367.3,579.9 367.7,578.9 368.1,579.7 368.5,580.1 368.9,578.7 369.3,578.7 369.7,579.1 370.1,579.5 370.5,579.6 370.9,579.1 371.3,578.3 371.7,578.0 372.1,578.6 372.5,578.6 372.9,577.7 373.3,578.2 373.7,578.2 374.1,578.4 374.5,577.2 374.9,577.8 375.3,576.7 375.7,576.9 376.1,576.8 376.5,577.4 376.9,578.1 377.3,576.3 377.7,576.2 378.1,576.3 378.5,574.9 378.9,575.9 379.3,574.9 379.7,576.4 380.1,576.4 380.5,576.1 380.9,575.6 381.3,577.2 381.7,576.8 382.1,577.0 382.5,577.6 382.9,576.7 383.3,578.1 383.7,578.7 384.1,578.6 384.5,578.7 384.9,578.2 385.3,579.1 385.7,579.0 386.1,578.9 386.5,578.7 386.9,579.5 387.3,579.7 387.7,579.3 388.1,579.7 388.5,579.9 388.9,580.1 389.3,579.5 389.7,579.3 390.1,579.2 390.5,579.5 390.9,579.8 391.3,580.1 391.7,579.4 392.1,579.7 392.5,579.2 392.9,580.4 393.3,579.5 393.7,580.0 394.1,579.4 394.5,579.7 394.9,579.5 395.3,580.8 395.7,580.1 396.1,579.8 396.5,579.4 396.9,579.6 397.3,580.3 397.7,580.8 398.1,579.2 398.5,579.5 398.9,579.9 399.3,579.7 399.7,579.1 400.1,580.0 400.5,580.4 400.9,579.2 401.3,580.1 401.7,580.5 402.1,580.5 402.5,579.7 402.9,581.1 403.3,580.2 403.7,579.5 404.1,580.4 404.5,579.3 404.9,580.3 405.3,579.2 405.7,580.2 406.1,579.5 406.5,580.3 406.9,580.1 407.3,579.9 407.7,579.7 408.1,580.2 408.5,578.6 408.9,579.7 409.3,579.7 409.7,579.7 410.1,579.8 410.5,581.3 410.9,579.4 411.3,579.7 411.7,579.3 412.1,580.0 412.5,578.1 412.9,579.9 413.3,578.6 413.7,577.8 414.1,578.3 414.5,578.7 414.9,578.9 415.3,578.7 415.7,579.1 416.1,578.6 416.5,578.5 416.9,577.4 417.3,578.7 417.7,578.9 418.1,578.1 418.5,577.3 418.9,577.5 419.3,579.0 419.7,577.7 420.1,577.6 420.5,577.5 420.9,578.2 421.3,577.5 421.7,577.2 422.1,576.8 422.5,577.5 422.9,578.0 423.3,577.3 423.7,577.7 424.1,577.2 424.5,577.1 424.9,577.0 425.3,576.8 425.7,577.2 426.1,576.8 426.5,576.1 426.9,576.3 427.3,576.1 427.7,576.2 428.1,575.9 428.5,575.9 428.9,574.7 429.3,575.5 429.7,575.8 430.1,574.3 430.5,575.6 430.9,574.7 431.3,574.1 431.7,573.0 432.1,574.1 432.5,572.6 432.9,572.5 433.3,572.6 433.7,571.4 434.1,571.0 434.5,570.5 434.9,570.6 435.3,570.6 435.7,570.2 436.1,569.9 436.5,569.2 436.9,569.2 437.3,568.6 437.7,569.9 438.1,568.9 438.5,567.7 438.9,568.3 439.3,569.8 439.7,568.5 440.1,569.2 440.5,570.0 440.9,569.5 441.3,571.0 441.7,571.8 442.1,570.9 442.5,572.3 442.9,571.7 443.3,572.1 443.7,573.2 444.1,573.6 444.5,573.5 444.9,574.6 445.3,573.7 445.7,574.3 446.1,574.4 446.5,575.5 446.9,575.6 447.3,575.7 447.7,574.8 448.1,575.7 448.5,576.0 448.9,575.0 449.3,575.5 449.7,576.4 450.1,576.6 450.5,576.4 450.9,576.7 451.3,576.7 451.7,576.7 452.1,576.6 452.5,576.3 452.9,576.7 453.3,576.7 453.7,578.2 454.1,577.2 454.5,577.1 454.9,577.1 455.3,577.2 455.7,577.2 456.1,577.6 456.5,577.4 456.9,577.9 457.3,577.1 457.7,577.7 458.1,578.0 458.5,577.0 458.9,577.7 459.3,577.8 459.7,577.5 460.1,577.4 460.5,576.8 460.9,578.3 461.3,577.3 461.7,577.2 462.1,578.2 462.5,576.9 462.9,578.4 463.3,578.1 463.7,578.3 464.1,577.9 464.5,577.4 464.9,577.0 465.3,578.8 465.7,577.8 466.1,577.8 466.5,578.9 466.9,577.8 467.3,578.0 467.7,578.1 468.1,578.1 468.5,577.7 468.9,578.0 469.3,578.9 469.7,578.7 470.1,576.8 470.5,577.3 470.9,578.5 471.3,578.3 471.7,578.2 472.1,578.9 472.5,577.5 472.9,579.1 473.3,578.5 473.7,578.8 474.1,578.6 474.5,578.9 474.9,578.4 475.3,578.2 475.7,578.9 476.1,578.6 476.5,577.9 476.9,579.3 477.3,579.2 477.7,579.4 478.1,578.7 478.5,578.8 478.9,578.4 479.3,578.1 479.7,578.7 480.1,578.8 480.5,578.3 480.9,579.6 481.3,577.9 481.7,578.3 482.1,578.4 482.5,579.4 482.9,578.6 483.3,578.6 483.7,578.3 484.1,578.3 484.5,578.1 484.9,579.3 485.3,579.1 485.7,579.3 486.1,578.4 486.5,580.1 486.9,578.2 487.3,577.7 487.7,578.6 488.1,578.8 488.5,579.1 488.9,578.2 489.3,579.1 489.7,579.6 490.1,578.3 490.5,578.4 490.9,577.9 491.3,578.9 491.7,579.2 492.1,579.1 492.5,579.2 492.9,579.5 493.3,578.8 493.7,579.2 494.1,578.3 494.5,578.3 494.9,578.9 495.3,578.3 495.7,579.0 496.1,579.5 496.5,579.0 496.9,578.4 497.3,578.4 497.7,579.5 498.1,578.3 498.5,578.8 498.9,578.6 499.3,578.8 499.7,579.3 500.1,578.5 500.5,578.0 500.9,579.5 501.3,578.9 501.7,579.1 502.1,578.7 502.5,579.2 502.9,579.4 503.3,579.5 503.7,578.6 504.1,578.6 504.5,579.0 504.9,578.9 505.3,579.0 505.7,578.4 506.1,577.5 506.5,579.0 506.9,579.2 507.3,579.1 507.7,579.6 508.1,579.2 508.5,578.5 508.9,579.3 509.3,578.7 509.7,579.4 510.1,578.9 510.5,579.0 510.9,578.9 511.3,578.8 511.7,578.0 512.1,578.8 512.5,577.6 512.9,579.0 513.3,579.2 513.7,579.6 514.1,578.6 514.5,577.8 514.9,577.1 515.3,578.6 515.7,576.5 516.1,577.4 516.5,575.3 516.9,576.0 517.3,575.9 517.7,575.2 518.1,574.5 518.5,573.5 518.9,572.9 519.3,573.3 519.7,572.3 520.1,570.7 520.5,569.2 520.9,566.7 521.3,565.5 521.7,563.6 522.1,560.6 522.5,559.5 522.9,558.9 523.3,557.7 523.7,559.4 524.1,560.1 524.5,560.6 524.9,563.1 525.3,565.5 525.7,566.1 526.1,569.1 526.5,570.6 526.9,572.2 527.3,573.8 527.7,573.8 528.1,573.8 528.5,574.3 528.9,575.5 529.3,576.3 529.7,576.4 530.1,576.8 530.5,577.2 530.9,578.2 531.3,578.1 531.7,577.7 532.1,578.2 532.5,579.1 532.9,578.3 533.3,578.5 533.7,578.7 534.1,578.2 534.5,579.1 534.9,577.3 535.3,579.0 535.7,577.7 536.1,576.9 536.5,577.3 536.9,575.8 537.3,576.4 537.7,575.9 538.1,574.6 538.5,574.0 538.9,573.9 539.3,572.3 539.7,571.8 540.1,571.1 540.5,570.8 540.9,568.0 541.3,565.5 541.7,562.5 542.1,556.3 542.5,552.9 542.9,547.3 543.3,542.9 543.7,540.7 544.1,536.4 544.5,534.6 544.9,532.5 545.3,533.3 545.7,535.7 546.1,540.3 546.5,546.5 546.9,553.0 547.3,560.0 547.7,564.5 548.1,568.7 548.5,570.3 548.9,571.8 549.3,572.2 549.7,574.5 550.1,574.6 550.5,575.7 550.9,576.3 551.3,577.5 551.7,577.7 552.1,577.8 552.5,578.1 552.9,578.3 553.3,578.6 553.7,578.6 554.1,579.0 554.5,579.3 554.9,578.9 555.3,577.9 555.7,579.6 556.1,579.8 556.5,578.6 556.9,578.6 557.3,577.8 557.7,579.3 558.1,578.4 558.5,579.9 558.9,577.7 559.3,579.0 559.7,579.3 560.1,578.8 560.5,578.6 560.9,579.1 561.3,578.7 561.7,578.8 562.1,579.0 562.5,578.7 562.9,578.9 563.3,579.4 563.7,578.8 564.1,579.1 564.5,578.6 564.9,579.5 565.3,578.3 565.7,579.5 566.1,577.4 566.5,578.5 566.9,578.1 567.3,579.5 567.7,579.1 568.1,578.3 568.5,578.6 568.9,579.6 569.3,578.9 569.7,579.2 570.1,578.1 570.5,578.1 570.9,579.2 571.3,580.1 571.7,578.6 572.1,579.2 572.5,578.4 572.9,579.5 573.3,578.6 573.7,578.6 574.1,577.9 574.5,578.6 574.9,578.9 575.3,579.5 575.7,578.2 576.1,579.3 576.5,578.6 576.9,578.6 577.3,578.3 577.7,577.9 578.1,578.1 578.5,579.6 578.9,578.1 579.3,578.5 579.7,579.3 580.1,577.7 580.5,579.0 580.9,578.5 581.3,578.8 581.7,579.2 582.1,578.7 582.5,578.6 582.9,579.1 583.3,579.1 583.7,578.4 584.1,578.6 584.5,578.0 584.9,579.4 585.3,578.1 585.7,578.8 586.1,579.6 586.5,579.1 586.9,578.6 587.3,578.3 587.7,578.4 588.1,579.2 588.5,578.9 588.9,578.7 589.3,580.1 589.7,578.3 590.1,578.5 590.5,578.5 590.9,578.8 591.3,578.9 591.7,578.6 592.1,579.1 592.5,579.0 592.9,578.6 593.3,577.5 593.7,579.1 594.1,578.2 594.5,578.4 594.9,578.6 595.3,578.1 595.7,578.3 596.1,578.8 596.5,578.5 596.9,578.9 597.3,578.3 597.7,578.6 598.1,578.2 598.5,578.6 598.9,578.9 599.3,578.6 599.7,578.0 600.1,578.6 600.5,578.8 600.9,579.3 601.3,578.7 601.7,578.5 602.1,578.1 602.5,579.7 602.9,578.2 603.3,578.1 603.7,578.6 604.1,577.8 604.5,579.3 604.9,578.8 605.3,579.0 605.7,578.2 606.1,578.4 606.5,579.2 606.9,579.2 607.3,580.2 607.7,579.3 608.1,577.7 608.5,578.8 608.9,578.5 609.3,579.3 609.7,578.7 610.1,579.0 610.5,578.5 610.9,579.0 611.3,579.5 611.7,578.4 612.1,577.6 612.5,578.1 612.9,579.5 613.3,578.7 613.7,578.4 614.1,578.1 614.5,579.1 614.9,578.6 615.3,578.4 615.7,578.1 616.1,578.3 616.5,578.2 616.9,578.6 617.3,578.9 617.7,577.2 618.1,577.4 618.5,578.0 618.9,578.0 619.3,577.1 619.7,577.5 620.1,577.6 620.5,577.5 620.9,577.4 621.3,577.5 621.7,578.0 622.1,577.8 622.5,577.7 622.9,577.4 623.3,576.8 623.7,576.9 624.1,577.4 624.5,577.0 624.9,577.3 625.3,576.9 625.7,576.7 626.1,576.8 626.5,575.7 626.9,576.3 627.3,576.0 627.7,576.6 628.1,575.7 628.5,576.1 628.9,575.6 629.3,575.9 629.7,575.9 630.1,575.3 630.5,575.3 630.9,575.1 631.3,575.2 631.7,574.4 632.1,574.4 632.5,573.9 632.9,573.4 633.3,573.7 633.7,573.6 634.1,572.6 634.5,573.6 634.9,572.1 635.3,572.5 635.7,572.0 636.1,570.5 636.5,571.0 636.9,569.8 637.3,570.2 637.7,570.1 638.1,570.2 638.5,569.0 638.9,567.0 639.3,566.8 639.7,566.7 640.1,565.0 640.5,564.7 640.9,562.2 641.3,561.0 641.7,559.3 642.1,558.5 642.5,557.9 642.9,555.4 643.3,554.9 643.7,553.3 644.1,552.1 644.5,550.2 644.9,548.8 645.3,548.2 645.7,544.4 646.1,543.3 646.5,541.5 646.9,538.7 647.3,537.2 647.7,532.9 648.1,532.7 648.5,531.0 648.9,530.5 649.3,530.4 649.7,530.9 650.1,530.9 650.5,532.9 650.9,532.9 651.3,535.8 651.7,536.9 652.1,538.0 652.5,539.8 652.9,541.6 653.3,543.7 653.7,545.8 654.1,547.7 654.5,548.5 654.9,548.4 655.3,548.8 655.7,550.8 656.1,551.1 656.5,552.7 656.9,553.3 657.3,555.8 657.7,554.4 658.1,556.2 658.5,557.8 658.9,557.3 659.3,557.8 659.7,559.7 660.1,558.4 660.5,559.2 660.9,560.0 661.3,561.4 661.7,562.1 662.1,562.2 662.5,563.9 662.9,563.2 663.3,563.8 663.7,564.1 664.1,565.2 664.5,564.8 664.9,564.7 665.3,565.8 665.7,565.4 666.1,565.0 666.5,563.4 666.9,563.0 667.3,562.8 667.7,562.0 668.1,561.1 668.5,560.3 668.9,559.7 669.3,557.7 669.7,557.2 670.1,555.6 670.5,554.2 670.9,552.1 671.3,549.4 671.7,545.3 672.1,540.2 672.5,536.0 672.9,531.0 673.3,526.3 673.7,521.4 674.1,517.6 674.5,512.0 674.9,505.5 675.3,500.1 675.7,495.8 676.1,494.3 676.5,493.9 676.9,497.5 677.3,503.5 677.7,511.1 678.1,518.4 678.5,522.7 678.9,527.0 679.3,528.8 679.7,531.7 680.1,533.2 680.5,534.8 680.9,537.6 681.3,539.5 681.7,539.2 682.1,540.8 682.5,541.3 682.9,541.0 683.3,538.0 683.7,534.9 684.1,531.5 684.5,527.5 684.9,522.1 685.3,518.1 685.7,511.7 686.1,507.2 686.5,506.7 686.9,511.1 687.3,518.1 687.7,526.8 688.1,535.0 688.5,540.1 688.9,544.1 689.3,547.0 689.7,551.0 690.1,552.1 690.5,555.8 690.9,558.9 691.3,560.3 691.7,563.4 692.1,564.8 692.5,565.6 692.9,567.3 693.3,567.7 693.7,569.1 694.1,570.4 694.5,570.7 694.9,573.0 695.3,573.0 695.7,574.6 696.1,574.6 696.5,575.4 696.9,575.2 697.3,575.9 697.7,576.1 698.1,576.7 698.5,577.5 698.9,576.8 699.3,577.2 699.7,577.6 700.1,578.1 700.5,577.7 700.9,577.7 701.3,577.6 701.7,578.0 702.1,578.1 702.5,577.6 702.9,577.7 703.3,578.0 703.7,577.4 704.1,576.8 704.5,577.1 704.9,576.7 705.3,576.2 705.7,575.7 706.1,574.6 706.5,574.3 706.9,573.7 707.3,573.0 707.7,571.3 708.1,571.3 708.5,570.3 708.9,568.9 709.3,566.7 709.7,565.0 710.1,561.8 710.5,559.7 710.9,556.4 711.3,555.1 711.7,553.2 712.1,550.3 712.5,544.3 712.9,539.1 713.3,532.2 713.7,523.8 714.1,515.5 714.5,510.7 714.9,504.7 715.3,501.6 715.7,502.5 716.1,505.5 716.5,512.4 716.9,521.1 717.3,528.7 717.7,535.6 718.1,541.4 718.5,544.8 718.9,548.7 719.3,551.9 719.7,554.4 720.1,557.6 720.5,560.0 720.9,562.4 721.3,564.5 721.7,566.5 722.1,567.8 722.5,568.3 722.9,570.5 723.3,570.4 723.7,573.0 724.1,571.6 724.5,571.6 724.9,571.4 725.3,569.2 725.7,566.9 726.1,564.8 726.5,563.4 726.9,561.1 727.3,558.8 727.7,556.1 728.1,553.0 728.5,549.8 728.9,545.9 729.3,540.3 729.7,538.6 730.1,533.6 730.5,533.2 730.9,534.5 731.3,537.2 731.7,541.4 732.1,546.7 732.5,551.7 732.9,553.1 733.3,556.8 733.7,558.4 734.1,560.2 734.5,562.4 734.9,564.1 735.3,565.8 735.7,566.4 736.1,568.3 736.5,567.3 736.9,568.2 737.3,568.1 737.7,568.4 738.1,567.6 738.5,567.3 738.9,565.6 739.3,565.6 739.7,564.0 740.1,562.0 740.5,560.0 740.9,558.7 741.3,557.1 741.7,557.1 742.1,555.4 742.5,552.7 742.9,552.4 743.3,549.0 743.7,545.6 744.1,544.8 744.5,542.5 744.9,539.5 745.3,536.9 745.7,536.2 746.1,534.0 746.5,533.4 746.9,533.5 747.3,534.2 747.7,535.3 748.1,537.1 748.5,540.5 748.9,541.7 749.3,545.9 749.7,548.5 750.1,551.0 750.5,552.3 750.9,554.1 751.3,555.9 751.7,556.4 752.1,558.5 752.5,560.1 752.9,560.6 753.3,562.1 753.7,564.6 754.1,565.4 754.5,565.5 754.9,567.2 755.3,567.8 755.7,568.9 756.1,569.2 756.5,567.6 756.9,569.0 757.3,570.1 757.7,570.4 758.1,569.4 758.5,569.2 758.9,570.1 759.3,569.7 759.7,569.9 760.1,568.2 760.5,567.3 760.9,564.7 761.3,562.1 761.7,558.8 762.1,555.1 762.5,551.8 762.9,550.5 763.3,549.4 763.7,552.5 764.1,555.8 764.5,557.8 764.9,561.3 765.3,564.6 765.7,566.3 766.1,567.0 766.5,568.7 766.9,570.2 767.3,571.3 767.7,573.0 768.1,574.0 768.5,575.5 768.9,574.8 769.3,577.1 769.7,577.5 770.1,577.5 770.5,578.2 770.9,578.9 771.3,578.9 771.7,578.9 772.1,579.4 772.5,579.1 772.9,578.8 773.3,579.0 773.7,578.9 774.1,579.1 774.5,579.0 774.9,578.1 775.3,578.1 775.7,576.6 776.1,575.5 776.5,574.6 776.9,573.7 777.3,573.1 777.7,573.1 778.1,570.7 778.5,570.9 778.9,569.8 779.3,569.4 779.7,567.8 780.1,567.4 780.5,565.8 780.9,565.3 781.3,562.9 781.7,563.1 782.1,562.1 782.5,559.8 782.9,559.9 783.3,557.8 783.7,557.8 784.1,556.3 784.5,555.6 784.9,554.4 785.3,552.4 785.7,552.6 786.1,551.3 786.5,549.3 786.9,549.6 787.3,549.7 787.7,550.0 788.1,551.3 788.5,554.5 788.9,555.7 789.3,558.5 789.7,561.0 790.1,561.8 790.5,562.1 790.9,563.6 791.3,563.0 791.7,563.8 792.1,566.3 792.5,564.8 792.9,565.8 793.3,565.4 793.7,566.3 794.1,566.7 794.5,565.4 794.9,566.6 795.3,567.4 795.7,567.5 796.1,567.0 796.5,566.0 796.9,566.1 797.3,565.0 797.7,564.0 798.1,563.5 798.5,563.8 798.9,561.2 799.3,561.2 799.7,559.9 800.1,558.1 800.5,557.6 800.9,557.4 801.3,556.6 801.7,556.2 802.1,554.9 802.5,554.1 802.9,554.5 803.3,553.4 803.7,552.5 804.1,552.7 804.5,553.5 804.9,552.4 805.3,552.4 805.7,554.5 806.1,556.1 806.5,557.0 806.9,557.0 807.3,558.0 807.7,561.2 808.1,561.8 808.5,563.4 808.9,564.2 809.3,566.0 809.7,565.9 810.1,566.5 810.5,567.5 810.9,567.6 811.3,569.1 811.7,569.7 812.1,569.4 812.5,570.6 812.9,571.2 813.3,571.7 813.7,573.3 814.1,574.2 814.5,574.2 814.9,573.6 815.3,573.8 815.7,575.3 816.1,574.8 816.5,574.9 816.9,574.3 817.3,573.9 817.7,576.0 818.1,574.4 818.5,574.5 818.9,573.9 819.3,575.1 819.7,573.9 820.1,573.8 820.5,573.7 820.9,573.4 821.3,573.8 821.7,571.9 822.1,572.8 822.5,571.6 822.9,570.6 823.3,569.1 823.7,568.2 824.1,566.0 824.5,565.3 824.9,565.3 825.3,564.8 825.7,565.7 826.1,567.6 826.5,569.1 826.9,570.7 827.3,572.6 827.7,573.5 828.1,575.3 828.5,574.7 828.9,574.9 829.3,576.3 829.7,575.7 830.1,576.2 830.5,576.9 830.9,577.7 831.3,577.3 831.7,577.5 832.1,577.8 832.5,578.4 832.9,578.1 833.3,578.6 833.7,579.3 834.1,578.5 834.5,578.5 834.9,578.2 835.3,578.3 835.7,578.1 836.1,578.1 836.5,578.4 836.9,578.9 837.3,579.0 837.7,578.5 838.1,578.9 838.5,578.0 838.9,579.8 839.3,580.0 839.7,578.7 840.1,579.0 840.5,578.8 840.9,579.1 841.3,578.4 841.7,577.9 842.1,579.1 842.5,578.1 842.9,578.9 843.3,578.2 843.7,578.3 844.1,579.2 844.5,579.6 844.9,578.6 845.3,578.5 845.7,578.9 846.1,578.4 846.5,577.8 846.9,578.7 847.3,577.6 847.7,578.9 848.1,578.5 848.5,578.8 848.9,577.9 849.3,578.3 849.7,579.0 850.1,579.4 850.5,579.1 850.9,578.7 851.3,577.6 851.7,578.2 852.1,577.5 852.5,576.8 852.9,577.0 853.3,575.3 853.7,575.9 854.1,574.0 854.5,573.2 854.9,572.7 855.3,571.2 855.7,570.5 856.1,569.3 856.5,566.6 856.9,565.1 857.3,562.7 857.7,560.9 858.1,559.4 858.5,556.2 858.9,553.9 859.3,551.8 859.7,548.8 860.1,546.8 860.5,543.2 860.9,539.8 861.3,535.9 861.7,533.3 862.1,531.5 862.5,529.7 862.9,527.9 863.3,528.4 863.7,530.0 864.1,532.9 864.5,536.6 864.9,543.0 865.3,546.1 865.7,550.9 866.1,554.8 866.5,556.1 866.9,558.4 867.3,560.7 867.7,562.4 868.1,564.7 868.5,566.2 868.9,568.7 869.3,569.9 869.7,570.5 870.1,571.6 870.5,573.1 870.9,574.0 871.3,574.6 871.7,576.0 872.1,575.7 872.5,576.4 872.9,577.2 873.3,576.6 873.7,578.3 874.1,578.8 874.5,579.5 874.9,578.6 875.3,579.2 875.7,579.8 876.1,579.6 876.5,579.2 876.9,580.5 877.3,579.8 877.7,580.0 878.1,579.1 878.5,579.8 878.9,578.8 879.3,578.1 879.7,578.4 880.1,578.0 880.5,576.2 880.9,576.5 881.3,576.1 881.7,574.6 882.1,572.9 882.5,573.1 882.9,572.5 883.3,570.6 883.7,571.1 884.1,569.2 884.5,568.1 884.9,567.4 885.3,565.5 885.7,564.5 886.1,562.2 886.5,560.7 886.9,558.8 887.3,557.1 887.7,555.6 888.1,553.8 888.5,551.7 888.9,550.4 889.3,547.6 889.7,546.0 890.1,543.4 890.5,540.8 890.9,538.6 891.3,537.5 891.7,537.3 892.1,536.4 892.5,537.4 892.9,538.5 893.3,540.6 893.7,543.1 894.1,545.4 894.5,549.4 894.9,552.0 895.3,554.1 895.7,556.2 896.1,556.7 896.5,559.6 896.9,559.4 897.3,561.7 897.7,562.3 898.1,564.0 898.5,566.0 898.9,565.7 899.3,567.6 899.7,568.6 900.1,569.5 900.5,570.2 900.9,571.2 901.3,571.5 901.7,571.9 902.1,572.6 902.5,572.9 902.9,572.9 903.3,572.7 903.7,574.1 904.1,573.9 904.5,575.3 904.9,574.5 905.3,574.4 905.7,575.9 906.1,575.2 906.5,575.1 906.9,576.7 907.3,575.6 907.7,577.2 908.1,576.1 908.5,577.0 908.9,577.0 909.3,576.0 909.7,577.0 910.1,576.8 910.5,577.1 910.9,577.2 911.3,577.8 911.7,576.8 912.1,576.8 912.5,577.9 912.9,577.1 913.3,577.1 913.7,575.8 914.1,575.8 914.5,576.1 914.9,576.2 915.3,576.5 915.7,577.6 916.1,575.4 916.5,575.7 916.9,576.2 917.3,575.9 917.7,576.2 918.1,575.4 918.5,575.0 918.9,576.5 919.3,575.6 919.7,574.6 920.1,575.0 920.5,575.1 920.9,574.3 921.3,575.4 921.7,575.1 922.1,574.8 922.5,574.6 922.9,575.8 923.3,575.0 923.7,574.7 924.1,574.0 924.5,574.6 924.9,575.6 925.3,576.1 925.7,574.8 926.1,574.5 926.5,575.7 926.9,575.8 927.3,576.4 927.7,575.7 928.1,576.2 928.5,575.3 928.9,575.7 929.3,576.2 929.7,576.4 930.1,577.0 930.5,577.4 930.9,576.1 931.3,577.8 931.7,576.5 932.1,576.7 932.5,577.6 932.9,575.7 933.3,576.0 933.7,576.0 934.1,576.1 934.5,576.1 934.9,575.5 935.3,573.7 935.7,573.9 936.1,572.4 936.5,572.6 936.9,570.8 937.3,570.6 937.7,568.6 938.1,568.6 938.5,566.6 938.9,566.5 939.3,564.7 939.7,564.7 940.1,563.4 940.5,562.3 940.9,561.7 941.3,560.8 941.7,559.3 942.1,558.3 942.5,557.5 942.9,556.9 943.3,556.3 943.7,555.7 944.1,556.7 944.5,556.1 944.9,558.0 945.3,558.5 945.7,562.1 946.1,562.6 946.5,564.7 946.9,567.1 947.3,567.9 947.7,568.8 948.1,569.2 948.5,570.8 948.9,572.7 949.3,572.4 949.7,573.9 950.1,574.1 950.5,574.1 950.9,574.2 951.3,575.4 951.7,576.3 952.1,576.4 952.5,577.0 952.9,577.6 953.3,577.5 953.7,577.2 954.1,578.1 954.5,578.8 954.9,578.2 955.3,578.3 955.7,578.4 956.1,578.9 956.5,579.1 956.9,579.2 957.3,578.7 957.7,579.5 958.1,579.3 958.5,579.2 958.9,578.8 959.3,579.3 959.7,579.6 960.1,580.1 960.5,580.3 960.9,580.1 961.3,580.3 961.7,579.7 962.1,580.7 962.5,580.8 962.9,580.7 963.3,580.1 963.7,580.4 964.1,580.2 964.5,579.8 964.9,580.3 965.3,579.7 965.7,579.5 966.1,580.6 966.5,580.5 966.9,580.6 967.3,579.8 967.7,579.8 968.1,579.9 968.5,579.2 968.9,578.1 969.3,580.1 969.7,579.2 970.1,579.0 970.5,578.0 970.9,577.2 971.3,577.4 971.7,577.1 972.1,575.9 972.5,576.0 972.9,576.2 973.3,576.3 973.7,575.4 974.1,574.4 974.5,573.4 974.9,574.3 975.3,572.4 975.7,571.8 976.1,570.3 976.5,568.5 976.9,569.2 977.3,567.2 977.7,566.4 978.1,564.3 978.5,563.6 978.9,563.5 979.3,561.8 979.7,560.9 980.1,560.3 980.5,559.9 980.9,561.0 981.3,561.0 981.7,561.1 982.1,564.3 982.5,565.9 982.9,567.6 983.3,567.8 983.7,570.4 984.1,572.3 984.5,571.8 984.9,572.2 985.3,572.7 985.7,572.0 986.1,573.3 986.5,573.8 986.9,573.8 987.3,574.4 987.7,573.8 988.1,573.8 988.5,573.8 988.9,573.6 989.3,573.4 989.7,573.6 990.1,574.0 990.5,573.7 990.9,574.0 991.3,573.9 991.7,574.1 992.1,573.4 992.5,572.5 992.9,572.9 993.3,574.3 993.7,573.5 994.1,572.7 994.5,572.6 994.9,572.5 995.3,572.1 995.7,572.1 996.1,571.9 996.5,571.6 996.9,570.2 997.3,569.7 997.7,569.2 998.1,569.1 998.5,569.4 998.9,568.4 999.3,570.1 999.7,569.5 1000.1,570.3 1000.5,569.8 1000.9,570.7 1001.3,571.3 1001.7,572.3 1002.1,571.8 1002.5,573.7 1002.9,573.1 1003.3,574.5 1003.7,575.0 1004.1,574.5 1004.5,574.5 1004.9,574.5 1005.3,574.5 1005.7,574.8 1006.1,575.1 1006.5,575.0 1006.9,575.5 1007.3,574.8 1007.7,574.5 1008.1,574.5 1008.5,574.2 1008.9,574.6 1009.3,574.5 1009.7,575.8 1010.1,575.2 1010.5,575.8 1010.9,573.9 1011.3,575.1 1011.7,575.5 1012.1,575.1 1012.5,574.7 1012.9,575.1 1013.3,575.0 1013.7,575.1 1014.1,575.1 1014.5,575.5 1014.9,575.1 1015.3,575.2 1015.7,575.0 1016.1,575.3 1016.5,574.7 1016.9,575.3 1017.3,574.9 1017.7,575.5 1018.1,574.8 1018.5,575.0 1018.9,575.0 1019.3,574.2 1019.7,574.6 1020.1,573.4 1020.5,572.0 1020.9,571.3 1021.3,569.1 1021.7,567.7 1022.1,566.9 1022.5,566.2 1022.9,563.7 1023.3,563.5 1023.7,561.9 1024.1,560.4 1024.5,560.1 1024.9,559.5 1025.3,558.1 1025.7,557.5 1026.1,556.2 1026.5,555.2 1026.9,556.5 1027.3,556.0 1027.7,557.6 1028.1,558.5 1028.5,560.4 1028.9,562.4 1029.3,562.7 1029.7,565.0 1030.1,566.4 1030.5,568.2 1030.9,568.4 1031.3,568.8 1031.7,569.8 1032.1,571.9 1032.5,571.4 1032.9,572.7 1033.3,573.6 1033.7,573.5 1034.1,574.4 1034.5,574.4 1034.9,575.4 1035.3,576.7 1035.7,576.8 1036.1,575.9 1036.5,577.8 1036.9,576.5 1037.3,576.8 1037.7,578.2 1038.1,577.8 1038.5,577.6 1038.9,578.5 1039.3,577.8 1039.7,578.1 1040.1,577.7 1040.5,578.0 1040.9,578.1 1041.3,578.8 1041.7,578.0 1042.1,578.2 1042.5,577.3 1042.9,577.6 1043.3,578.9 1043.7,578.3 1044.1,578.4 1044.5,578.9 1044.9,578.5 1045.3,578.7 1045.7,578.6 1046.1,577.7 1046.5,579.0 1046.9,579.5 1047.3,579.3 1047.7,578.8 1048.1,578.9 1048.5,578.9 1048.9,579.5 1049.3,579.2 1049.7,578.4 1050.1,578.4 1050.5,578.3 1050.9,578.1 1051.3,577.9 1051.7,578.1 1052.1,576.8 1052.5,578.1 1052.9,577.5 1053.3,577.0 1053.7,577.4 1054.1,576.9 1054.5,577.7 1054.9,576.4 1055.3,576.8 1055.7,576.7 1056.1,575.9 1056.5,575.4 1056.9,575.8 1057.3,574.8 1057.7,573.7 1058.1,572.4 1058.5,572.4 1058.9,571.7 1059.3,569.4 1059.7,568.7 1060.1,567.8 1060.5,566.5 1060.9,564.5 1061.3,563.7 1061.7,562.1 1062.1,561.3 1062.5,558.6 1062.9,557.9 1063.3,557.4 1063.7,557.7 1064.1,558.0 1064.5,560.3 1064.9,562.8 1065.3,563.9 1065.7,566.3 1066.1,567.6 1066.5,569.5 1066.9,570.5 1067.3,571.4 1067.7,571.5 1068.1,572.2 1068.5,572.7 1068.9,573.8 1069.3,574.3 1069.7,575.9 1070.1,574.9 1070.5,576.1 1070.9,575.9 1071.3,576.3 1071.7,577.4 1072.1,577.4 1072.5,577.7 1072.9,577.0 1073.3,579.2 1073.7,579.0 1074.1,577.7 1074.5,577.5 1074.9,577.9 1075.3,578.4 1075.7,577.9 1076.1,578.6 1076.5,578.2 1076.9,580.0 1077.3,578.6 1077.7,578.5 1078.1,579.8 1078.5,579.0 1078.9,578.9 1079.3,578.9 1079.7,579.3 1080.1,578.9 1080.5,579.2 1080.9,578.9 1081.3,578.5 1081.7,579.1 1082.1,579.4 1082.5,580.1 1082.9,579.4 1083.3,579.2 1083.7,579.5 1084.1,579.7 1084.5,578.3 1084.9,579.2 1085.3,578.4 1085.7,578.6 1086.1,579.1 1086.5,579.4 1086.9,579.5 1087.3,579.6 1087.7,580.2 1088.1,579.7 1088.5,579.7 1088.9,579.3 1089.3,580.4 1089.7,580.1 1090.1,579.1 1090.5,579.1 1090.9,579.7 1091.3,579.8 1091.7,579.1 1092.1,579.8 1092.5,578.5 1092.9,579.0 1093.3,579.5 1093.7,578.7 1094.1,578.9 1094.5,578.8 1094.9,578.6 1095.3,577.7 1095.7,578.4 1096.1,578.5 1096.5,578.4 1096.9,578.6 1097.3,578.6 1097.7,577.8 1098.1,577.8 1098.5,578.6 1098.9,578.1 1099.3,577.5 1099.7,577.3 1100.1,577.8 1100.5,577.6 1100.9,576.9 1101.3,577.0 1101.7,576.6 1102.1,576.4 1102.5,577.2 1102.9,575.5 1103.3,576.3 1103.7,575.0 1104.1,574.9 1104.5,575.3 1104.9,573.7 1105.3,573.4 1105.7,572.7 1106.1,572.4 1106.5,572.2 1106.9,572.0 1107.3,570.3 1107.7,570.3 1108.1,568.4 1108.5,569.3 1108.9,567.1 1109.3,565.8 1109.7,564.6 1110.1,562.6 1110.5,560.3 1110.9,557.2 1111.3,556.2 1111.7,553.8 1112.1,551.0 1112.5,548.5 1112.9,547.4 1113.3,545.9 1113.7,542.4 1114.1,540.7 1114.5,539.5 1114.9,537.6 1115.3,537.0 1115.7,537.0 1116.1,538.5 1116.5,540.3 1116.9,542.9 1117.3,545.6 1117.7,547.6 1118.1,549.3 1118.5,552.6 1118.9,554.4 1119.3,556.0 1119.7,557.0 1120.1,559.9 1120.5,559.6 1120.9,562.3 1121.3,563.6 1121.7,565.1 1122.1,566.6 1122.5,567.3 1122.9,568.2 1123.3,568.9 1123.7,570.2 1124.1,570.7 1124.5,571.6 1124.9,571.3 1125.3,571.8 1125.7,573.3 1126.1,574.2 1126.5,573.8 1126.9,574.6 1127.3,575.5 1127.7,576.4 1128.1,576.9 1128.5,577.7 1128.9,577.5 1129.3,578.1 1129.7,578.8 1130.1,578.3 1130.5,579.8 1130.9,578.5 1131.3,578.8 1131.7,577.8 1132.1,578.7 1132.5,578.5 1132.9,578.4 1133.3,578.9 1133.7,578.2 1134.1,578.8 1134.5,577.7 1134.9,578.4 1135.3,579.4 1135.7,578.7 1136.1,579.0 1136.5,578.2 1136.9,577.9 1137.3,579.3 1137.7,579.1 1138.1,579.0 1138.5,578.5 1138.9,579.1 1139.3,578.3 1139.7,578.8 1140.1,578.7 1140.5,577.9 1140.9,579.1 1141.3,578.4 1141.7,578.7 1142.1,577.5 1142.5,577.6 1142.9,578.0 1143.3,578.4 1143.7,578.7 1144.1,578.3 1144.5,578.0 1144.9,578.3 1145.3,577.9 1145.7,578.0 1146.1,578.1 1146.5,577.5 1146.9,578.0 1147.3,577.0 1147.7,577.2 1148.1,577.9 1148.5,577.2 1148.9,577.6 1149.3,577.4 1149.7,577.1 1150.1,577.9 1150.5,577.2 1150.9,576.6 1151.3,576.5 1151.7,576.6 1152.1,575.7 1152.5,576.9 1152.9,576.0 1153.3,574.9 1153.7,574.8 1154.1,575.6 1154.5,574.4 1154.9,574.8 1155.3,573.0 1155.7,572.6 1156.1,572.6 1156.5,572.0 1156.9,569.8 1157.3,570.0 1157.7,568.4 1158.1,568.1 1158.5,567.0 1158.9,567.7 1159.3,566.4 1159.7,566.1 1160.1,567.0 1160.5,566.0 1160.9,565.1 1161.3,563.9 1161.7,564.7 1162.1,563.2 1162.5,563.8 1162.9,564.7 1163.3,565.1 1163.7,565.4 1164.1,566.4 1164.5,567.0 1164.9,567.5 1165.3,568.9 1165.7,570.8 1166.1,570.9 1166.5,572.1 1166.9,573.0 1167.3,572.7 1167.7,573.4 1168.1,573.6 1168.5,575.1 1168.9,575.2 1169.3,575.2 1169.7,575.6 1170.1,577.0 1170.5,577.4 1170.9,577.6 1171.3,577.6 1171.7,578.1 1172.1,577.9 1172.5,578.2 1172.9,577.8 1173.3,577.4 1173.7,577.5 1174.1,577.9 1174.5,578.5 1174.9,577.0 1175.3,576.7 1175.7,577.5 1176.1,577.3 1176.5,576.3 1176.9,576.2 1177.3,575.9 1177.7,576.2 1178.1,577.4 1178.5,575.2 1178.9,575.5 1179.3,574.9 1179.7,575.1 1180.1,575.1 1180.5,574.9 1180.9,574.1 1181.3,574.0 1181.7,575.0 1182.1,574.6 1182.5,574.6 1182.9,574.8 1183.3,574.2 1183.7,575.4 1184.1,574.5 1184.5,574.5 1184.9,574.7 1185.3,575.4 1185.7,577.0 1186.1,575.9 1186.5,576.2 1186.9,577.1 1187.3,576.4 1187.7,576.1 1188.1,576.7 1188.5,577.1 1188.9,576.7 1189.3,577.6 1189.7,578.0 1190.1,579.1 1190.5,578.7 1190.9,578.5 1191.3,578.3 1191.7,578.2 1192.1,577.7 1192.5,578.6 1192.9,577.5 1193.3,578.6 1193.7,579.4 1194.1,578.3 1194.5,578.7 1194.9,577.9 1195.3,577.3 1195.7,578.3 1196.1,577.9 1196.5,578.1 1196.9,577.8 1197.3,577.8 1197.7,577.1 1198.1,577.5 1198.5,577.5 1198.9,576.5 1199.3,576.4 1199.7,576.9 1200.1,576.4 1200.5,575.8 1200.9,574.7 1201.3,574.9 1201.7,575.3 1202.1,573.7 1202.5,573.2 1202.9,572.2 1203.3,571.8 1203.7,571.2 1204.1,570.6 1204.5,569.3 1204.9,568.4 1205.3,569.3 1205.7,567.6 1206.1,566.4 1206.5,566.1 1206.9,565.9 1207.3,565.8 1207.7,564.9 1208.1,564.2 1208.5,564.2 1208.9,562.9 1209.3,562.7 1209.7,563.4 1210.1,562.5 1210.5,562.0 1210.9,561.3 1211.3,560.7 1211.7,561.1 1212.1,560.7 1212.5,561.4 1212.9,559.8 1213.3,560.1 1213.7,559.8 1214.1,559.5 1214.5,560.9 1214.9,560.9 1215.3,560.7 1215.7,560.4 1216.1,562.0 1216.5,562.9 1216.9,563.2 1217.3,563.6 1217.7,566.3 1218.1,565.6 1218.5,567.8 1218.9,567.7 1219.3,568.6 1219.7,570.0 1220.1,569.4 1220.5,570.3 1220.9,570.9 1221.3,572.0 1221.7,572.4 1222.1,572.4 1222.5,572.1 1222.9,573.7 1223.3,573.2 1223.7,573.9 1224.1,573.0 1224.5,574.0 1224.9,574.4 1225.3,574.0 1225.7,574.2 1226.1,574.1 1226.5,573.7 1226.9,571.8 1227.3,570.5 1227.7,569.1 1228.1,569.2 1228.5,567.6 1228.9,567.6 1229.3,565.4 1229.7,566.2 1230.1,564.9 1230.5,563.3 1230.9,563.4 1231.3,562.6 1231.7,561.7 1232.1,560.4 1232.5,559.9 1232.9,559.0 1233.3,557.8 1233.7,557.3 1234.1,556.1 1234.5,556.8 1234.9,555.5 1235.3,556.1 1235.7,555.6 1236.1,556.7 1236.5,556.4 1236.9,555.8 1237.3,556.6 1237.7,556.4 1238.1,557.0 1238.5,556.8 1238.9,556.9 1239.3,556.9 1239.7,556.3 1240.1,557.6 1240.5,557.9 1240.9,557.2 1241.3,558.2 1241.7,558.8 1242.1,558.9 1242.5,559.3 1242.9,559.4 1243.3,559.3 1243.7,561.4 1244.1,561.2 1244.5,561.9 1244.9,564.0 1245.3,564.0 1245.7,565.9 1246.1,566.2 1246.5,568.3 1246.9,569.3 1247.3,569.3 1247.7,570.5 1248.1,571.3 1248.5,571.6 1248.9,572.7 1249.3,573.1 1249.7,573.6 1250.1,574.1 1250.5,575.4 1250.9,576.1 1251.3,576.8 1251.7,577.0 1252.1,577.5 1252.5,577.2 1252.9,578.4 1253.3,577.1 1253.7,577.8 1254.1,577.2 1254.5,576.9 1254.9,577.9 1255.3,576.8 1255.7,575.6 1256.1,576.0 1256.5,575.2 1256.9,576.0 1257.3,574.3 1257.7,574.3 1258.1,573.6 1258.5,573.3 1258.9,573.6 1259.3,573.5 1259.7,573.3 1260.1,572.5 1260.5,572.1 1260.9,572.5 1261.3,571.9 1261.7,572.8 1262.1,571.2 1262.5,572.0 1262.9,571.1 1263.3,571.1 1263.7,570.8 1264.1,570.8 1264.5,571.7 1264.9,571.0 1265.3,570.7 1265.7,570.5 1266.1,570.6 1266.5,570.7 1266.9,571.3 1267.3,570.7 1267.7,570.5 1268.1,570.3 1268.5,570.5 1268.9,569.5 1269.3,569.7 1269.7,568.4 1270.1,567.6 1270.5,567.5 1270.9,566.1 1271.3,564.9 1271.7,563.2 1272.1,562.7 1272.5,562.3 1272.9,560.3 1273.3,559.1 1273.7,557.7 1274.1,557.3 1274.5,555.4 1274.9,555.9 1275.3,553.2 1275.7,551.8 1276.1,551.1 1276.5,548.6 1276.9,547.5 1277.3,546.3 1277.7,545.5 1278.1,545.4 1278.5,543.2 1278.9,544.2 1279.3,542.9 1279.7,542.9 1280.1,542.1 1280.5,541.5 1280.9,542.4 1281.3,544.6 1281.7,545.0 1282.1,546.7 1282.5,548.0 1282.9,549.9 1283.3,550.9 1283.7,551.3 1284.1,551.8 1284.5,552.9 1284.9,552.5 1285.3,553.4 1285.7,553.7 1286.1,554.4 1286.5,554.6 1286.9,556.2 1287.3,555.9 1287.7,557.1 1288.1,556.1 1288.5,556.3 1288.9,555.4 1289.3,555.4 1289.7,554.5 1290.1,553.0 1290.5,552.2 1290.9,550.4 1291.3,549.1 1291.7,547.5 1292.1,547.0 1292.5,544.7 1292.9,543.1 1293.3,542.3 1293.7,539.6 1294.1,536.6 1294.5,534.2 1294.9,532.1 1295.3,529.4 1295.7,527.7 1296.1,525.2 1296.5,523.6 1296.9,522.9 1297.3,521.6 1297.7,519.7 1298.1,517.2 1298.5,516.2 1298.9,514.6 1299.3,514.7 1299.7,513.3 1300.1,513.2 1300.5,514.2 1300.9,514.5 1301.3,514.8 1301.7,515.3 1302.1,517.0 1302.5,518.1 1302.9,521.3 1303.3,522.1 1303.7,524.4 1304.1,526.0 1304.5,527.3 1304.9,529.5 1305.3,531.2 1305.7,532.8 1306.1,534.7 1306.5,536.9 1306.9,538.4 1307.3,540.9 1307.7,542.9 1308.1,544.9 1308.5,547.5 1308.9,548.4 1309.3,550.9 1309.7,553.3 1310.1,556.0 1310.5,557.3 1310.9,558.4 1311.3,561.3 1311.7,562.5 1312.1,563.8 1312.5,565.8 1312.9,568.3 1313.3,569.5 1313.7,570.1 1314.1,571.1 1314.5,573.0 1314.9,572.9 1315.3,573.9 1315.7,575.1 1316.1,574.7 1316.5,575.4 1316.9,576.5 1317.3,576.7 1317.7,578.0 1318.1,577.7 1318.5,578.4 1318.9,578.8 1319.3,578.5 1319.7,579.4 1320.1,579.9 1320.5,579.3 1320.9,579.2 1321.3,579.4 1321.7,580.2 1322.1,579.5 1322.5,579.2 1322.9,578.9 1323.3,579.5 1323.7,578.8 1324.1,579.9 1324.5,579.0 1324.9,578.8 1325.3,579.9 1325.7,579.6 1326.1,579.6 1326.5,578.9 1326.9,579.8 1327.3,579.5 1327.7,579.4 1328.1,579.8 1328.5,579.9 1328.9,579.3 1329.3,580.1 1329.7,579.5 1330.1,579.2 1330.5,579.6 1330.9,579.3 1331.3,580.0 1331.7,579.3 1332.1,579.1 1332.5,579.1 1332.9,579.5 1333.3,578.3 1333.7,578.4 1334.1,578.9 1334.5,579.3 1334.9,579.3 1335.3,578.9 1335.7,578.2 1336.1,577.9 1336.5,578.9 1336.9,578.7 1337.3,579.1 1337.7,579.4 1338.1,578.4 1338.5,579.5 1338.9,578.6 1339.3,578.7 1339.7,578.9 1340.1,577.8 1340.5,580.0 1340.9,578.6 1341.3,579.3 1341.7,578.4 1342.1,577.9 1342.5,578.2 1342.9,578.2 1343.3,577.8 1343.7,577.4 1344.1,579.1 1344.5,578.4 1344.9,578.8 1345.3,579.3 1345.7,578.4 1346.1,578.7 1346.5,579.2 1346.9,578.9 1347.3,578.8 1347.7,578.3 1348.1,578.3 1348.5,579.1 1348.9,578.6 1349.3,579.2 1349.7,579.1 1350.1,579.0 1350.5,579.2 1350.9,578.9 1351.3,579.4 1351.7,577.8 1352.1,578.5 1352.5,579.1 1352.9,579.7 1353.3,578.1 1353.7,578.7 1354.1,579.2 1354.5,579.6 1354.9,578.8 1355.3,578.0 1355.7,579.2 1356.1,579.4 1356.5,579.3 1356.9,579.3 1357.3,579.4 1357.7,578.7 1358.1,579.4 1358.5,579.6 1358.9,579.2 1359.3,578.8 1359.7,578.9 1360.1,579.6 1360.5,578.9 1360.9,579.9 1361.3,579.4 1361.7,579.2 1362.1,579.7 1362.5,579.3 1362.9,580.4 1363.3,580.1 1363.7,579.0 1364.1,579.2 1364.5,578.4 1364.9,579.8 1365.3,579.6 1365.7,579.5 1366.1,578.7 1366.5,580.2 1366.9,580.1 1367.3,579.2 1367.7,579.1 1368.1,579.2 1368.5,579.9 1368.9,579.6 1369.3,579.4 1369.7,579.3 1370.1,578.8 1370.5,579.1 1370.9,578.5 1371.3,579.8 1371.7,579.2 1372.1,579.1 1372.5,578.8 1372.9,578.4 1373.3,577.8 1373.7,578.2 1374.1,578.3 1374.5,578.1 1374.9,578.6 1375.3,578.5 1375.7,577.3 1376.1,577.2 1376.5,578.0 1376.9,576.2 1377.3,577.0 1377.7,577.3 1378.1,576.8 1378.5,576.3 1378.9,576.6 1379.3,575.8 1379.7,575.5 1380.1,575.8 1380.5,575.4 1380.9,575.6 1381.3,575.7 1381.7,575.6 1382.1,573.5 1382.5,574.7 1382.9,574.6 1383.3,574.6 1383.7,573.9 1384.1,573.7 1384.5,573.9 1384.9,573.2 1385.3,572.6 1385.7,573.6 1386.1,573.4 1386.5,572.3 1386.9,573.3 1387.3,572.1 1387.7,572.6 1388.1,571.6 1388.5,572.0 1388.9,571.5 1389.3,571.5 1389.7,571.8 1390.1,571.8 1390.5,570.9 1390.9,572.1 1391.3,570.8 1391.7,570.4 1392.1,571.0 1392.5,572.2 1392.9,571.0 1393.3,570.6 1393.7,571.0 1394.1,571.6 1394.5,571.7 1394.9,571.8 1395.3,572.2 1395.7,572.8 1396.1,571.9 1396.5,572.2 1396.9,572.1 1397.3,572.4 1397.7,572.9 1398.1,572.6 1398.5,572.0 1398.9,573.0 1399.3,573.4 1399.7,572.8 1400.1,573.8 1400.5,573.4 1400.9,572.2 1401.3,572.7 1401.7,572.4 1402.1,572.7 1402.5,572.5 1402.9,573.0 1403.3,573.2 1403.7,571.7 1404.1,573.0 1404.5,572.5 1404.9,572.9 1405.3,572.1 1405.7,571.0 1406.1,571.9 1406.5,572.0 1406.9,571.9 1407.3,571.6 1407.7,570.9 1408.1,570.9 1408.5,570.9 1408.9,570.7 1409.3,571.2 1409.7,571.4 1410.1,571.7 1410.5,571.6 1410.9,571.5 1411.3,572.0 1411.7,572.0 1412.1,571.7 1412.5,573.0 1412.9,572.8 1413.3,573.2 1413.7,574.2 1414.1,574.2 1414.5,574.6 1414.9,575.7 1415.3,575.6 1415.7,575.9 1416.1,575.8 1416.5,575.1 1416.9,575.1 1417.3,576.2 1417.7,578.1 1418.1,577.0 1418.5,577.1 1418.9,577.7 1419.3,578.0 1419.7,577.7 1420.1,577.8 1420.5,577.7 1420.9,577.3 1421.3,577.2 1421.7,576.3 1422.1,577.4 1422.5,577.4 1422.9,577.6 1423.3,578.0 1423.7,576.8 1424.1,576.9 1424.5,577.8 1424.9,576.6 1425.3,577.5 1425.7,577.5 1426.1,577.7 1426.5,577.0 1426.9,577.7 1427.3,576.8 1427.7,577.8 1428.1,577.4 1428.5,577.2 1428.9,577.5 1429.3,578.1 1429.7,576.9 1430.1,577.3 1430.5,576.8 1430.9,577.9 1431.3,577.8 1431.7,577.0 1432.1,577.3 1432.5,576.8 1432.9,577.4 1433.3,577.8 1433.7,576.9 1434.1,577.0 1434.5,576.0 1434.9,577.5 1435.3,575.9 1435.7,576.3 1436.1,575.9 1436.5,576.4 1436.9,575.5 1437.3,575.2 1437.7,574.5 1438.1,575.6 1438.5,573.9 1438.9,575.3 1439.3,575.0 1439.7,575.1 1440.1,573.6 1440.5,573.6 1440.9,573.9 1441.3,574.3 1441.7,573.2 1442.1,574.3 1442.5,573.1 1442.9,574.1 1443.3,573.7 1443.7,573.8 1444.1,573.7 1444.5,574.1 1444.9,572.8 1445.3,574.2 1445.7,573.4 1446.1,573.6 1446.5,573.3 1446.9,574.0 1447.3,573.9 1447.7,573.5 1448.1,573.2 1448.5,574.7 1448.9,573.6 1449.3,574.0 1449.7,573.6 1450.1,574.3 1450.5,574.4 1450.9,574.3 1451.3,574.6 1451.7,574.6 1452.1,572.7 1452.5,573.4 1452.9,573.1 1453.3,574.1 1453.7,573.9 1454.1,573.1 1454.5,574.6 1454.9,573.8 1455.3,574.5 1455.7,573.4 1456.1,574.0 1456.5,574.2 1456.9,573.2 1457.3,573.5 1457.7,573.2 1458.1,572.9 1458.5,573.1 1458.9,571.8 1459.3,573.0 1459.7,572.5 1460.1,571.7 1460.5,572.5 1460.9,571.0 1461.3,571.3 1461.7,572.4 1462.1,571.9 1462.5,571.2 1462.9,572.2 1463.3,571.2 1463.7,571.2 1464.1,571.3 1464.5,571.6 1464.9,571.5 1465.3,570.8 1465.7,571.1 1466.1,571.7 1466.5,572.1 1466.9,571.7 1467.3,572.1 1467.7,572.2 1468.1,571.4 1468.5,572.0 1468.9,573.3 1469.3,572.3 1469.7,572.9 1470.1,572.1 1470.5,574.5 1470.9,572.7 1471.3,573.6 1471.7,573.7 1472.1,572.9 1472.5,573.7 1472.9,574.6 1473.3,573.9 1473.7,574.8 1474.1,574.4 1474.5,575.3 1474.9,576.0 1475.3,574.5 1475.7,575.3 1476.1,574.9 1476.5,574.9 1476.9,575.5 1477.3,575.7 1477.7,575.9 1478.1,576.0 1478.5,574.7 1478.9,575.7 1479.3,574.9 1479.7,576.3 1480.1,576.6 1480.5,576.4 1480.9,576.1 1481.3,576.7 1481.7,577.0 1482.1,576.9 1482.5,576.5 1482.9,576.7 1483.3,577.6 1483.7,577.0 1484.1,577.2 1484.5,577.2 1484.9,577.6 1485.3,577.6 1485.7,577.3 1486.1,577.3 1486.5,577.4 1486.9,577.7 1487.3,578.0 1487.7,577.1 1488.1,578.7 1488.5,577.4 1488.9,578.1 1489.3,577.5 1489.7,577.9 1490.1,578.2 1490.5,578.5 1490.9,578.4 1491.3,578.8 1491.7,578.2 1492.1,579.3 1492.5,577.7 1492.9,578.7 1493.3,578.7 1493.7,578.4 1494.1,578.6 1494.5,578.2 1494.9,578.9 1495.3,578.5 1495.7,579.1 1496.1,578.9 1496.5,578.9 1496.9,578.8 1497.3,578.3 1497.7,579.1 1498.1,579.2 1498.5,578.6 1498.9,578.2 1499.3,578.4 1499.7,579.3 1500.1,577.9 1500.5,578.9 1500.9,578.6 1501.3,579.1 1501.7,578.0 1502.1,579.0 1502.5,578.2 1502.9,579.0 1503.3,579.6 1503.7,578.6 1504.1,579.7 1504.5,578.8 1504.9,579.1 1505.3,579.9 1505.7,579.3 1506.1,579.0 1506.5,577.6 1506.9,578.3 1507.3,578.9 1507.7,578.4 1508.1,578.3 1508.5,579.0 1508.9,578.0 1509.3,578.2 1509.7,579.1 1510.1,579.8 1510.5,578.4 1510.9,578.8 1511.3,579.0 1511.7,578.4 1512.1,578.3 1512.5,579.0 1512.9,578.2 1513.3,578.4 1513.7,579.7 1514.1,577.8 1514.5,579.7 1514.9,579.5 1515.3,578.4 1515.7,579.3 1516.1,578.8 1516.5,578.3 1516.9,578.5 1517.3,578.4 1517.7,579.5 1518.1,578.1 1518.5,578.1 1518.9,578.5 1519.3,578.4 1519.7,579.8 1520.1,578.5 1520.5,578.4 1520.9,578.3 1521.3,578.3 1521.7,577.7 1522.1,578.7 1522.5,578.3 1522.9,578.6 1523.3,579.3 1523.7,579.2 1524.1,579.1 1524.5,578.2 1524.9,578.7 1525.3,578.4 1525.7,578.5 1526.1,578.6 1526.5,578.4 1526.9,579.2 1527.3,578.3 1527.7,579.4 1528.1,578.9 1528.5,578.6 1528.9,578.9 1529.3,578.5 1529.7,578.5 1530.1,579.2 1530.5,578.6 1530.9,580.9 1531.3,578.1 1531.7,578.0 1532.1,579.4 1532.5,578.5 1532.9,578.4 1533.3,578.2 1533.7,578.6 1534.1,578.3 1534.5,579.1 1534.9,578.4 1535.3,578.7 1535.7,579.0 1536.1,578.8 1536.5,578.5 1536.9,578.2 1537.3,578.0 1537.7,577.9 1538.1,579.1 1538.5,578.4 1538.9,578.5 1539.3,578.8 1539.7,578.9 1540.1,579.3 1540.5,579.0 1540.9,578.7 1541.3,578.2 1541.7,579.0 1542.1,578.8 1542.5,578.8 1542.9,578.4 1543.3,579.0 1543.7,579.3 1544.1,578.8 1544.5,579.2 1544.9,578.9 1545.3,578.7 1545.7,579.6 1546.1,578.8 1546.5,579.1 1546.9,578.2 1547.3,579.4 1547.7,578.8 1548.1,578.9 1548.5,578.8 1548.9,579.2 1549.3,578.7 1549.7,578.5 1550.1,579.1 1550.5,579.2 1550.9,578.8 1551.3,579.5 1551.7,579.7 1552.1,578.8 1552.5,579.4 1552.9,579.4 1553.3,578.4 1553.7,578.6 1554.1,578.1 1554.5,579.9 1554.9,579.0 1555.3,579.0 1555.7,579.6 1556.1,580.1 1556.5,579.5 1556.9,580.1 1557.3,580.0 1557.7,581.2 1558.1,578.8 1558.5,579.1 1558.9,579.0 1559.3,579.7 1559.7,578.9 1560.1,579.8 1560.5,578.4 1560.9,579.9 1561.3,579.7 1561.7,580.2 1562.1,579.8 1562.5,579.5 1562.9,579.6 1563.3,578.4 1563.7,579.3 1564.1,579.5 1564.5,580.4 1564.9,579.5 1565.3,578.6 1565.7,580.6 1566.1,579.0 1566.5,579.5 1566.9,578.9 1567.3,577.6 1567.7,579.9 1568.1,579.2 1568.5,579.9 1568.9,579.1 1569.3,579.8 1569.7,580.3 1570.1,579.8 1570.5,579.4 1570.9,579.2 1571.3,579.4 1571.7,578.7 1572.1,579.4 1572.5,579.6 1572.9,578.5 1573.3,578.5 1573.7,580.1 1574.1,579.0 1574.5,579.9 1574.9,579.2 1575.3,579.2 1575.7,578.9 1576.1,579.6 1576.5,579.3 1576.9,578.5 1577.3,577.4 1577.7,577.7 1578.1,578.2 1578.5,577.7 1578.9,578.4 1579.3,578.2 1579.7,578.2 1580.1,578.1 1580.5,577.8 1580.9,577.9 1581.3,577.7 1581.7,577.0 1582.1,577.4 1582.5,577.4 1582.9,577.8 1583.3,577.0 1583.7,576.7 1584.1,578.1 1584.5,577.5 1584.9,577.6 1585.3,577.9 1585.7,576.8 1586.1,577.5 1586.5,577.1 1586.9,576.4 1587.3,577.1 1587.7,577.1 1588.1,577.3 1588.5,576.9 1588.9,577.0 1589.3,576.6 1589.7,577.6 1590.1,576.3 1590.5,577.4 1590.9,577.2 1591.3,577.3 1591.7,577.8 1592.1,577.6 1592.5,577.0 1592.9,577.0 1593.3,577.2 1593.7,577.9 1594.1,578.3 1594.5,578.4 1594.9,578.7 1595.3,579.0 1595.7,578.8 1596.1,578.4 1596.5,579.1 1596.9,579.1 1597.3,580.5 1597.7,580.3 1598.1,579.4 1598.5,580.0 1598.9,580.8 1599.3,580.4 1599.7,581.0 1600.1,580.7 1600.5,580.8 1600.9,581.1 1601.3,580.5 1601.7,580.6 1602.1,580.8 1602.5,581.6 1602.9,581.3 1603.3,580.5 1603.7,581.7 1604.1,581.5 1604.5,581.7 1604.9,581.4 1605.3,581.2 1605.7,580.2 1606.1,581.3 1606.5,580.2 1606.9,581.0 1607.3,582.0 1607.7,581.1 1608.1,581.1 1608.5,580.6 1608.9,581.0 1609.3,580.1 1609.7,580.6 1610.1,580.7 1610.5,580.4 1610.9,579.9 1611.3,579.1 1611.7,579.9 1612.1,579.7 1612.5,579.8 1612.9,580.2 1613.3,579.0 1613.7,580.2 1614.1,579.0 1614.5,580.9 1614.9,580.1 1615.3,579.7 1615.7,578.9 1616.1,579.3 1616.5,579.2 1616.9,578.7 1617.3,578.6 1617.7,579.4 1618.1,578.8 1618.5,579.7 1618.9,579.2 1619.3,578.5 1619.7,578.8 1620.1,578.5 1620.5,577.7 1620.9,578.5 1621.3,577.8 1621.7,578.9 1622.1,578.6 1622.5,576.8 1622.9,578.1 1623.3,577.5 1623.7,578.9 1624.1,577.9 1624.5,578.1 1624.9,578.3 1625.3,577.5 1625.7,578.1 1626.1,578.7 1626.5,577.8 1626.9,578.4 1627.3,578.1 1627.7,579.4 1628.1,579.4 1628.5,578.4 1628.9,578.4 1629.3,578.9 1629.7,578.7 1630.1,578.8 1630.5,578.6 1630.9,579.9 1631.3,580.3 1631.7,579.6 1632.1,578.6 1632.5,578.8 1632.9,579.9 1633.3,579.3 1633.7,579.6 1634.1,580.1 1634.5,580.0 1634.9,581.0 1635.3,579.8 1635.7,580.7 1636.1,580.1 1636.5,581.0 1636.9,580.0 1637.3,580.9 1637.7,581.8 1638.1,581.0 1638.5,581.6 1638.9,581.3 1639.3,581.8 1639.7,581.6 1640.1,582.2 1640.5,581.4 1640.9,582.0 1641.3,582.5 1641.7,581.8 1642.1,582.7 1642.5,582.8 1642.9,582.5 1643.3,581.4 1643.7,583.3 1644.1,581.8 1644.5,582.5 1644.9,582.7 1645.3,583.3 1645.7,582.5 1646.1,582.0 1646.5,582.7 1646.9,583.2 1647.3,581.8 1647.7,582.6 1648.1,582.2 1648.5,582.3 1648.9,582.0 1649.3,582.3 1649.7,582.3 1650.1,583.2 1650.5,580.9 1650.9,582.7 1651.3,581.8 1651.7,581.2 1652.1,580.9 1652.5,582.3 1652.9,580.6 1653.3,582.4 1653.7,580.6 1654.1,581.5 1654.5,580.7 1654.9,580.4 1655.3,580.7 1655.7,582.0 1656.1,581.0 1656.5,581.0 1656.9,581.3 1657.3,581.4 1657.7,580.2 1658.1,580.8 1658.5,580.6 1658.9,580.3 1659.3,579.3 1659.7,580.8 1660.1,580.6 1660.5,579.9 1660.9,582.0 1661.3,579.4 1661.7,579.8 1662.1,580.0 1662.5,579.3 1662.9,579.6 1663.3,580.4 1663.7,578.9 1664.1,578.3 1664.5,579.0 1664.9,578.7 1665.3,578.8 1665.7,578.7 1666.1,578.9 1666.5,580.1 1666.9,578.8 1667.3,579.8 1667.7,578.5 1668.1,578.2 1668.5,577.4 1668.9,578.4 1669.3,578.5 1669.7,579.6 1670.1,577.2 1670.5,577.7 1670.9,577.8 1671.3,577.8 1671.7,577.8 1672.1,577.4 1672.5,577.7 1672.9,577.2 1673.3,577.1 1673.7,577.7 1674.1,578.2 1674.5,577.2 1674.9,576.5 1675.3,577.2 1675.7,577.5 1676.1,577.4 1676.5,578.1 1676.9,576.9 1677.3,577.3 1677.7,577.1 1678.1,578.3 1678.5,577.6 1678.9,577.3 1679.3,577.0 1679.7,577.9 1680.1,576.7 1680.5,578.1 1680.9,578.0 1681.3,577.8 1681.7,577.6 1682.1,577.5 1682.5,578.0 1682.9,577.4 1683.3,578.1 1683.7,576.8 1684.1,578.3 1684.5,577.6 1684.9,578.3 1685.3,577.8 1685.7,577.4 1686.1,577.6 1686.5,577.4 1686.9,578.2 1687.3,577.0 1687.7,577.1 1688.1,578.3 1688.5,578.1 1688.9,577.4 1689.3,578.2 1689.7,577.3 1690.1,578.0 1690.5,577.3 1690.9,578.5 1691.3,578.1 1691.7,578.3 1692.1,577.1 1692.5,577.7 1692.9,577.5 1693.3,578.1 1693.7,578.4 1694.1,577.5 1694.5,578.2 1694.9,578.5 1695.3,578.8 1695.7,578.6 1696.1,578.9 1696.5,579.5 1696.9,578.0 1697.3,579.6 1697.7,578.3 1698.1,579.1 1698.5,578.8 1698.9,579.4 1699.3,579.2 1699.7,580.1 1700.1,578.7 1700.5,580.1 1700.9,579.9 1701.3,580.4 1701.7,579.6 1702.1,580.7 1702.5,580.2 1702.9,580.5 1703.3,580.3 1703.7,580.7"/>
<polyline fill="none" stroke="#31ad6b" stroke-width="4.5" stroke-linejoin="round" stroke-linecap="butt" shape-rendering="crispEdges" points="140.0,466.3 140.4,466.6 140.8,465.8 141.2,466.9 141.6,466.3 142.0,465.7 142.4,466.3 142.8,467.0 143.2,466.9 143.6,466.1 144.0,467.2 144.4,466.8 144.8,467.1 145.2,467.1 145.6,466.2 146.0,467.1 146.4,466.6 146.8,467.9 147.2,467.4 147.6,467.0 148.0,466.4 148.4,467.0 148.8,467.1 149.2,466.3 149.6,468.3 150.0,467.2 150.4,468.0 150.8,466.3 151.2,467.9 151.6,466.1 152.0,466.5 152.4,467.2 152.8,466.8 153.2,465.4 153.6,466.1 154.0,467.1 154.4,467.8 154.8,467.0 155.2,466.2 155.6,466.8 156.0,465.6 156.4,466.4 156.8,465.3 157.2,465.9 157.6,465.8 158.0,466.2 158.4,465.4 158.8,466.2 159.2,465.3 159.6,465.8 160.0,465.6 160.4,464.0 160.8,465.0 161.2,464.9 161.6,464.3 162.0,464.7 162.4,463.7 162.8,464.7 163.2,464.6 163.6,464.4 164.0,465.5 164.4,464.1 164.8,463.8 165.2,463.2 165.6,463.6 166.0,462.7 166.4,463.9 166.8,462.6 167.2,462.9 167.6,463.8 168.0,463.1 168.4,462.4 168.8,462.9 169.2,461.9 169.6,462.2 170.0,461.6 170.4,460.8 170.8,461.4 171.2,461.6 171.6,460.6 172.0,460.0 172.4,460.2 172.8,458.9 173.2,459.8 173.6,459.4 174.0,461.0 174.4,459.4 174.8,458.7 175.2,459.9 175.6,459.2 176.0,459.2 176.4,459.2 176.8,459.0 177.2,458.6 177.6,459.2 178.0,458.9 178.4,458.1 178.8,458.2 179.2,457.7 179.6,458.2 180.0,458.4 180.4,458.2 180.8,458.1 181.2,457.6 181.6,458.5 182.0,457.3 182.4,457.3 182.8,457.0 183.2,457.2 183.6,456.9 184.0,458.1 184.4,457.1 184.8,455.7 185.2,456.4 185.6,455.7 186.0,456.9 186.4,457.1 186.8,455.9 187.2,456.5 187.6,455.9 188.0,456.1 188.4,456.8 188.8,455.5 189.2,454.9 189.6,455.9 190.0,455.7 190.4,455.7 190.8,455.8 191.2,454.7 191.6,453.8 192.0,455.5 192.4,454.5 192.8,454.0 193.2,453.9 193.6,455.1 194.0,454.4 194.4,454.4 194.8,454.6 195.2,453.6 195.6,453.2 196.0,453.3 196.4,453.0 196.8,453.4 197.2,452.9 197.6,453.3 198.0,452.9 198.4,453.0 198.8,453.3 199.2,453.6 199.6,453.5 200.0,452.6 200.4,452.5 200.8,451.9 201.2,452.7 201.6,452.8 202.0,451.4 202.4,452.1 202.8,451.3 203.2,451.2 203.6,451.2 204.0,450.7 204.4,451.3 204.8,449.7 205.2,450.0 205.6,450.2 206.0,449.5 206.4,450.1 206.8,448.8 207.2,449.6 207.6,448.5 208.0,449.1 208.4,449.3 208.8,450.1 209.2,449.2 209.6,449.3 210.0,448.2 210.4,449.2 210.8,447.7 211.2,447.5 211.6,446.7 212.0,447.3 212.4,447.6 212.8,446.4 213.2,446.4 213.6,446.2 214.0,446.0 214.4,445.7 214.8,445.0 215.2,446.4 215.6,444.3 216.0,444.7 216.4,445.2 216.8,445.4 217.2,444.5 217.6,444.3 218.0,444.3 218.4,443.9 218.8,444.4 219.2,443.4 219.6,443.0 220.0,443.1 220.4,443.2 220.8,443.7 221.2,443.7 221.6,442.4 222.0,441.6 222.4,441.5 222.8,443.4 223.2,441.7 223.6,442.1 224.0,442.7 224.4,441.1 224.8,441.2 225.2,440.8 225.6,440.4 226.0,441.3 226.4,441.4 226.8,439.5 227.2,441.0 227.6,440.2 228.0,440.3 228.4,440.1 228.8,439.1 229.2,439.6 229.6,439.0 230.0,440.6 230.4,440.6 230.8,439.2 231.2,438.4 231.6,439.6 232.0,438.7 232.4,439.7 232.8,439.7 233.2,439.4 233.6,438.0 234.0,437.5 234.4,437.6 234.8,437.8 235.2,437.2 235.6,438.3 236.0,437.9 236.4,437.3 236.8,437.0 237.2,437.5 237.6,437.8 238.0,435.7 238.4,436.9 238.8,436.4 239.2,436.1 239.6,436.2 240.0,436.3 240.4,437.2 240.8,436.0 241.2,435.6 241.6,435.0 242.0,436.1 242.4,435.1 242.8,435.3 243.2,435.7 243.6,435.2 244.0,434.8 244.4,434.8 244.8,435.3 245.2,434.7 245.6,434.7 246.0,434.7 246.4,434.1 246.8,434.4 247.2,433.9 247.6,434.6 248.0,434.1 248.4,432.7 248.8,433.5 249.2,434.1 249.6,433.2 250.0,433.0 250.4,433.7 250.8,432.4 251.2,432.9 251.6,433.1 252.0,433.2 252.4,431.9 252.8,431.7 253.2,433.2 253.6,431.8 254.0,432.0 254.4,433.4 254.8,431.6 255.2,430.5 255.6,433.3 256.0,432.1 256.4,431.6 256.8,432.9 257.2,431.2 257.6,431.9 258.0,431.0 258.4,430.7 258.8,431.1 259.2,431.2 259.6,431.3 260.0,431.2 260.4,430.1 260.8,430.2 261.2,431.3 261.6,430.4 262.0,430.0 262.4,430.6 262.8,430.5 263.2,430.3 263.6,429.2 264.0,429.2 264.4,429.7 264.8,429.9 265.2,428.4 265.6,428.7 266.0,428.7 266.4,429.3 266.8,428.0 267.2,430.1 267.6,428.5 268.0,428.7 268.4,429.5 268.8,428.4 269.2,428.4 269.6,427.7 270.0,428.0 270.4,427.0 270.8,427.5 271.2,427.4 271.6,426.7 272.0,427.7 272.4,427.3 272.8,425.8 273.2,427.3 273.6,426.1 274.0,426.9 274.4,426.0 274.8,426.1 275.2,426.4 275.6,427.2 276.0,425.1 276.4,425.6 276.8,425.5 277.2,426.2 277.6,425.3 278.0,425.5 278.4,425.9 278.8,425.5 279.2,424.6 279.6,424.5 280.0,424.5 280.4,424.6 280.8,423.8 281.2,424.2 281.6,424.4 282.0,423.7 282.4,423.5 282.8,423.8 283.2,424.0 283.6,422.6 284.0,422.6 284.4,423.8 284.8,422.9 285.2,422.1 285.6,422.7 286.0,423.4 286.4,422.0 286.8,421.6 287.2,421.9 287.6,422.8 288.0,421.4 288.4,421.9 288.8,422.1 289.2,421.7 289.6,421.0 290.0,421.4 290.4,421.0 290.8,421.2 291.2,420.8 291.6,420.5 292.0,419.3 292.4,420.5 292.8,420.0 293.2,418.7 293.6,419.7 294.0,419.8 294.4,419.4 294.8,417.9 295.2,418.7 295.6,418.5 296.0,418.7 296.4,417.4 296.8,418.8 297.2,418.8 297.6,418.7 298.0,418.1 298.4,418.0 298.8,418.5 299.2,418.0 299.6,417.4 300.0,417.7 300.4,417.8 300.8,417.9 301.2,417.4 301.6,416.5 302.0,416.6 302.4,416.8 302.8,416.8 303.2,417.0 303.6,415.2 304.0,415.8 304.4,415.4 304.8,416.6 305.2,416.2 305.6,415.9 306.0,416.0 306.4,415.1 306.8,415.6 307.2,415.2 307.6,415.1 308.0,414.8 308.4,415.3 308.8,415.3 309.2,413.7 309.6,414.1 310.0,414.3 310.4,414.5 310.8,413.1 311.2,413.4 311.6,413.6 312.0,414.6 312.4,413.0 312.8,413.2 313.2,413.2 313.6,413.1 314.0,413.1 314.4,412.9 314.8,412.6 315.2,412.8 315.6,412.7 316.0,412.6 316.4,412.5 316.8,411.4 317.2,412.1 317.6,412.0 318.0,412.2 318.4,412.0 318.8,412.4 319.2,410.9 319.6,411.2 320.0,411.2 320.4,410.6 320.8,410.7 321.2,410.5 321.6,410.3 322.0,411.8 322.4,410.3 322.8,411.1 323.2,409.6 323.6,410.1 324.0,409.5 324.4,409.9 324.8,410.5 325.2,410.6 325.6,409.8 326.0,409.5 326.4,409.1 326.8,409.2 327.2,409.6 327.6,407.7 328.0,408.4 328.4,407.9 328.8,408.9 329.2,407.5 329.6,408.5 330.0,407.2 330.4,407.2 330.8,408.5 331.2,408.1 331.6,406.9 332.0,406.3 332.4,406.6 332.8,407.4 333.2,406.9 333.6,406.2 334.0,406.9 334.4,407.3 334.8,405.7 335.2,406.2 335.6,405.7 336.0,406.6 336.4,405.9 336.8,405.4 337.2,404.7 337.6,405.9 338.0,405.2 338.4,405.3 338.8,405.0 339.2,405.2 339.6,403.8 340.0,404.2 340.4,404.8 340.8,405.5 341.2,404.5 341.6,404.1 342.0,403.7 342.4,403.5 342.8,403.6 343.2,403.2 343.6,403.6 344.0,403.4 344.4,404.4 344.8,403.0 345.2,403.6 345.6,402.6 346.0,403.2 346.4,403.9 346.8,402.1 347.2,401.6 347.6,402.7 348.0,402.0 348.4,401.7 348.8,402.0 349.2,401.7 349.6,402.1 350.0,401.5 350.4,400.8 350.8,400.3 351.2,399.8 351.6,400.1 352.0,401.2 352.4,399.5 352.8,400.2 353.2,400.8 353.6,400.2 354.0,400.6 354.4,400.0 354.8,400.3 355.2,398.9 355.6,398.6 356.0,400.0 356.4,398.9 356.8,398.6 357.2,398.1 357.6,399.1 358.0,398.3 358.4,398.2 358.8,397.3 359.2,397.6 359.6,397.1 360.0,397.1 360.4,397.2 360.8,396.6 361.2,396.2 361.6,396.9 362.0,395.7 362.4,397.0 362.8,396.9 363.2,395.0 363.6,396.6 364.0,395.0 364.4,396.0 364.8,394.8 365.2,395.4 365.6,394.2 366.0,395.0 366.4,394.5 366.8,395.2 367.2,394.6 367.6,393.4 368.0,394.0 368.4,393.2 368.8,393.6 369.2,394.2 369.6,394.1 370.0,393.1 370.4,392.4 370.8,392.8 371.2,393.8 371.6,392.3 372.0,391.4 372.4,391.3 372.8,391.3 373.2,392.5 373.6,391.5 374.0,391.2 374.4,391.7 374.8,391.9 375.2,391.1 375.6,390.6 376.0,391.1 376.4,391.3 376.8,389.8 377.2,389.8 377.6,391.7 378.0,390.7 378.4,390.5 378.8,389.4 379.2,389.6 379.6,389.9 380.0,390.6 380.4,389.9 380.8,388.8 381.2,390.5 381.6,390.4 382.0,389.9 382.4,388.7 382.8,388.8 383.2,388.9 383.6,389.0 384.0,389.9 384.4,388.0 384.8,388.2 385.2,388.5 385.6,388.1 386.0,388.0 386.4,387.3 386.8,388.1 387.2,387.8 387.6,387.9 388.0,388.3 388.4,387.5 388.8,387.4 389.2,387.5 389.6,387.0 390.0,387.3 390.4,386.0 390.8,386.4 391.2,387.1 391.6,386.8 392.0,387.1 392.4,385.7 392.8,386.1 393.2,386.2 393.6,386.1 394.0,385.9 394.4,386.7 394.8,385.5 395.2,385.5 395.6,385.8 396.0,385.7 396.4,385.4 396.8,386.2 397.2,385.4 397.6,384.8 398.0,384.3 398.4,385.4 398.8,384.3 399.2,384.7 399.6,384.1 400.0,385.5 400.4,384.5 400.8,383.0 401.2,384.1 401.6,383.0 402.0,383.3 402.4,384.0 402.8,382.7 403.2,383.5 403.6,383.1 404.0,383.5 404.4,382.4 404.8,383.2 405.2,382.5 405.6,383.2 406.0,382.5 406.4,382.8 406.8,383.1 407.2,382.8 407.6,382.0 408.0,382.3 408.4,381.8 408.8,382.0 409.2,382.5 409.6,381.0 410.0,380.7 410.4,381.5 410.8,380.8 411.2,381.7 411.6,381.4 412.0,381.1 412.4,380.7 412.8,380.3 413.2,379.9 413.6,380.0 414.0,380.2 414.4,379.5 414.8,380.5 415.2,380.2 415.6,378.9 416.0,378.0 416.4,380.1 416.8,378.6 417.2,377.5 417.6,378.1 418.0,379.0 418.4,379.5 418.8,379.2 419.2,379.3 419.6,379.4 420.0,379.3 420.4,377.5 420.8,377.8 421.2,377.4 421.6,377.7 422.0,377.3 422.4,377.5 422.8,378.2 423.2,376.6 423.6,377.3 424.0,376.1 424.4,375.8 424.8,376.9 425.2,376.1 425.6,376.0 426.0,376.6 426.4,374.8 426.8,375.4 427.2,375.9 427.6,374.2 428.0,374.7 428.4,374.8 428.8,374.6 429.2,374.1 429.6,374.0 430.0,373.5 430.4,373.4 430.8,372.9 431.2,371.9 431.6,372.2 432.0,371.8 432.4,372.3 432.8,371.7 433.2,371.5 433.6,371.1 434.0,371.2 434.4,370.4 434.8,370.7 435.2,370.1 435.6,370.1 436.0,369.6 436.4,371.4 436.8,370.4 437.2,369.4 437.6,369.6 438.0,369.9 438.4,369.4 438.8,370.0 439.2,369.8 439.6,370.2 440.0,367.9 440.4,370.0 440.8,369.7 441.2,370.3 441.6,369.5 442.0,369.5 442.4,369.5 442.8,370.6 443.2,370.6 443.6,369.7 444.0,370.6 444.4,371.1 444.8,370.6 445.2,371.2 445.6,371.5 446.0,371.4 446.4,370.9 446.8,372.6 447.2,372.1 447.6,372.2 448.0,371.7 448.4,372.1 448.8,371.6 449.2,371.9 449.6,372.0 450.0,372.2 450.4,371.5 450.8,371.3 451.2,372.4 451.6,370.8 452.0,371.7 452.4,371.4 452.8,371.8 453.2,371.1 453.6,370.6 454.0,371.2 454.4,370.3 454.8,370.3 455.2,370.8 455.6,370.8 456.0,369.8 456.4,371.3 456.8,370.5 457.2,371.1 457.6,370.9 458.0,370.3 458.4,369.9 458.8,369.2 459.2,370.5 459.6,370.8 460.0,369.9 460.4,369.8 460.8,369.2 461.2,369.1 461.6,369.5 462.0,370.2 462.4,369.4 462.8,370.0 463.2,369.7 463.6,369.4 464.0,368.9 464.4,369.1 464.8,368.6 465.2,369.8 465.6,369.6 466.0,368.7 466.4,368.8 466.8,368.4 467.2,369.2 467.6,369.5 468.0,368.6 468.4,368.8 468.8,369.2 469.2,368.1 469.6,369.1 470.0,369.8 470.4,369.9 470.8,368.8 471.2,368.8 471.6,369.3 472.0,369.2 472.4,369.6 472.8,368.9 473.2,368.9 473.6,368.9 474.0,369.7 474.4,368.2 474.8,369.4 475.2,368.8 475.6,368.8 476.0,368.2 476.4,368.6 476.8,368.1 477.2,367.1 477.6,368.7 478.0,367.8 478.4,368.6 478.8,367.8 479.2,368.3 479.6,368.2 480.0,367.5 480.4,368.5 480.8,368.1 481.2,367.1 481.6,369.4 482.0,368.7 482.4,368.6 482.8,368.4 483.2,368.8 483.6,368.1 484.0,368.8 484.4,368.9 484.8,368.1 485.2,368.4 485.6,368.4 486.0,367.5 486.4,368.5 486.8,368.3 487.2,369.0 487.6,368.4 488.0,367.8 488.4,368.4 488.8,368.1 489.2,367.1 489.6,368.3 490.0,367.8 490.4,369.3 490.8,368.8 491.2,369.2 491.6,368.9 492.0,368.7 492.4,369.3 492.8,368.1 493.2,369.5 493.6,369.1 494.0,368.1 494.4,369.2 494.8,369.7 495.2,369.2 495.6,370.3 496.0,370.3 496.4,369.3 496.8,369.3 497.2,369.7 497.6,369.6 498.0,370.3 498.4,370.6 498.8,370.4 499.2,370.4 499.6,370.0 500.0,370.0 500.4,369.6 500.8,371.4 501.2,370.6 501.6,370.4 502.0,369.7 502.4,369.2 502.8,369.6 503.2,369.8 503.6,369.8 504.0,370.4 504.4,369.8 504.8,370.4 505.2,370.3 505.6,370.4 506.0,369.9 506.4,370.4 506.8,370.0 507.2,370.1 507.6,369.8 508.0,369.8 508.4,370.0 508.8,370.3 509.2,369.5 509.6,369.7 510.0,369.9 510.4,370.5 510.8,369.8 511.2,370.1 511.6,370.3 512.0,369.8 512.4,370.6 512.8,369.1 513.2,368.9 513.6,369.0 514.0,369.1 514.4,369.2 514.8,369.4 515.2,369.7 515.6,369.1 516.0,368.7 516.4,369.0 516.8,368.0 517.2,367.6 517.6,366.5 518.0,365.2 518.4,365.0 518.8,364.0 519.2,363.2 519.6,361.8 520.0,360.1 520.4,359.9 520.8,355.3 521.2,350.7 521.6,346.7 522.0,342.0 522.4,338.4 522.8,334.8 523.2,333.8 523.6,334.5 524.0,336.8 524.4,338.6 524.8,343.5 525.2,346.8 525.6,352.2 526.0,354.9 526.4,357.8 526.8,360.2 527.2,360.9 527.6,361.8 528.0,363.1 528.4,363.3 528.8,364.0 529.2,365.6 529.6,365.4 530.0,366.4 530.4,366.0 530.8,367.2 531.2,367.3 531.6,368.0 532.0,369.2 532.4,366.9 532.8,367.4 533.2,367.8 533.6,368.0 534.0,367.0 534.4,367.7 534.8,367.1 535.2,367.5 535.6,366.7 536.0,368.7 536.4,366.9 536.8,367.0 537.2,365.0 537.6,365.5 538.0,365.6 538.4,366.3 538.8,364.5 539.2,364.4 539.6,362.3 540.0,360.9 540.4,357.5 540.8,354.6 541.2,352.0 541.6,349.3 542.0,345.4 542.4,340.5 542.8,335.4 543.2,330.5 543.6,318.9 544.0,306.1 544.4,295.3 544.8,288.4 545.2,289.5 545.6,295.5 546.0,306.4 546.4,318.8 546.8,328.9 547.2,336.9 547.6,340.1 548.0,344.9 548.4,348.1 548.8,351.7 549.2,354.1 549.6,358.2 550.0,361.8 550.4,363.5 550.8,364.2 551.2,365.7 551.6,365.1 552.0,365.5 552.4,367.4 552.8,366.9 553.2,369.0 553.6,369.0 554.0,368.0 554.4,368.9 554.8,369.3 555.2,370.3 555.6,370.0 556.0,370.5 556.4,369.9 556.8,371.9 557.2,371.7 557.6,371.5 558.0,370.7 558.4,371.8 558.8,373.6 559.2,372.1 559.6,372.7 560.0,370.8 560.4,371.8 560.8,371.9 561.2,372.7 561.6,371.5 562.0,372.6 562.4,372.7 562.8,372.2 563.2,372.0 563.6,372.4 564.0,371.5 564.4,371.2 564.8,371.2 565.2,372.3 565.6,372.0 566.0,372.1 566.4,371.9 566.8,372.1 567.2,373.3 567.6,372.0 568.0,371.7 568.4,371.5 568.8,371.7 569.2,372.6 569.6,372.1 570.0,372.0 570.4,372.1 570.8,371.4 571.2,371.7 571.6,372.0 572.0,372.0 572.4,372.4 572.8,372.8 573.2,371.9 573.6,372.5 574.0,372.5 574.4,371.9 574.8,372.6 575.2,372.8 575.6,371.4 576.0,372.5 576.4,372.5 576.8,372.5 577.2,371.4 577.6,372.9 578.0,372.2 578.4,371.9 578.8,371.4 579.2,372.6 579.6,372.2 580.0,371.6 580.4,373.3 580.8,371.6 581.2,372.8 581.6,371.8 582.0,372.3 582.4,372.8 582.8,372.3 583.2,372.7 583.6,372.4 584.0,373.3 584.4,372.9 584.8,372.8 585.2,372.1 585.6,372.3 586.0,372.7 586.4,373.5 586.8,373.4 587.2,372.7 587.6,373.3 588.0,372.7 588.4,372.8 588.8,372.7 589.2,372.5 589.6,373.0 590.0,374.5 590.4,372.6 590.8,373.5 591.2,373.3 591.6,372.9 592.0,373.3 592.4,372.6 592.8,373.0 593.2,373.8 593.6,373.9 594.0,373.0 594.4,372.9 594.8,372.3 595.2,373.5 595.6,372.8 596.0,372.6 596.4,373.3 596.8,373.2 597.2,372.4 597.6,373.9 598.0,372.3 598.4,372.3 598.8,373.9 599.2,373.2 599.6,372.4 600.0,374.0 600.4,373.9 600.8,373.3 601.2,373.4 601.6,373.6 602.0,374.0 602.4,373.4 602.8,372.9 603.2,373.5 603.6,373.3 604.0,372.6 604.4,373.3 604.8,373.0 605.2,373.7 605.6,374.3 606.0,373.9 606.4,375.3 606.8,373.9 607.2,373.8 607.6,373.2 608.0,374.2 608.4,373.9 608.8,372.8 609.2,373.4 609.6,374.1 610.0,373.5 610.4,374.0 610.8,373.9 611.2,374.9 611.6,372.9 612.0,373.6 612.4,373.0 612.8,373.2 613.2,374.9 613.6,374.3 614.0,374.1 614.4,373.7 614.8,373.7 615.2,374.9 615.6,373.1 616.0,374.4 616.4,374.3 616.8,373.1 617.2,373.8 617.6,373.2 618.0,373.7 618.4,374.1 618.8,373.8 619.2,374.3 619.6,374.0 620.0,372.3 620.4,374.0 620.8,372.8 621.2,371.8 621.6,373.3 622.0,373.2 622.4,374.7 622.8,374.1 623.2,373.9 623.6,373.4 624.0,373.9 624.4,373.0 624.8,374.0 625.2,373.1 625.6,373.2 626.0,373.4 626.4,372.8 626.8,375.0 627.2,373.3 627.6,372.9 628.0,372.6 628.4,372.7 628.8,373.1 629.2,373.4 629.6,372.2 630.0,372.7 630.4,374.0 630.8,373.1 631.2,372.9 631.6,372.6 632.0,372.7 632.4,372.8 632.8,373.5 633.2,373.4 633.6,372.2 634.0,371.9 634.4,372.6 634.8,371.9 635.2,372.6 635.6,372.6 636.0,371.4 636.4,370.5 636.8,370.7 637.2,371.3 637.6,370.5 638.0,371.2 638.4,370.8 638.8,370.3 639.2,369.7 639.6,368.9 640.0,369.1 640.4,367.0 640.8,367.7 641.2,368.1 641.6,366.7 642.0,365.2 642.4,364.3 642.8,363.9 643.2,362.8 643.6,363.0 644.0,360.9 644.4,360.4 644.8,359.0 645.2,359.1 645.6,356.8 646.0,357.0 646.4,355.6 646.8,353.4 647.2,353.3 647.6,351.9 648.0,351.0 648.4,350.1 648.8,349.8 649.2,350.0 649.6,350.3 650.0,351.8 650.4,351.8 650.8,354.4 651.2,354.2 651.6,355.6 652.0,355.5 652.4,357.7 652.8,357.4 653.2,359.1 653.6,359.5 654.0,360.3 654.4,359.7 654.8,360.3 655.2,362.0 655.6,362.2 656.0,362.1 656.4,363.3 656.8,363.6 657.2,363.7 657.6,365.7 658.0,363.6 658.4,365.3 658.8,366.4 659.2,366.5 659.6,367.8 660.0,367.3 660.4,367.5 660.8,367.1 661.2,368.6 661.6,367.5 662.0,367.8 662.4,367.8 662.8,368.4 663.2,367.6 663.6,367.8 664.0,367.4 664.4,366.5 664.8,366.9 665.2,368.3 665.6,366.6 666.0,366.6 666.4,367.7 666.8,365.4 667.2,365.8 667.6,365.7 668.0,364.0 668.4,365.1 668.8,364.2 669.2,362.4 669.6,362.3 670.0,360.5 670.4,361.6 670.8,359.9 671.2,357.2 671.6,355.2 672.0,354.1 672.4,351.4 672.8,350.1 673.2,347.8 673.6,346.3 674.0,343.9 674.4,340.6 674.8,337.4 675.2,333.4 675.6,331.6 676.0,329.6 676.4,329.6 676.8,332.0 677.2,334.0 677.6,336.8 678.0,340.7 678.4,341.6 678.8,342.3 679.2,340.3 679.6,335.6 680.0,331.5 680.4,326.6 680.8,322.1 681.2,317.3 681.6,312.5 682.0,309.8 682.4,304.4 682.8,298.4 683.2,294.8 683.6,289.1 684.0,284.7 684.4,280.8 684.8,277.1 685.2,274.4 685.6,272.4 686.0,271.4 686.4,270.5 686.8,274.9 687.2,282.8 687.6,290.6 688.0,301.3 688.4,309.6 688.8,315.3 689.2,322.4 689.6,328.0 690.0,334.0 690.4,339.9 690.8,343.7 691.2,346.9 691.6,350.1 692.0,352.1 692.4,355.5 692.8,356.7 693.2,358.6 693.6,360.2 694.0,362.7 694.4,363.7 694.8,365.2 695.2,365.9 695.6,366.1 696.0,366.7 696.4,368.3 696.8,367.9 697.2,368.8 697.6,368.1 698.0,368.9 698.4,369.0 698.8,369.1 699.2,370.2 699.6,370.6 700.0,370.1 700.4,371.7 700.8,370.6 701.2,369.7 701.6,371.0 702.0,370.0 702.4,370.5 702.8,370.8 703.2,371.1 703.6,370.6 704.0,369.6 704.4,370.4 704.8,369.4 705.2,369.6 705.6,369.1 706.0,367.8 706.4,366.7 706.8,366.9 707.2,365.8 707.6,365.0 708.0,364.3 708.4,362.8 708.8,361.8 709.2,360.4 709.6,358.1 710.0,354.2 710.4,350.4 710.8,345.4 711.2,339.7 711.6,332.8 712.0,326.3 712.4,320.1 712.8,313.4 713.2,307.0 713.6,296.5 714.0,282.8 714.4,271.1 714.8,259.9 715.2,250.8 715.6,246.5 716.0,247.9 716.4,258.9 716.8,275.2 717.2,292.7 717.6,306.4 718.0,315.2 718.4,320.1 718.8,325.7 719.2,330.6 719.6,334.6 720.0,339.3 720.4,342.1 720.8,345.0 721.2,349.2 721.6,350.4 722.0,352.2 722.4,352.9 722.8,355.9 723.2,358.3 723.6,358.2 724.0,358.5 724.4,358.7 724.8,357.3 725.2,355.3 725.6,352.1 726.0,348.3 726.4,344.3 726.8,341.1 727.2,337.1 727.6,333.1 728.0,328.6 728.4,323.8 728.8,318.9 729.2,311.5 729.6,306.4 730.0,301.7 730.4,298.6 730.8,301.1 731.2,305.1 731.6,314.0 732.0,321.1 732.4,328.6 732.8,334.4 733.2,338.0 733.6,341.2 734.0,344.5 734.4,348.3 734.8,350.6 735.2,353.4 735.6,355.2 736.0,357.4 736.4,358.2 736.8,360.5 737.2,359.8 737.6,359.9 738.0,360.7 738.4,361.3 738.8,362.1 739.2,363.4 739.6,361.8 740.0,362.7 740.4,361.4 740.8,362.1 741.2,360.9 741.6,360.8 742.0,358.6 742.4,358.2 742.8,357.2 743.2,355.5 743.6,354.7 744.0,353.4 744.4,352.5 744.8,351.9 745.2,350.7 745.6,351.1 746.0,349.7 746.4,348.5 746.8,348.4 747.2,348.2 747.6,347.8 748.0,349.1 748.4,349.3 748.8,350.9 749.2,353.7 749.6,353.9 750.0,356.0 750.4,357.7 750.8,358.2 751.2,359.6 751.6,360.8 752.0,361.8 752.4,361.0 752.8,362.2 753.2,362.2 753.6,362.5 754.0,362.5 754.4,363.7 754.8,362.6 755.2,364.4 755.6,364.4 756.0,364.6 756.4,364.3 756.8,363.7 757.2,362.8 757.6,362.4 758.0,360.6 758.4,358.0 758.8,354.6 759.2,352.6 759.6,350.4 760.0,345.8 760.4,342.3 760.8,338.2 761.2,334.5 761.6,328.2 762.0,324.7 762.4,323.0 762.8,324.1 763.2,329.3 763.6,335.3 764.0,341.9 764.4,348.3 764.8,351.3 765.2,355.0 765.6,356.8 766.0,359.3 766.4,360.2 766.8,362.1 767.2,363.7 767.6,364.8 768.0,365.0 768.4,367.2 768.8,367.7 769.2,369.2 769.6,369.5 770.0,369.1 770.4,370.2 770.8,369.9 771.2,371.7 771.6,371.3 772.0,371.0 772.4,370.8 772.8,372.7 773.2,372.8 773.6,372.0 774.0,373.8 774.4,372.1 774.8,373.3 775.2,371.8 775.6,372.2 776.0,371.6 776.4,372.9 776.8,372.0 777.2,371.3 777.6,371.1 778.0,370.6 778.4,370.3 778.8,369.1 779.2,369.8 779.6,370.0 780.0,368.4 780.4,367.7 780.8,367.2 781.2,367.1 781.6,367.6 782.0,366.6 782.4,364.8 782.8,365.5 783.2,363.6 783.6,363.3 784.0,361.8 784.4,360.6 784.8,360.6 785.2,359.7 785.6,359.7 786.0,359.3 786.4,358.6 786.8,359.9 787.2,360.0 787.6,361.4 788.0,362.7 788.4,363.6 788.8,364.9 789.2,366.5 789.6,366.2 790.0,366.7 790.4,366.9 790.8,368.4 791.2,367.6 791.6,368.7 792.0,369.4 792.4,368.3 792.8,369.9 793.2,368.7 793.6,369.8 794.0,369.6 794.4,368.8 794.8,369.8 795.2,370.8 795.6,369.8 796.0,369.3 796.4,370.5 796.8,370.4 797.2,369.1 797.6,369.5 798.0,368.4 798.4,367.9 798.8,368.8 799.2,368.3 799.6,368.3 800.0,367.4 800.4,366.4 800.8,366.8 801.2,365.2 801.6,365.1 802.0,365.2 802.4,364.6 802.8,364.5 803.2,363.9 803.6,364.7 804.0,364.8 804.4,364.5 804.8,364.9 805.2,364.4 805.6,364.5 806.0,363.8 806.4,365.3 806.8,365.1 807.2,367.4 807.6,367.7 808.0,368.3 808.4,368.8 808.8,369.3 809.2,370.0 809.6,370.3 810.0,371.0 810.4,370.4 810.8,371.2 811.2,372.7 811.6,371.0 812.0,372.2 812.4,372.1 812.8,373.3 813.2,373.8 813.6,373.4 814.0,373.5 814.4,374.0 814.8,374.8 815.2,374.0 815.6,374.5 816.0,375.4 816.4,374.3 816.8,374.2 817.2,375.4 817.6,375.7 818.0,375.3 818.4,375.9 818.8,373.6 819.2,373.3 819.6,373.2 820.0,370.8 820.4,371.0 820.8,371.6 821.2,370.2 821.6,367.8 822.0,368.6 822.4,367.2 822.8,365.4 823.2,363.7 823.6,362.7 824.0,361.0 824.4,358.2 824.8,356.0 825.2,355.6 825.6,355.3 826.0,355.0 826.4,356.7 826.8,359.2 827.2,362.7 827.6,364.2 828.0,367.1 828.4,369.2 828.8,369.5 829.2,370.2 829.6,370.9 830.0,371.8 830.4,372.0 830.8,374.1 831.2,373.8 831.6,374.6 832.0,373.8 832.4,374.2 832.8,374.4 833.2,374.8 833.6,376.0 834.0,376.5 834.4,376.7 834.8,376.7 835.2,375.1 835.6,376.1 836.0,376.7 836.4,377.0 836.8,376.6 837.2,377.0 837.6,376.8 838.0,376.8 838.4,377.3 838.8,376.6 839.2,376.8 839.6,377.4 840.0,377.5 840.4,377.4 840.8,377.9 841.2,377.2 841.6,377.7 842.0,378.3 842.4,377.3 842.8,377.5 843.2,378.5 843.6,377.6 844.0,378.2 844.4,377.4 844.8,377.5 845.2,377.2 845.6,377.2 846.0,378.6 846.4,377.9 846.8,377.6 847.2,378.5 847.6,378.1 848.0,378.2 848.4,378.0 848.8,378.3 849.2,376.9 849.6,376.7 850.0,377.1 850.4,377.2 850.8,376.9 851.2,376.2 851.6,376.6 852.0,376.1 852.4,375.5 852.8,375.1 853.2,375.5 853.6,374.2 854.0,373.1 854.4,372.7 854.8,373.3 855.2,372.0 855.6,371.2 856.0,369.7 856.4,367.4 856.8,364.6 857.2,362.2 857.6,359.5 858.0,355.3 858.4,352.2 858.8,348.5 859.2,343.8 859.6,340.3 860.0,335.6 860.4,328.1 860.8,318.8 861.2,310.6 861.6,300.4 862.0,293.1 862.4,286.8 862.8,283.0 863.2,283.9 863.6,288.7 864.0,295.1 864.4,304.2 864.8,314.2 865.2,324.1 865.6,331.9 866.0,339.4 866.4,342.3 866.8,344.8 867.2,349.6 867.6,352.4 868.0,354.6 868.4,358.6 868.8,360.7 869.2,363.4 869.6,364.5 870.0,366.3 870.4,368.0 870.8,369.6 871.2,370.0 871.6,371.6 872.0,371.1 872.4,371.7 872.8,372.1 873.2,372.6 873.6,372.9 874.0,373.2 874.4,374.3 874.8,375.2 875.2,376.2 875.6,375.6 876.0,374.9 876.4,376.5 876.8,375.7 877.2,376.7 877.6,376.4 878.0,375.9 878.4,376.0 878.8,375.8 879.2,376.4 879.6,375.5 880.0,375.6 880.4,375.2 880.8,375.0 881.2,375.6 881.6,375.7 882.0,374.5 882.4,374.6 882.8,374.8 883.2,374.4 883.6,373.3 884.0,373.8 884.4,373.1 884.8,371.9 885.2,372.1 885.6,371.3 886.0,371.5 886.4,370.8 886.8,370.1 887.2,368.4 887.6,367.3 888.0,366.4 888.4,365.5 888.8,364.1 889.2,363.7 889.6,363.1 890.0,360.6 890.4,361.0 890.8,359.9 891.2,357.5 891.6,359.7 892.0,357.1 892.4,356.5 892.8,355.7 893.2,357.9 893.6,359.6 894.0,362.0 894.4,363.6 894.8,365.2 895.2,366.6 895.6,368.0 896.0,368.0 896.4,369.2 896.8,370.5 897.2,369.1 897.6,370.3 898.0,372.1 898.4,371.5 898.8,372.6 899.2,372.0 899.6,373.2 900.0,373.1 900.4,373.4 900.8,372.3 901.2,374.0 901.6,373.4 902.0,373.3 902.4,374.2 902.8,373.5 903.2,373.3 903.6,374.2 904.0,374.8 904.4,374.1 904.8,374.8 905.2,375.4 905.6,374.6 906.0,374.7 906.4,374.4 906.8,374.6 907.2,375.0 907.6,373.7 908.0,375.3 908.4,376.3 908.8,375.4 909.2,375.4 909.6,375.1 910.0,375.9 910.4,375.4 910.8,376.7 911.2,376.0 911.6,376.1 912.0,376.1 912.4,375.7 912.8,374.5 913.2,375.7 913.6,376.5 914.0,375.0 914.4,376.4 914.8,376.5 915.2,376.6 915.6,376.4 916.0,376.5 916.4,376.2 916.8,377.2 917.2,375.8 917.6,375.9 918.0,376.1 918.4,376.2 918.8,377.2 919.2,376.7 919.6,377.4 920.0,376.2 920.4,376.7 920.8,376.6 921.2,377.1 921.6,377.3 922.0,377.3 922.4,376.9 922.8,378.0 923.2,377.2 923.6,377.9 924.0,378.4 924.4,378.3 924.8,376.8 925.2,378.6 925.6,377.5 926.0,378.1 926.4,377.8 926.8,377.7 927.2,377.8 927.6,378.1 928.0,378.3 928.4,377.3 928.8,376.9 929.2,377.6 929.6,377.1 930.0,377.4 930.4,378.6 930.8,378.3 931.2,377.5 931.6,377.6 932.0,377.6 932.4,377.7 932.8,377.8 933.2,377.9 933.6,378.3 934.0,377.4 934.4,376.3 934.8,377.1 935.2,376.7 935.6,376.1 936.0,376.5 936.4,374.5 936.8,374.5 937.2,374.2 937.6,375.1 938.0,373.2 938.4,373.0 938.8,372.9 939.2,372.2 939.6,370.4 940.0,371.2 940.4,370.3 940.8,370.3 941.2,370.0 941.6,368.9 942.0,367.5 942.4,365.7 942.8,366.3 943.2,365.8 943.6,365.0 944.0,363.6 944.4,364.1 944.8,363.9 945.2,365.9 945.6,366.5 946.0,368.5 946.4,369.4 946.8,370.3 947.2,371.6 947.6,373.7 948.0,374.2 948.4,374.2 948.8,374.1 949.2,374.9 949.6,376.1 950.0,376.0 950.4,376.2 950.8,377.7 951.2,377.7 951.6,377.4 952.0,377.3 952.4,379.4 952.8,379.1 953.2,378.5 953.6,379.3 954.0,379.1 954.4,378.6 954.8,379.4 955.2,379.2 955.6,379.6 956.0,378.9 956.4,379.6 956.8,379.6 957.2,379.8 957.6,379.1 958.0,380.2 958.4,379.3 958.8,380.7 959.2,379.6 959.6,379.4 960.0,379.0 960.4,380.0 960.8,380.5 961.2,379.7 961.6,379.2 962.0,379.4 962.4,380.2 962.8,379.1 963.2,379.3 963.6,379.0 964.0,379.6 964.4,379.4 964.8,379.4 965.2,379.3 965.6,379.0 966.0,379.3 966.4,378.9 966.8,378.1 967.2,379.5 967.6,378.4 968.0,379.5 968.4,379.1 968.8,379.3 969.2,378.7 969.6,377.6 970.0,378.6 970.4,377.8 970.8,379.0 971.2,378.4 971.6,376.5 972.0,377.5 972.4,376.4 972.8,374.4 973.2,374.6 973.6,373.8 974.0,373.5 974.4,372.4 974.8,370.1 975.2,370.8 975.6,368.8 976.0,368.4 976.4,366.6 976.8,366.4 977.2,364.8 977.6,362.8 978.0,360.8 978.4,359.7 978.8,357.4 979.2,354.6 979.6,353.2 980.0,352.1 980.4,350.2 980.8,349.2 981.2,351.4 981.6,352.1 982.0,354.7 982.4,356.7 982.8,360.8 983.2,363.4 983.6,365.2 984.0,367.4 984.4,368.0 984.8,368.8 985.2,369.1 985.6,371.5 986.0,371.8 986.4,373.4 986.8,373.9 987.2,373.6 987.6,374.8 988.0,374.4 988.4,375.4 988.8,376.7 989.2,376.1 989.6,376.4 990.0,375.7 990.4,376.1 990.8,376.2 991.2,376.7 991.6,375.9 992.0,376.0 992.4,377.5 992.8,377.4 993.2,377.0 993.6,376.2 994.0,376.0 994.4,376.3 994.8,377.3 995.2,377.0 995.6,377.0 996.0,376.9 996.4,377.4 996.8,376.6 997.2,377.2 997.6,376.0 998.0,376.3 998.4,376.8 998.8,377.5 999.2,377.0 999.6,377.8 1000.0,377.8 1000.4,378.0 1000.8,377.4 1001.2,378.2 1001.6,377.7 1002.0,378.2 1002.4,376.7 1002.8,378.5 1003.2,378.2 1003.6,378.7 1004.0,378.3 1004.4,378.8 1004.8,378.9 1005.2,378.2 1005.6,378.5 1006.0,377.4 1006.4,378.8 1006.8,378.6 1007.2,379.4 1007.6,378.9 1008.0,378.6 1008.4,378.0 1008.8,379.1 1009.2,378.5 1009.6,378.7 1010.0,378.5 1010.4,378.3 1010.8,378.8 1011.2,379.2 1011.6,378.1 1012.0,378.5 1012.4,378.6 1012.8,378.0 1013.2,378.8 1013.6,378.5 1014.0,378.1 1014.4,377.8 1014.8,377.4 1015.2,377.1 1015.6,377.9 1016.0,377.2 1016.4,377.6 1016.8,376.4 1017.2,376.7 1017.6,377.8 1018.0,377.2 1018.4,376.5 1018.8,376.8 1019.2,376.0 1019.6,375.1 1020.0,372.7 1020.4,369.6 1020.8,368.3 1021.2,366.1 1021.6,363.4 1022.0,361.4 1022.4,357.7 1022.8,355.7 1023.2,352.3 1023.6,350.3 1024.0,345.4 1024.4,343.5 1024.8,340.3 1025.2,337.2 1025.6,338.0 1026.0,340.0 1026.4,341.8 1026.8,346.3 1027.2,350.1 1027.6,354.5 1028.0,358.3 1028.4,361.2 1028.8,363.5 1029.2,363.0 1029.6,364.9 1030.0,366.9 1030.4,368.7 1030.8,369.5 1031.2,371.9 1031.6,371.6 1032.0,372.4 1032.4,374.4 1032.8,374.0 1033.2,375.9 1033.6,376.1 1034.0,375.5 1034.4,376.5 1034.8,377.3 1035.2,378.0 1035.6,378.2 1036.0,377.7 1036.4,378.2 1036.8,378.0 1037.2,379.9 1037.6,378.8 1038.0,379.7 1038.4,380.1 1038.8,379.2 1039.2,380.2 1039.6,380.6 1040.0,381.0 1040.4,380.8 1040.8,381.6 1041.2,381.3 1041.6,380.4 1042.0,381.2 1042.4,380.3 1042.8,379.9 1043.2,382.2 1043.6,381.3 1044.0,381.1 1044.4,381.4 1044.8,381.7 1045.2,380.4 1045.6,381.9 1046.0,381.4 1046.4,381.4 1046.8,381.7 1047.2,381.2 1047.6,380.6 1048.0,380.4 1048.4,381.7 1048.8,380.9 1049.2,380.3 1049.6,380.0 1050.0,380.6 1050.4,381.0 1050.8,380.3 1051.2,379.7 1051.6,379.3 1052.0,380.6 1052.4,377.5 1052.8,378.5 1053.2,378.4 1053.6,377.7 1054.0,378.1 1054.4,378.6 1054.8,377.6 1055.2,376.2 1055.6,376.0 1056.0,376.4 1056.4,376.5 1056.8,376.0 1057.2,374.1 1057.6,373.8 1058.0,371.7 1058.4,369.4 1058.8,369.2 1059.2,367.1 1059.6,366.2 1060.0,363.0 1060.4,362.2 1060.8,360.4 1061.2,358.3 1061.6,355.7 1062.0,354.5 1062.4,351.9 1062.8,350.8 1063.2,347.8 1063.6,348.1 1064.0,346.5 1064.4,349.7 1064.8,350.8 1065.2,354.0 1065.6,357.0 1066.0,359.6 1066.4,361.1 1066.8,363.6 1067.2,364.9 1067.6,366.1 1068.0,367.6 1068.4,368.2 1068.8,370.0 1069.2,371.3 1069.6,371.5 1070.0,373.2 1070.4,374.8 1070.8,375.2 1071.2,376.1 1071.6,375.9 1072.0,377.6 1072.4,377.1 1072.8,377.4 1073.2,377.1 1073.6,378.2 1074.0,378.1 1074.4,377.7 1074.8,379.0 1075.2,378.7 1075.6,378.6 1076.0,379.5 1076.4,378.8 1076.8,378.7 1077.2,380.5 1077.6,379.4 1078.0,380.1 1078.4,380.1 1078.8,378.8 1079.2,379.6 1079.6,379.8 1080.0,379.5 1080.4,380.0 1080.8,380.6 1081.2,379.6 1081.6,380.0 1082.0,379.9 1082.4,380.0 1082.8,379.7 1083.2,380.4 1083.6,379.2 1084.0,379.5 1084.4,379.3 1084.8,380.1 1085.2,380.4 1085.6,380.5 1086.0,380.6 1086.4,379.2 1086.8,379.9 1087.2,380.4 1087.6,379.8 1088.0,380.2 1088.4,380.3 1088.8,379.8 1089.2,379.5 1089.6,379.5 1090.0,380.6 1090.4,379.9 1090.8,379.5 1091.2,379.3 1091.6,380.3 1092.0,379.0 1092.4,379.9 1092.8,380.8 1093.2,379.6 1093.6,378.9 1094.0,378.5 1094.4,379.9 1094.8,378.8 1095.2,379.5 1095.6,380.4 1096.0,379.5 1096.4,379.1 1096.8,379.1 1097.2,379.6 1097.6,378.7 1098.0,378.9 1098.4,379.5 1098.8,379.7 1099.2,378.6 1099.6,379.5 1100.0,378.9 1100.4,377.8 1100.8,378.6 1101.2,378.4 1101.6,378.1 1102.0,378.0 1102.4,378.5 1102.8,377.2 1103.2,377.2 1103.6,377.3 1104.0,375.7 1104.4,374.5 1104.8,374.1 1105.2,373.4 1105.6,374.1 1106.0,373.8 1106.4,372.1 1106.8,372.4 1107.2,370.4 1107.6,370.2 1108.0,368.8 1108.4,366.3 1108.8,364.5 1109.2,362.4 1109.6,358.4 1110.0,356.0 1110.4,352.4 1110.8,349.0 1111.2,346.5 1111.6,342.3 1112.0,339.9 1112.4,334.7 1112.8,328.9 1113.2,323.1 1113.6,319.2 1114.0,314.5 1114.4,310.3 1114.8,309.3 1115.2,308.8 1115.6,312.0 1116.0,315.0 1116.4,319.0 1116.8,324.7 1117.2,331.1 1117.6,336.1 1118.0,339.5 1118.4,341.9 1118.8,345.8 1119.2,347.0 1119.6,350.7 1120.0,350.9 1120.4,353.2 1120.8,356.2 1121.2,357.1 1121.6,359.1 1122.0,360.7 1122.4,360.2 1122.8,362.1 1123.2,364.0 1123.6,364.9 1124.0,365.3 1124.4,365.8 1124.8,367.4 1125.2,368.6 1125.6,369.3 1126.0,369.1 1126.4,370.1 1126.8,371.8 1127.2,372.4 1127.6,372.7 1128.0,372.8 1128.4,374.1 1128.8,374.0 1129.2,373.6 1129.6,374.2 1130.0,374.3 1130.4,375.8 1130.8,376.6 1131.2,376.5 1131.6,376.6 1132.0,376.0 1132.4,377.1 1132.8,376.3 1133.2,376.7 1133.6,377.6 1134.0,377.6 1134.4,376.8 1134.8,377.6 1135.2,377.5 1135.6,377.7 1136.0,377.6 1136.4,377.9 1136.8,378.1 1137.2,379.0 1137.6,379.3 1138.0,378.6 1138.4,378.9 1138.8,379.2 1139.2,378.4 1139.6,379.4 1140.0,379.1 1140.4,378.3 1140.8,379.3 1141.2,379.3 1141.6,379.0 1142.0,378.7 1142.4,378.8 1142.8,379.0 1143.2,381.1 1143.6,378.8 1144.0,379.3 1144.4,379.6 1144.8,380.0 1145.2,378.9 1145.6,378.5 1146.0,379.3 1146.4,378.2 1146.8,378.4 1147.2,379.9 1147.6,379.2 1148.0,380.0 1148.4,378.2 1148.8,378.6 1149.2,378.9 1149.6,379.2 1150.0,378.5 1150.4,378.1 1150.8,377.4 1151.2,378.2 1151.6,376.7 1152.0,377.9 1152.4,377.5 1152.8,377.4 1153.2,377.1 1153.6,377.9 1154.0,377.4 1154.4,377.4 1154.8,375.8 1155.2,376.5 1155.6,375.3 1156.0,375.8 1156.4,375.6 1156.8,375.4 1157.2,375.4 1157.6,375.1 1158.0,374.5 1158.4,374.5 1158.8,373.3 1159.2,374.0 1159.6,374.2 1160.0,372.6 1160.4,373.3 1160.8,372.3 1161.2,372.8 1161.6,371.7 1162.0,372.7 1162.4,371.8 1162.8,372.6 1163.2,372.1 1163.6,372.2 1164.0,372.6 1164.4,372.2 1164.8,372.5 1165.2,373.3 1165.6,374.0 1166.0,374.3 1166.4,374.8 1166.8,374.8 1167.2,376.3 1167.6,376.5 1168.0,376.5 1168.4,377.3 1168.8,378.0 1169.2,377.8 1169.6,378.3 1170.0,378.6 1170.4,378.5 1170.8,378.0 1171.2,376.5 1171.6,378.2 1172.0,376.8 1172.4,377.5 1172.8,377.4 1173.2,378.0 1173.6,377.5 1174.0,376.9 1174.4,376.9 1174.8,377.2 1175.2,375.8 1175.6,377.6 1176.0,375.8 1176.4,375.6 1176.8,375.3 1177.2,376.9 1177.6,374.8 1178.0,375.1 1178.4,373.9 1178.8,374.9 1179.2,373.7 1179.6,373.4 1180.0,372.8 1180.4,373.1 1180.8,373.0 1181.2,372.9 1181.6,372.4 1182.0,371.5 1182.4,372.1 1182.8,371.2 1183.2,371.6 1183.6,372.5 1184.0,372.8 1184.4,373.0 1184.8,373.2 1185.2,373.4 1185.6,374.3 1186.0,375.2 1186.4,375.4 1186.8,376.3 1187.2,376.6 1187.6,377.0 1188.0,377.6 1188.4,377.1 1188.8,377.5 1189.2,377.4 1189.6,379.3 1190.0,378.6 1190.4,378.6 1190.8,377.2 1191.2,378.3 1191.6,379.7 1192.0,378.9 1192.4,378.5 1192.8,379.4 1193.2,380.3 1193.6,378.9 1194.0,379.3 1194.4,379.0 1194.8,379.2 1195.2,378.4 1195.6,378.3 1196.0,379.6 1196.4,378.9 1196.8,379.0 1197.2,379.1 1197.6,379.1 1198.0,379.0 1198.4,378.7 1198.8,379.6 1199.2,378.6 1199.6,378.8 1200.0,379.4 1200.4,377.4 1200.8,378.5 1201.2,376.9 1201.6,377.1 1202.0,376.1 1202.4,376.5 1202.8,376.9 1203.2,375.0 1203.6,374.6 1204.0,373.8 1204.4,374.3 1204.8,371.4 1205.2,371.9 1205.6,371.6 1206.0,370.9 1206.4,371.0 1206.8,369.7 1207.2,367.9 1207.6,368.1 1208.0,366.0 1208.4,364.1 1208.8,364.6 1209.2,363.2 1209.6,363.1 1210.0,362.3 1210.4,361.3 1210.8,361.3 1211.2,360.5 1211.6,359.8 1212.0,359.2 1212.4,358.5 1212.8,357.6 1213.2,357.8 1213.6,356.6 1214.0,356.8 1214.4,357.4 1214.8,356.7 1215.2,358.1 1215.6,359.1 1216.0,360.0 1216.4,360.7 1216.8,362.7 1217.2,363.6 1217.6,363.0 1218.0,365.4 1218.4,366.7 1218.8,366.8 1219.2,367.8 1219.6,369.6 1220.0,369.6 1220.4,370.7 1220.8,372.4 1221.2,371.3 1221.6,372.5 1222.0,372.8 1222.4,373.4 1222.8,375.0 1223.2,375.3 1223.6,374.6 1224.0,376.6 1224.4,376.4 1224.8,376.5 1225.2,376.4 1225.6,376.3 1226.0,376.1 1226.4,375.8 1226.8,376.2 1227.2,376.8 1227.6,374.9 1228.0,375.4 1228.4,375.1 1228.8,374.8 1229.2,373.5 1229.6,373.8 1230.0,373.6 1230.4,373.0 1230.8,373.3 1231.2,373.3 1231.6,372.2 1232.0,371.8 1232.4,370.8 1232.8,370.8 1233.2,369.7 1233.6,370.1 1234.0,368.5 1234.4,367.8 1234.8,368.0 1235.2,367.0 1235.6,367.1 1236.0,365.3 1236.4,364.0 1236.8,364.1 1237.2,362.4 1237.6,362.0 1238.0,361.3 1238.4,360.3 1238.8,358.8 1239.2,359.1 1239.6,357.9 1240.0,357.4 1240.4,355.9 1240.8,356.0 1241.2,354.5 1241.6,355.4 1242.0,355.2 1242.4,353.5 1242.8,356.5 1243.2,357.0 1243.6,357.9 1244.0,359.3 1244.4,360.6 1244.8,363.6 1245.2,364.9 1245.6,364.9 1246.0,366.9 1246.4,368.1 1246.8,369.1 1247.2,369.0 1247.6,370.8 1248.0,372.1 1248.4,371.9 1248.8,373.5 1249.2,373.3 1249.6,374.8 1250.0,375.8 1250.4,376.3 1250.8,376.4 1251.2,376.5 1251.6,376.4 1252.0,377.6 1252.4,376.7 1252.8,376.5 1253.2,377.4 1253.6,375.6 1254.0,376.7 1254.4,376.6 1254.8,375.9 1255.2,376.2 1255.6,374.9 1256.0,376.9 1256.4,375.4 1256.8,376.0 1257.2,376.1 1257.6,377.5 1258.0,376.9 1258.4,377.0 1258.8,375.9 1259.2,376.0 1259.6,377.2 1260.0,375.9 1260.4,376.1 1260.8,375.9 1261.2,377.3 1261.6,375.7 1262.0,376.0 1262.4,375.6 1262.8,375.3 1263.2,374.5 1263.6,375.3 1264.0,375.0 1264.4,375.9 1264.8,374.8 1265.2,375.9 1265.6,375.0 1266.0,374.0 1266.4,373.8 1266.8,373.8 1267.2,373.6 1267.6,372.2 1268.0,372.4 1268.4,371.2 1268.8,371.6 1269.2,370.4 1269.6,369.1 1270.0,367.9 1270.4,365.3 1270.8,364.5 1271.2,361.5 1271.6,359.8 1272.0,357.9 1272.4,357.0 1272.8,356.7 1273.2,355.2 1273.6,353.8 1274.0,351.7 1274.4,351.7 1274.8,350.7 1275.2,349.7 1275.6,349.3 1276.0,348.5 1276.4,348.4 1276.8,347.4 1277.2,347.4 1277.6,347.2 1278.0,348.2 1278.4,348.3 1278.8,350.0 1279.2,350.6 1279.6,351.4 1280.0,352.5 1280.4,354.2 1280.8,356.1 1281.2,357.7 1281.6,358.8 1282.0,359.7 1282.4,359.7 1282.8,361.1 1283.2,361.3 1283.6,362.1 1284.0,362.1 1284.4,362.3 1284.8,363.6 1285.2,363.9 1285.6,364.2 1286.0,365.1 1286.4,365.9 1286.8,367.0 1287.2,367.0 1287.6,367.4 1288.0,367.7 1288.4,368.0 1288.8,368.5 1289.2,367.9 1289.6,368.8 1290.0,367.8 1290.4,367.6 1290.8,365.6 1291.2,367.4 1291.6,365.0 1292.0,364.9 1292.4,364.5 1292.8,363.5 1293.2,362.0 1293.6,361.2 1294.0,360.5 1294.4,358.6 1294.8,358.8 1295.2,357.4 1295.6,355.3 1296.0,355.3 1296.4,353.7 1296.8,352.9 1297.2,351.8 1297.6,350.1 1298.0,348.5 1298.4,346.4 1298.8,345.3 1299.2,344.2 1299.6,343.8 1300.0,343.4 1300.4,341.0 1300.8,339.3 1301.2,339.5 1301.6,338.7 1302.0,338.2 1302.4,337.2 1302.8,337.2 1303.2,335.5 1303.6,333.7 1304.0,333.9 1304.4,334.1 1304.8,332.6 1305.2,333.4 1305.6,334.1 1306.0,334.6 1306.4,336.2 1306.8,338.3 1307.2,338.0 1307.6,340.7 1308.0,343.8 1308.4,344.2 1308.8,346.1 1309.2,348.1 1309.6,351.1 1310.0,351.6 1310.4,355.2 1310.8,357.3 1311.2,359.7 1311.6,362.8 1312.0,365.0 1312.4,368.0 1312.8,369.0 1313.2,371.0 1313.6,371.8 1314.0,373.8 1314.4,373.8 1314.8,375.0 1315.2,375.3 1315.6,375.8 1316.0,376.8 1316.4,377.4 1316.8,379.0 1317.2,378.7 1317.6,379.7 1318.0,379.9 1318.4,379.3 1318.8,379.9 1319.2,380.7 1319.6,381.4 1320.0,381.8 1320.4,381.5 1320.8,382.3 1321.2,381.3 1321.6,382.3 1322.0,380.1 1322.4,382.0 1322.8,382.0 1323.2,382.3 1323.6,382.8 1324.0,382.0 1324.4,383.2 1324.8,382.6 1325.2,382.2 1325.6,382.9 1326.0,383.1 1326.4,383.7 1326.8,383.9 1327.2,382.0 1327.6,383.1 1328.0,383.0 1328.4,384.4 1328.8,383.5 1329.2,383.3 1329.6,382.9 1330.0,383.4 1330.4,383.6 1330.8,383.7 1331.2,383.8 1331.6,384.2 1332.0,383.9 1332.4,383.9 1332.8,383.8 1333.2,384.0 1333.6,383.8 1334.0,383.5 1334.4,383.4 1334.8,381.7 1335.2,383.2 1335.6,382.8 1336.0,383.0 1336.4,382.8 1336.8,382.3 1337.2,382.6 1337.6,382.1 1338.0,382.2 1338.4,382.1 1338.8,383.4 1339.2,381.8 1339.6,380.8 1340.0,381.4 1340.4,382.3 1340.8,382.7 1341.2,381.3 1341.6,381.3 1342.0,381.0 1342.4,381.3 1342.8,380.9 1343.2,380.9 1343.6,380.5 1344.0,380.8 1344.4,381.3 1344.8,381.0 1345.2,380.5 1345.6,380.0 1346.0,380.4 1346.4,381.6 1346.8,379.9 1347.2,381.7 1347.6,380.5 1348.0,381.1 1348.4,380.1 1348.8,381.3 1349.2,381.0 1349.6,381.1 1350.0,382.4 1350.4,380.6 1350.8,381.4 1351.2,380.6 1351.6,381.3 1352.0,381.5 1352.4,380.9 1352.8,381.4 1353.2,381.1 1353.6,381.3 1354.0,382.7 1354.4,380.7 1354.8,381.4 1355.2,381.6 1355.6,380.9 1356.0,383.1 1356.4,381.9 1356.8,382.7 1357.2,382.9 1357.6,382.7 1358.0,382.8 1358.4,382.8 1358.8,381.5 1359.2,383.1 1359.6,382.7 1360.0,382.4 1360.4,382.9 1360.8,382.4 1361.2,382.3 1361.6,383.7 1362.0,383.0 1362.4,381.9 1362.8,382.1 1363.2,382.3 1363.6,381.4 1364.0,383.3 1364.4,383.3 1364.8,383.3 1365.2,383.8 1365.6,383.2 1366.0,382.6 1366.4,383.4 1366.8,383.4 1367.2,383.1 1367.6,382.9 1368.0,382.8 1368.4,382.3 1368.8,382.9 1369.2,384.0 1369.6,384.2 1370.0,382.0 1370.4,382.1 1370.8,382.5 1371.2,382.1 1371.6,383.5 1372.0,382.3 1372.4,382.3 1372.8,382.9 1373.2,381.8 1373.6,381.8 1374.0,381.3 1374.4,382.2 1374.8,382.9 1375.2,382.0 1375.6,380.8 1376.0,380.5 1376.4,380.5 1376.8,379.5 1377.2,380.6 1377.6,379.0 1378.0,379.4 1378.4,379.5 1378.8,379.5 1379.2,379.9 1379.6,379.4 1380.0,379.3 1380.4,377.8 1380.8,378.7 1381.2,378.1 1381.6,377.6 1382.0,377.6 1382.4,376.5 1382.8,376.6 1383.2,376.5 1383.6,377.1 1384.0,377.3 1384.4,377.1 1384.8,376.1 1385.2,376.4 1385.6,376.6 1386.0,376.6 1386.4,375.4 1386.8,376.3 1387.2,376.4 1387.6,376.2 1388.0,376.9 1388.4,377.1 1388.8,375.3 1389.2,376.6 1389.6,376.6 1390.0,376.0 1390.4,377.3 1390.8,376.6 1391.2,376.3 1391.6,376.1 1392.0,378.1 1392.4,376.6 1392.8,377.5 1393.2,377.3 1393.6,376.7 1394.0,377.3 1394.4,376.3 1394.8,377.4 1395.2,377.7 1395.6,376.6 1396.0,377.5 1396.4,376.9 1396.8,378.1 1397.2,377.5 1397.6,378.5 1398.0,377.6 1398.4,377.4 1398.8,378.2 1399.2,378.9 1399.6,378.5 1400.0,379.4 1400.4,378.8 1400.8,378.9 1401.2,378.5 1401.6,379.0 1402.0,378.2 1402.4,379.5 1402.8,377.8 1403.2,378.4 1403.6,378.6 1404.0,380.4 1404.4,379.1 1404.8,379.2 1405.2,379.7 1405.6,378.3 1406.0,380.2 1406.4,378.3 1406.8,379.0 1407.2,379.2 1407.6,379.3 1408.0,380.1 1408.4,378.5 1408.8,379.5 1409.2,380.0 1409.6,379.8 1410.0,379.1 1410.4,379.0 1410.8,380.3 1411.2,381.3 1411.6,378.7 1412.0,378.2 1412.4,379.7 1412.8,380.1 1413.2,378.6 1413.6,380.1 1414.0,380.7 1414.4,379.6 1414.8,380.8 1415.2,380.0 1415.6,380.4 1416.0,381.2 1416.4,380.0 1416.8,380.5 1417.2,379.9 1417.6,380.6 1418.0,381.6 1418.4,381.8 1418.8,380.6 1419.2,381.3 1419.6,381.5 1420.0,380.8 1420.4,381.7 1420.8,381.4 1421.2,382.2 1421.6,382.4 1422.0,382.3 1422.4,382.1 1422.8,381.9 1423.2,381.0 1423.6,383.4 1424.0,383.1 1424.4,383.6 1424.8,381.3 1425.2,383.0 1425.6,383.6 1426.0,383.7 1426.4,383.5 1426.8,383.4 1427.2,382.5 1427.6,383.2 1428.0,383.4 1428.4,382.9 1428.8,384.1 1429.2,382.5 1429.6,382.1 1430.0,382.7 1430.4,383.0 1430.8,383.4 1431.2,382.4 1431.6,382.6 1432.0,382.8 1432.4,381.6 1432.8,382.5 1433.2,383.0 1433.6,382.5 1434.0,382.8 1434.4,381.8 1434.8,382.3 1435.2,381.4 1435.6,381.2 1436.0,381.7 1436.4,380.2 1436.8,381.0 1437.2,380.8 1437.6,381.4 1438.0,381.1 1438.4,380.7 1438.8,381.4 1439.2,380.1 1439.6,380.6 1440.0,380.2 1440.4,381.4 1440.8,380.2 1441.2,379.9 1441.6,379.5 1442.0,379.9 1442.4,380.1 1442.8,379.5 1443.2,380.1 1443.6,379.7 1444.0,379.3 1444.4,379.9 1444.8,379.5 1445.2,379.1 1445.6,379.5 1446.0,380.2 1446.4,379.7 1446.8,378.9 1447.2,378.9 1447.6,378.8 1448.0,380.0 1448.4,378.6 1448.8,378.6 1449.2,378.4 1449.6,379.0 1450.0,378.6 1450.4,378.4 1450.8,379.7 1451.2,378.0 1451.6,379.2 1452.0,377.8 1452.4,378.6 1452.8,378.7 1453.2,377.7 1453.6,377.6 1454.0,378.2 1454.4,377.5 1454.8,376.8 1455.2,378.0 1455.6,375.8 1456.0,376.0 1456.4,376.7 1456.8,375.6 1457.2,374.2 1457.6,374.8 1458.0,373.9 1458.4,373.4 1458.8,372.5 1459.2,371.5 1459.6,372.4 1460.0,371.3 1460.4,370.6 1460.8,371.4 1461.2,369.8 1461.6,370.7 1462.0,369.5 1462.4,369.9 1462.8,369.7 1463.2,370.5 1463.6,370.2 1464.0,371.6 1464.4,373.0 1464.8,372.2 1465.2,372.7 1465.6,373.0 1466.0,373.0 1466.4,374.6 1466.8,375.2 1467.2,374.2 1467.6,375.3 1468.0,375.8 1468.4,376.5 1468.8,377.7 1469.2,377.3 1469.6,378.0 1470.0,377.0 1470.4,377.6 1470.8,378.2 1471.2,377.9 1471.6,378.3 1472.0,379.6 1472.4,379.3 1472.8,379.6 1473.2,380.9 1473.6,379.8 1474.0,380.2 1474.4,381.5 1474.8,380.9 1475.2,381.5 1475.6,381.3 1476.0,381.7 1476.4,381.7 1476.8,381.1 1477.2,381.7 1477.6,382.0 1478.0,382.8 1478.4,382.4 1478.8,382.2 1479.2,382.0 1479.6,382.4 1480.0,382.4 1480.4,382.0 1480.8,383.2 1481.2,382.7 1481.6,381.3 1482.0,382.3 1482.4,382.6 1482.8,382.7 1483.2,382.3 1483.6,383.4 1484.0,382.4 1484.4,383.1 1484.8,382.1 1485.2,383.0 1485.6,382.0 1486.0,383.1 1486.4,383.1 1486.8,383.3 1487.2,382.3 1487.6,383.7 1488.0,382.8 1488.4,383.6 1488.8,384.4 1489.2,383.2 1489.6,383.2 1490.0,383.3 1490.4,382.7 1490.8,383.2 1491.2,383.3 1491.6,382.5 1492.0,384.4 1492.4,383.9 1492.8,383.0 1493.2,383.3 1493.6,383.4 1494.0,383.0 1494.4,384.0 1494.8,383.1 1495.2,383.0 1495.6,384.6 1496.0,383.6 1496.4,383.9 1496.8,384.7 1497.2,383.4 1497.6,383.3 1498.0,384.1 1498.4,382.9 1498.8,383.7 1499.2,383.7 1499.6,382.8 1500.0,382.7 1500.4,383.5 1500.8,383.3 1501.2,383.5 1501.6,385.0 1502.0,383.5 1502.4,383.7 1502.8,383.5 1503.2,382.8 1503.6,384.2 1504.0,383.8 1504.4,384.6 1504.8,383.7 1505.2,383.4 1505.6,384.9 1506.0,384.0 1506.4,383.9 1506.8,383.7 1507.2,384.2 1507.6,384.2 1508.0,383.8 1508.4,384.0 1508.8,383.2 1509.2,383.5 1509.6,382.6 1510.0,383.9 1510.4,383.8 1510.8,384.1 1511.2,383.1 1511.6,384.2 1512.0,383.7 1512.4,384.0 1512.8,382.5 1513.2,384.7 1513.6,383.6 1514.0,383.3 1514.4,383.9 1514.8,383.2 1515.2,383.9 1515.6,384.0 1516.0,382.6 1516.4,384.0 1516.8,384.8 1517.2,382.5 1517.6,382.9 1518.0,382.5 1518.4,382.9 1518.8,382.0 1519.2,382.7 1519.6,382.4 1520.0,382.7 1520.4,382.5 1520.8,382.5 1521.2,381.9 1521.6,382.4 1522.0,382.8 1522.4,381.5 1522.8,382.7 1523.2,382.1 1523.6,382.3 1524.0,382.6 1524.4,383.7 1524.8,382.8 1525.2,382.2 1525.6,381.4 1526.0,381.9 1526.4,381.6 1526.8,380.7 1527.2,380.8 1527.6,381.4 1528.0,382.4 1528.4,381.4 1528.8,381.6 1529.2,382.6 1529.6,381.3 1530.0,381.7 1530.4,382.3 1530.8,381.9 1531.2,381.6 1531.6,382.9 1532.0,380.8 1532.4,381.5 1532.8,383.4 1533.2,381.8 1533.6,382.2 1534.0,382.4 1534.4,382.7 1534.8,382.4 1535.2,381.0 1535.6,380.4 1536.0,382.0 1536.4,382.1 1536.8,381.7 1537.2,381.7 1537.6,383.0 1538.0,383.0 1538.4,381.8 1538.8,381.7 1539.2,380.8 1539.6,381.7 1540.0,381.7 1540.4,381.7 1540.8,381.1 1541.2,382.8 1541.6,382.4 1542.0,381.4 1542.4,382.1 1542.8,382.6 1543.2,383.3 1543.6,382.4 1544.0,382.0 1544.4,382.5 1544.8,381.8 1545.2,382.2 1545.6,382.0 1546.0,383.6 1546.4,383.5 1546.8,381.9 1547.2,382.1 1547.6,383.1 1548.0,383.6 1548.4,383.4 1548.8,382.7 1549.2,383.9 1549.6,383.4 1550.0,383.3 1550.4,383.0 1550.8,383.6 1551.2,383.2 1551.6,383.4 1552.0,382.4 1552.4,382.8 1552.8,383.8 1553.2,383.5 1553.6,382.5 1554.0,383.2 1554.4,382.6 1554.8,383.2 1555.2,383.7 1555.6,383.4 1556.0,382.6 1556.4,383.1 1556.8,383.0 1557.2,382.5 1557.6,382.8 1558.0,383.9 1558.4,384.7 1558.8,383.5 1559.2,383.0 1559.6,383.4 1560.0,383.2 1560.4,382.9 1560.8,383.4 1561.2,383.4 1561.6,383.6 1562.0,382.9 1562.4,383.0 1562.8,384.0 1563.2,383.6 1563.6,383.9 1564.0,382.8 1564.4,382.8 1564.8,382.7 1565.2,382.8 1565.6,382.9 1566.0,383.3 1566.4,383.0 1566.8,382.0 1567.2,383.8 1567.6,383.4 1568.0,382.7 1568.4,382.5 1568.8,382.5 1569.2,382.8 1569.6,381.7 1570.0,383.1 1570.4,382.2 1570.8,382.7 1571.2,382.2 1571.6,381.8 1572.0,382.8 1572.4,382.6 1572.8,381.9 1573.2,382.9 1573.6,382.8 1574.0,383.0 1574.4,382.4 1574.8,382.5 1575.2,382.1 1575.6,383.3 1576.0,381.3 1576.4,382.4 1576.8,382.9 1577.2,382.2 1577.6,382.6 1578.0,382.3 1578.4,382.2 1578.8,380.8 1579.2,382.0 1579.6,381.7 1580.0,381.5 1580.4,382.3 1580.8,381.3 1581.2,381.3 1581.6,380.7 1582.0,380.9 1582.4,380.6 1582.8,380.8 1583.2,380.5 1583.6,380.7 1584.0,379.8 1584.4,380.6 1584.8,379.1 1585.2,379.7 1585.6,380.1 1586.0,379.2 1586.4,378.3 1586.8,379.0 1587.2,379.8 1587.6,378.0 1588.0,379.8 1588.4,379.3 1588.8,379.2 1589.2,379.9 1589.6,380.1 1590.0,379.6 1590.4,380.4 1590.8,380.2 1591.2,380.8 1591.6,380.6 1592.0,380.8 1592.4,380.7 1592.8,381.8 1593.2,381.1 1593.6,381.2 1594.0,382.2 1594.4,381.1 1594.8,381.7 1595.2,380.9 1595.6,381.1 1596.0,381.6 1596.4,382.3 1596.8,382.0 1597.2,381.7 1597.6,382.5 1598.0,382.2 1598.4,381.9 1598.8,382.8 1599.2,382.6 1599.6,383.0 1600.0,383.1 1600.4,383.3 1600.8,382.5 1601.2,383.0 1601.6,382.0 1602.0,383.5 1602.4,382.9 1602.8,383.5 1603.2,382.7 1603.6,382.8 1604.0,382.6 1604.4,383.8 1604.8,382.0 1605.2,382.0 1605.6,383.4 1606.0,383.4 1606.4,382.8 1606.8,382.3 1607.2,382.2 1607.6,382.8 1608.0,382.3 1608.4,381.8 1608.8,382.9 1609.2,381.8 1609.6,382.5 1610.0,381.5 1610.4,381.2 1610.8,380.7 1611.2,382.0 1611.6,380.9 1612.0,381.6 1612.4,381.3 1612.8,379.4 1613.2,380.0 1613.6,379.8 1614.0,378.4 1614.4,379.6 1614.8,380.2 1615.2,380.5 1615.6,380.8 1616.0,379.7 1616.4,378.5 1616.8,378.3 1617.2,379.4 1617.6,378.7 1618.0,377.6 1618.4,378.8 1618.8,379.4 1619.2,378.8 1619.6,378.8 1620.0,378.0 1620.4,378.9 1620.8,379.2 1621.2,378.9 1621.6,378.5 1622.0,379.5 1622.4,377.3 1622.8,378.0 1623.2,377.9 1623.6,378.5 1624.0,377.9 1624.4,378.1 1624.8,378.8 1625.2,378.6 1625.6,378.8 1626.0,377.7 1626.4,378.2 1626.8,378.8 1627.2,378.5 1627.6,378.9 1628.0,378.5 1628.4,378.8 1628.8,379.3 1629.2,379.1 1629.6,379.8 1630.0,379.1 1630.4,379.0 1630.8,378.8 1631.2,379.3 1631.6,379.3 1632.0,379.9 1632.4,380.4 1632.8,380.6 1633.2,381.0 1633.6,380.2 1634.0,381.2 1634.4,382.6 1634.8,381.1 1635.2,382.1 1635.6,382.3 1636.0,380.9 1636.4,383.0 1636.8,381.2 1637.2,382.5 1637.6,382.1 1638.0,381.3 1638.4,381.7 1638.8,382.7 1639.2,381.8 1639.6,381.7 1640.0,381.9 1640.4,381.8 1640.8,382.1 1641.2,382.5 1641.6,383.9 1642.0,383.3 1642.4,382.3 1642.8,382.4 1643.2,382.7 1643.6,381.8 1644.0,383.0 1644.4,382.2 1644.8,383.3 1645.2,382.6 1645.6,383.1 1646.0,382.1 1646.4,383.1 1646.8,382.9 1647.2,382.3 1647.6,383.3 1648.0,383.4 1648.4,382.6 1648.8,383.3 1649.2,382.1 1649.6,382.4 1650.0,382.5 1650.4,383.2 1650.8,383.2 1651.2,382.6 1651.6,383.7 1652.0,383.4 1652.4,382.6 1652.8,382.9 1653.2,384.0 1653.6,381.8 1654.0,383.0 1654.4,382.7 1654.8,382.3 1655.2,383.2 1655.6,382.3 1656.0,382.8 1656.4,382.8 1656.8,383.1 1657.2,382.1 1657.6,382.5 1658.0,383.2 1658.4,382.9 1658.8,383.4 1659.2,382.8 1659.6,382.7 1660.0,382.2 1660.4,383.2 1660.8,383.0 1661.2,381.3 1661.6,382.0 1662.0,382.0 1662.4,381.1 1662.8,381.9 1663.2,381.1 1663.6,382.0 1664.0,382.1 1664.4,381.5 1664.8,380.9 1665.2,380.9 1665.6,381.7 1666.0,380.1 1666.4,380.7 1666.8,381.0 1667.2,380.3 1667.6,380.3 1668.0,379.6 1668.4,380.8 1668.8,379.6 1669.2,379.8 1669.6,379.8 1670.0,379.6 1670.4,378.5 1670.8,379.3 1671.2,380.1 1671.6,380.2 1672.0,378.8 1672.4,380.0 1672.8,379.5 1673.2,379.7 1673.6,380.1 1674.0,379.6 1674.4,380.6 1674.8,379.6 1675.2,379.6 1675.6,379.3 1676.0,380.5 1676.4,379.7 1676.8,379.6 1677.2,379.1 1677.6,380.8 1678.0,378.3 1678.4,379.8 1678.8,380.9 1679.2,380.1 1679.6,380.2 1680.0,379.7 1680.4,379.3 1680.8,379.5 1681.2,380.2 1681.6,379.3 1682.0,379.6 1682.4,379.3 1682.8,379.4 1683.2,379.5 1683.6,380.0 1684.0,378.9 1684.4,379.1 1684.8,379.8 1685.2,380.5 1685.6,381.0 1686.0,379.0 1686.4,379.5 1686.8,379.2 1687.2,379.9 1687.6,378.4 1688.0,380.0 1688.4,379.3 1688.8,379.1 1689.2,380.5 1689.6,379.1 1690.0,380.1 1690.4,379.7 1690.8,380.4 1691.2,379.5 1691.6,380.0 1692.0,379.5 1692.4,380.0 1692.8,380.8 1693.2,379.2 1693.6,378.7 1694.0,380.5 1694.4,379.4 1694.8,379.9 1695.2,380.2 1695.6,380.5 1696.0,380.7 1696.4,380.0 1696.8,380.3 1697.2,379.4 1697.6,380.0 1698.0,380.3 1698.4,381.2 1698.8,380.9 1699.2,381.0 1699.6,381.1 1700.0,381.3 1700.4,381.5 1700.8,380.7 1701.2,381.4 1701.6,381.7 1702.0,381.4 1702.4,380.6 1702.8,382.4 1703.2,381.5 1703.6,381.6 1704.0,382.3"/>
<g fill="#000" shape-rendering="crispEdges">
<rect x="124" y="20" width="3" height="1177"/>
<rect x="124" y="20" width="1596" height="3"/>
<rect x="1718" y="20" width="2" height="1177"/>
<rect x="124" y="1195" width="1596" height="2"/>
<rect x="174.84" y="1197" width="3" height="10"/>
<rect x="264.67" y="1197" width="3" height="22"/>
<rect x="354.50" y="1197" width="3" height="10"/>
<rect x="444.34" y="1197" width="3" height="22"/>
<rect x="534.17" y="1197" width="3" height="10"/>
<rect x="624.01" y="1197" width="3" height="22"/>
<rect x="713.85" y="1197" width="3" height="10"/>
<rect x="803.68" y="1197" width="3" height="22"/>
<rect x="893.51" y="1197" width="3" height="10"/>
<rect x="983.35" y="1197" width="3" height="22"/>
<rect x="1073.18" y="1197" width="3" height="10"/>
<rect x="1163.02" y="1197" width="3" height="22"/>
<rect x="1252.86" y="1197" width="3" height="10"/>
<rect x="1342.69" y="1197" width="3" height="22"/>
<rect x="1432.53" y="1197" width="3" height="10"/>
<rect x="1522.36" y="1197" width="3" height="22"/>
<rect x="1612.19" y="1197" width="3" height="10"/>
<rect x="1702.03" y="1197" width="3" height="22"/>
</g>
<g fill="#000">
<circle cx="522.00" cy="318.75" r="11.2"/>
<circle cx="686.75" cy="252.50" r="11.2"/>
<circle cx="825.00" cy="337.00" r="11.2"/>
<circle cx="980.00" cy="333.75" r="11.2"/>
<circle cx="1064.50" cy="333.75" r="11.2"/>
<circle cx="1182.50" cy="354.50" r="11.2"/>
<circle cx="524.25" cy="543.00" r="11.2"/>
<circle cx="691.00" cy="489.75" r="11.2"/>
<circle cx="825.50" cy="549.50" r="11.2"/>
<circle cx="980.50" cy="545.75" r="11.2"/>
<circle cx="1064.25" cy="540.00" r="11.2"/>
<circle cx="1183.00" cy="558.75" r="11.2"/>
<circle cx="525.75" cy="792.00" r="11.2"/>
<circle cx="696.25" cy="743.00" r="11.2"/>
<circle cx="827.50" cy="800.00" r="11.2"/>
<circle cx="978.75" cy="810.50" r="11.2"/>
<circle cx="1063.25" cy="808.75" r="11.2"/>
<circle cx="1186.75" cy="805.50" r="11.2"/>
<circle cx="181.90" cy="84.60" r="11.2"/>
<polygon points="730.30,259.00 741.30,274.00 730.30,289.00 719.30,274.00"/>
<polygon points="1462.30,333.60 1473.30,348.60 1462.30,363.60 1451.30,348.60"/>
<polygon points="730.00,496.30 741.00,511.30 730.00,526.30 719.00,511.30"/>
<polygon points="729.50,739.00 740.50,754.00 729.50,769.00 718.50,754.00"/>
<polygon points="182.00,137.00 193.00,152.00 182.00,167.00 171.00,152.00"/>
</g>
<text transform="translate(266.57,1269.60) scale(1,1.055)" font-size="45" text-anchor="middle" fill="#000">10</text>
<text transform="translate(446.24,1269.60) scale(1,1.055)" font-size="45" text-anchor="middle" fill="#000">20</text>
<text transform="translate(625.91,1269.60) scale(1,1.055)" font-size="45" text-anchor="middle" fill="#000">30</text>
<text transform="translate(805.58,1269.60) scale(1,1.055)" font-size="45" text-anchor="middle" fill="#000">40</text>
<text transform="translate(985.25,1269.60) scale(1,1.055)" font-size="45" text-anchor="middle" fill="#000">50</text>
<text transform="translate(1164.92,1269.60) scale(1,1.055)" font-size="45" text-anchor="middle" fill="#000">60</text>
<text transform="translate(1344.59,1269.60) scale(1,1.055)" font-size="45" text-anchor="middle" fill="#000">70</text>
<text transform="translate(1524.26,1269.60) scale(1,1.055)" font-size="45" text-anchor="middle" fill="#000">80</text>
<text transform="translate(1703.93,1269.60) scale(1,1.055)" font-size="45" text-anchor="middle" fill="#000">90</text>
<text transform="translate(922.60,1356.00) scale(1,1.03)" font-size="50" text-anchor="middle" fill="#000">2 Theta (<tspan font-size="34" dy="-19.4">o</tspan><tspan dy="19.4">)</tspan></text>
<text transform="translate(51.00,608.00) rotate(-90) scale(1,1.03)" font-size="49.7" text-anchor="middle" fill="#000">Intensity (a.u.)</text>
<text transform="translate(211.30,96.50) scale(1,1.068)" font-size="33" text-anchor="start" fill="#000">Fe<tspan font-size="22" dy="9.3">2</tspan><tspan dy="-9.3" dx="0.7">O</tspan><tspan font-size="22" dy="9.3">3</tspan></text>
<text transform="translate(310.70,96.50) scale(1,1.03)" font-size="27.75" text-anchor="start" fill="#000">(JCPDS No. 33-0664)</text>
<text transform="translate(210.50,161.30) scale(1,1.068)" font-size="33" text-anchor="start" fill="#000">FeAl<tspan font-size="22" dy="7.6">2</tspan><tspan dy="-7.6" dx="-0.2">O</tspan><tspan font-size="22" dy="7.6">4</tspan></text>
<text transform="translate(338.70,161.40) scale(1,1.03)" font-size="27.75" text-anchor="start" fill="#000">(JCPDS No. 22-1086)</text>
<text transform="translate(1702.50,434.90) scale(1,1.03)" font-size="37.8" text-anchor="end" fill="#31ad6b" font-weight="bold">F30Al</text>
<text transform="translate(1702.50,636.00) scale(1,1.03)" font-size="38.5" text-anchor="end" fill="#1868dc" font-weight="bold">F20Al</text>
<text transform="translate(1702.50,903.50) scale(1,1.03)" font-size="38.5" text-anchor="end" fill="#f44141" font-weight="bold">F10Al</text>
<text transform="translate(1704.20,1137.30) scale(1,1.03)" font-size="38.8" text-anchor="end" fill="#505050" font-weight="bold">Al<tspan font-size="26" dy="9">2</tspan><tspan dy="-9">O</tspan><tspan font-size="26" dy="9">3</tspan><tspan dy="-9"> (Fresh)</tspan></text>
</svg>
</body></html>
